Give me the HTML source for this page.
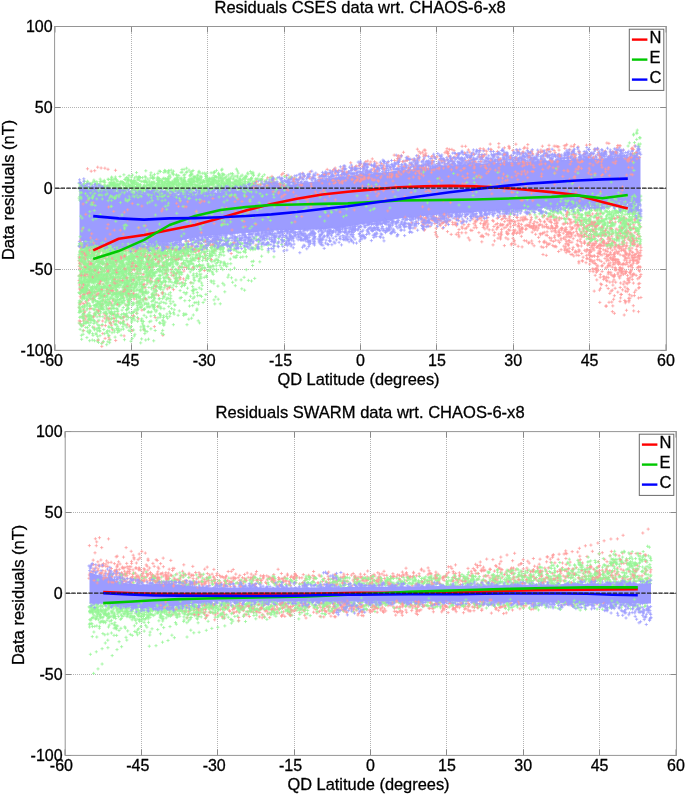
<!DOCTYPE html>
<html><head><meta charset="utf-8"><style>
html,body{margin:0;padding:0;background:#fff;width:685px;height:796px;overflow:hidden}
svg{display:block;will-change:transform}
text{font-family:"Liberation Sans", sans-serif;font-size:16px;fill:#000;stroke:#000;stroke-width:0.3px}
.tt{font-size:16.55px}
.g{stroke:#b4b4b4;stroke-width:1;stroke-dasharray:1 1;fill:none}
.t{stroke:#8a8a8a;stroke-width:1;fill:none}
.b{stroke:#959595;stroke-width:1;fill:none}
.lg{stroke:#6a6a6a;stroke-width:1;fill:#fff}
.z{stroke:#222;stroke-width:1.2;stroke-dasharray:4.3 1.4;fill:none}
</style></head><body>
<svg width="685" height="796" viewBox="0 0 685 796">
<rect width="685" height="796" fill="#fff"/>
<path d="M131.5 27V350.3" class="g"/>
<path d="M207.5 27V350.3" class="g"/>
<path d="M284.5 27V350.3" class="g"/>
<path d="M360.5 27V350.3" class="g"/>
<path d="M436.5 27V350.3" class="g"/>
<path d="M513.5 27V350.3" class="g"/>
<path d="M589.5 27V350.3" class="g"/>
<path d="M56 107.5H666.3" class="g"/>
<path d="M56 188.5H666.3" class="g"/>
<path d="M56 269.5H666.3" class="g"/>
<path d="M55.0 350.3v-6M55.0 26.5v6M131.5 350.3v-6M131.5 26.5v6M207.5 350.3v-6M207.5 26.5v6M284.5 350.3v-6M284.5 26.5v6M360.5 350.3v-6M360.5 26.5v6M436.5 350.3v-6M436.5 26.5v6M513.5 350.3v-6M513.5 26.5v6M589.5 350.3v-6M589.5 26.5v6M666.0 350.3v-6M666.0 26.5v6M54.6 350.5h6M666.3 350.5h-6M54.6 269.5h6M666.3 269.5h-6M54.6 188.5h6M666.3 188.5h-6M54.6 107.5h6M666.3 107.5h-6M54.6 26.5h6M666.3 26.5h-6" class="t"/>
<defs><marker id="mr" markerUnits="userSpaceOnUse" markerWidth="4" markerHeight="4" refX="2" refY="2" overflow="visible"><path d="M0.4 2h3.2M2 0.4v3.2" stroke="#ff9a9a" stroke-width="0.75" fill="none"/></marker><marker id="mg" markerUnits="userSpaceOnUse" markerWidth="4" markerHeight="4" refX="2" refY="2" overflow="visible"><path d="M0.4 2h3.2M2 0.4v3.2" stroke="#96f596" stroke-width="0.75" fill="none"/></marker><marker id="mb" markerUnits="userSpaceOnUse" markerWidth="4" markerHeight="4" refX="2" refY="2" overflow="visible"><path d="M0.4 2h3.2M2 0.4v3.2" stroke="#9c9cff" stroke-width="0.75" fill="none"/></marker></defs><clipPath id="ct"><rect x="54.6" y="26.5" width="611.6999999999999" height="323.8"/></clipPath>
<g clip-path="url(#ct)">
<polyline points="90.5,263.7 206.2,244.6 124.9,275.0 107.1,282.8 104.9,296.3 93.9,255.7 116.4,248.3 97.9,321.2 120.7,255.8 122.8,244.8 112.5,291.7 105.1,338.4 179.9,266.2 147.9,276.9 80.8,264.5 129.8,272.2 91.8,270.7 172.5,259.7 164.3,248.4 142.5,293.2 127.8,280.9 116.0,264.3 114.5,256.5 90.8,279.4 120.2,247.2 98.4,243.5 103.7,271.0 116.9,244.9 115.4,243.5 121.0,294.6 94.8,249.9 155.2,252.9 139.2,268.8 98.0,303.5 157.7,250.1 87.6,248.7 126.5,284.7 130.6,295.7 124.7,249.1 182.7,250.4 175.4,260.5 129.1,242.4 152.7,294.4 83.5,313.5 156.3,290.4 119.1,254.6 209.3,243.3 83.4,309.2 125.8,270.7 107.6,290.2 88.5,268.7 166.5,260.8 80.9,298.0 126.5,247.1 166.9,264.0 115.3,244.6 129.4,269.7 143.9,279.4 119.9,267.4 114.7,293.0 119.7,258.1 95.5,275.7 147.7,255.1 101.8,346.4 128.2,283.1 151.7,270.7 83.6,252.4 101.6,243.7 164.3,262.2 114.5,255.2 256.0,245.0 195.4,252.2 199.1,249.5 152.3,263.0 152.7,259.7 128.3,301.5 83.6,330.5 105.7,247.2 193.2,259.1 158.4,263.3 106.9,288.3 140.6,289.9 165.6,249.1 167.3,288.9 122.3,261.8 110.3,313.4 123.1,322.2 84.2,252.3 152.3,264.2 113.6,321.8 79.3,266.3 192.5,245.4 118.0,266.9 149.2,275.1 105.8,238.7 104.6,251.4 93.9,296.0 96.3,273.1 110.2,275.3 91.1,308.5 183.5,278.9 157.3,253.6 80.1,252.7 91.4,279.3 87.6,285.1 93.9,254.4 116.2,259.9 83.7,263.9 81.1,272.9 92.7,286.8 106.3,280.6 154.4,250.7 163.1,267.3 113.6,314.8 118.9,251.0 101.2,280.7 84.7,266.1 153.9,246.9 94.8,291.6 89.9,268.7 153.8,288.6 95.1,269.5 82.4,296.0 145.1,287.6 156.2,244.7 107.1,247.9 88.3,281.6 111.3,303.3 158.8,248.0 122.7,263.2 83.6,257.4 85.2,273.7 85.8,288.8 130.5,285.5 117.1,291.1 151.7,250.3 100.1,267.9 96.3,289.1 167.7,253.5 162.9,335.2 144.2,253.7 138.3,318.8 110.4,323.6 106.5,278.5 132.3,258.6 163.8,245.7 117.7,280.1 103.9,264.1 91.5,273.6 193.4,249.9 132.5,244.2 134.0,296.8 129.7,263.9 165.6,247.8 98.0,261.7 177.1,255.2 117.2,253.4 96.2,267.0 127.8,281.8 147.4,251.4 80.6,289.9 151.1,264.4 101.4,271.8 198.4,242.8 114.2,281.8 123.6,320.9 205.2,240.3 95.2,250.8 93.4,281.4 136.7,267.1 157.3,263.6 105.9,315.5 140.7,252.9 138.9,258.0 126.8,258.6 103.5,300.0 81.0,248.7 110.8,287.8 112.4,329.7 153.7,267.0 188.6,241.4 84.1,288.3 102.4,263.1 204.5,253.9 87.7,321.2 129.4,295.9 149.9,248.9 183.4,253.6 161.1,256.0 122.7,294.5 163.6,254.4 178.7,268.0 110.4,277.2 89.3,246.7 102.8,333.6 164.9,285.3 102.2,303.4 128.6,300.1 101.4,239.2 105.4,325.6 92.5,250.0 166.5,273.2 116.6,262.1 92.0,295.1 94.6,275.0 142.7,254.5 168.6,277.6 125.9,305.0 100.0,262.5 95.1,242.2 98.2,275.2 124.1,335.9 137.1,302.0 163.1,254.0 81.2,260.6 90.0,281.1 101.5,248.8 105.8,245.2 83.2,325.4 111.8,290.4 88.3,300.2 80.7,242.4 107.0,272.4 183.7,252.2 173.5,289.6 199.7,266.3 163.3,264.2 158.4,281.8 155.2,317.4 168.6,259.5 134.5,287.0 150.3,255.9 80.7,293.7 92.9,245.7 131.6,253.1 127.1,316.2 185.6,247.6 101.7,259.9 157.8,247.6 111.3,305.0 81.1,291.0 106.4,253.3 99.4,315.0 179.4,277.3 125.5,243.2 182.8,282.7 82.9,254.1 93.1,299.0 85.3,266.2 80.3,296.3 133.2,316.7 131.1,251.7 92.7,253.7 100.5,249.1 119.5,280.8 142.9,299.8 120.6,262.8 92.1,264.4 117.4,285.2 169.9,279.4 132.0,295.0 141.9,257.3 86.9,303.1 109.4,301.8 111.7,240.9 115.1,270.4 82.5,283.5 85.5,269.3 89.0,271.6 90.2,273.8 98.5,311.1 139.5,243.2 103.0,257.3 82.3,257.4 97.6,250.6 107.3,239.7 128.8,295.1 138.5,266.0 98.4,240.3 117.2,257.8 120.0,247.4 133.5,315.4 158.5,295.4 91.0,247.5 177.8,283.1 109.1,255.9 121.2,291.9 118.4,285.4 107.8,267.1 110.8,240.7 225.7,241.4 180.2,277.6 128.1,286.2 90.4,262.0 193.0,251.2 99.6,284.5 113.4,262.3 127.1,268.2 85.9,248.7 92.1,252.9 136.6,313.2 107.6,317.6 82.2,244.2 113.0,282.6 86.6,250.1 101.5,278.9 136.2,294.6 88.5,276.9 116.7,274.5 186.5,267.6 79.1,280.5 112.8,301.0 135.4,249.0 81.0,244.5 94.4,292.6 127.4,324.3 81.0,302.2 215.0,242.5 196.3,250.0 155.7,253.2 183.9,271.0 97.3,277.3 133.6,295.4 85.4,291.7 80.4,321.4 168.5,257.0 133.3,263.5 131.9,273.8 88.8,261.6 127.3,295.0 169.7,248.9 130.2,273.8 157.8,251.6 111.3,287.9 149.5,249.9 139.9,279.6 93.2,265.2 186.6,246.7 101.7,242.0 141.3,255.3 88.1,290.4 205.3,258.3 163.3,258.0 180.0,279.2 113.9,244.9 212.8,240.2 116.5,255.5 90.4,267.8 106.8,263.6 141.6,260.7 158.5,243.9 188.7,247.3 99.3,255.8 204.3,248.9 149.1,270.9 181.1,250.4 86.3,316.8 191.7,246.4 96.6,275.5 145.4,247.8 159.5,260.1 108.2,257.0 79.9,268.7 117.7,281.7 175.3,278.5 132.4,269.8 148.3,250.1 127.8,264.5 108.9,258.5 112.5,314.0 85.5,259.0 164.6,266.2 157.4,306.6 141.6,263.4 167.6,251.5 106.7,292.1 143.1,249.4 102.7,295.5 140.2,273.1 140.5,262.9 139.5,260.8 110.7,255.2 125.0,277.1 97.3,261.1 97.8,284.7 119.2,253.7 181.3,256.4 91.6,276.9 152.0,266.4 167.1,248.0 79.2,275.8 88.5,263.1 104.6,279.9 94.0,327.3 101.8,255.4 158.9,270.6 182.0,263.6 138.5,277.1 102.2,304.5 148.7,275.7 200.9,246.0 149.6,242.0 120.7,293.3 134.2,260.8 129.3,326.1 106.7,252.3 111.6,325.2 179.4,244.6 214.6,250.4 203.9,246.9 84.7,260.1 133.4,250.2 109.5,266.4 128.7,257.1 118.6,321.9 130.1,291.0 149.4,273.9 154.0,295.7 146.9,277.9 113.8,277.3 134.1,299.0 128.1,250.7 152.3,258.1 171.2,272.8 112.7,254.0 131.4,290.4 81.3,277.0 104.2,313.8 169.6,265.1 85.7,301.8 97.6,260.2 113.9,287.9 154.4,326.6 101.8,305.4 140.4,253.1 82.6,262.2 84.8,315.8 108.8,337.2 96.5,242.9 82.6,316.7 92.9,248.7 83.2,258.8 102.1,279.5 125.0,269.0 140.5,269.1 101.2,306.1 115.4,285.2 149.4,257.0 200.8,243.8 153.3,249.3 121.2,250.0 201.1,268.8 80.7,269.1 178.0,256.4 162.4,293.8 85.7,276.6 80.6,301.7 117.8,244.7 122.0,266.0 114.0,253.7 103.7,276.8 136.3,277.1 102.0,262.5 155.2,281.1 151.5,260.6 106.3,242.7 101.3,308.2 117.8,260.1 81.7,261.6 124.5,286.9 123.7,297.1 127.1,247.0 85.2,262.6 131.5,279.6 80.8,274.2 171.1,269.6 96.8,309.9 86.6,251.2 108.4,293.0 159.4,261.2 96.5,259.2 144.6,284.2 157.2,257.3 129.5,261.5 116.8,290.2 113.2,299.5 201.2,246.2 109.5,239.2 145.3,291.6 84.3,312.6 85.6,272.7 134.6,245.6 123.3,250.1 84.6,257.7 111.1,263.3 119.2,248.6 112.9,280.9 155.1,246.7 132.8,265.5 163.2,265.4 132.6,254.2 144.1,287.4 145.1,253.5 165.0,273.7 159.1,252.3 123.8,287.7 105.4,258.4 90.0,275.7 119.3,259.3 102.8,342.3 89.1,290.6 79.3,307.5 186.3,249.2 109.3,339.5 104.7,257.9 126.5,245.6 106.9,290.5 143.8,329.6 92.7,259.7 102.0,325.6 96.3,251.0 249.3,241.5 171.3,249.0 114.5,258.4 97.7,312.0 81.1,257.6 139.3,241.2 79.6,246.7 94.3,313.8 132.7,283.3 183.3,247.7 171.5,256.7 167.0,268.9 91.1,292.2 109.8,268.3 91.5,275.6 147.8,282.9 132.4,330.5 217.4,248.3 117.9,314.0 191.3,247.2 115.7,340.5 80.0,323.6 107.2,266.0 132.9,257.9 79.3,320.9 122.5,249.1 136.9,253.2 191.7,248.6 137.6,274.0 190.9,282.7 96.8,255.5 100.8,262.9 142.0,277.0 88.1,294.0 89.7,308.8 165.7,270.6 199.5,250.1 119.8,278.0 134.9,248.8 83.5,320.9 136.6,282.7 103.2,252.1 113.0,243.7 103.2,284.1 117.5,283.3 110.0,261.6 179.0,253.1 106.4,276.6 109.1,248.2 144.3,268.3 79.1,260.6 88.3,267.2 210.9,241.5 156.2,294.0 85.0,311.1 125.5,287.8 102.0,269.0 107.0,246.2 120.8,293.0 120.7,281.3 166.1,270.4 120.8,318.1 162.2,266.4 87.3,258.3 89.3,253.2 568.0,157.9 350.7,162.8 424.2,150.1 595.6,156.2 631.8,148.4 591.6,154.0 289.8,178.5 572.1,151.3 490.2,144.1 403.3,166.6 367.8,161.0 279.5,187.0 379.1,165.4 620.6,157.6 559.0,150.1 302.4,173.3 565.9,145.7 442.6,167.2 272.0,176.4 347.9,172.4 343.1,173.8 605.5,151.3 324.4,184.5 419.0,160.1 554.1,150.5 610.3,152.1 358.9,165.8 401.4,155.4 414.7,159.8 522.3,158.5 615.8,154.2 298.0,180.5 265.1,186.2 383.3,165.2 360.7,164.1 447.9,151.6 636.0,162.6 516.0,157.6 578.2,146.9 632.9,160.7 337.4,171.4 449.6,149.4 556.9,159.7 523.9,148.4 466.5,162.2 428.4,165.8 482.9,155.1 557.1,155.4 546.3,152.8 291.3,176.9 548.6,162.4 583.6,154.7 555.2,152.7 299.7,177.7 470.4,157.2 573.4,146.6 265.3,181.4 317.8,174.6 418.1,155.4 304.7,183.1 480.1,148.6 447.7,153.2 434.7,157.7 421.4,165.5 634.3,155.9 312.7,183.7 484.7,150.3 352.5,167.1 604.5,153.4 518.2,158.4 498.8,143.6 509.4,147.1 295.8,183.9 532.7,154.4 543.1,160.6 454.9,156.9 400.9,156.9 306.5,186.0 365.8,161.6 387.8,162.4 341.0,178.9 381.4,163.7 432.9,155.9 512.8,150.4 592.2,160.8 634.7,145.9 556.1,146.2 425.2,150.2 462.1,146.3 365.5,164.4 568.7,156.7 590.4,155.4 598.3,152.6 375.5,175.3 385.7,168.3 352.4,169.5 515.7,163.4 510.3,163.3 523.9,159.5 399.6,161.2 524.7,147.3 365.6,175.8 431.6,163.9 421.8,169.8 505.1,154.3 476.4,163.1 335.8,177.4 464.6,152.9 510.9,155.8 276.4,185.2 516.4,159.8 315.1,182.3 339.2,181.7 465.6,146.3 532.5,153.4 586.6,164.1 614.1,153.1 505.3,162.8 372.3,177.0 468.4,160.5 509.3,148.4 443.7,160.2 445.0,152.7 267.0,187.4 446.3,151.1 398.6,174.5 504.4,147.8 581.1,159.4 574.1,158.9 319.1,177.7 497.1,154.7 568.7,153.0 332.7,171.0 394.5,160.5 569.8,149.4 452.2,158.3 423.7,156.2 604.4,151.6 470.2,158.6 363.7,174.4 339.8,180.4 486.2,154.1 398.1,169.2 540.9,150.0 363.9,166.4 437.2,156.8 517.1,165.4 623.0,219.6 597.3,247.2 577.0,244.3 519.4,229.0 606.9,228.1 628.9,278.9 592.4,268.9 609.8,282.1 603.6,279.3 527.0,219.5 535.6,234.3 612.8,233.6 603.3,276.8 427.7,225.1 565.8,246.8 629.2,247.9 542.2,225.2 603.0,245.9 629.7,254.5 603.5,240.5 422.1,219.4 605.6,250.1 514.3,231.2 548.0,244.4 628.1,280.3 632.1,258.0 546.3,255.4 622.9,245.0 504.3,215.2 599.2,253.5 608.0,265.7 526.8,225.1 558.3,231.8 591.3,251.4 566.6,241.4 495.9,224.5 596.6,241.3 601.8,218.3 612.7,218.6 593.7,248.0 608.0,248.7 630.0,277.7 456.3,234.3 620.9,247.1 594.0,250.1 561.2,228.5 570.1,226.9 607.1,246.4 543.2,247.4 543.7,241.9 508.0,239.1 590.7,234.6 601.6,284.6 521.4,224.4 553.5,215.2 586.4,255.6 640.9,255.7 475.8,222.0 616.9,259.6 608.8,260.3 640.2,252.9 556.3,225.5 576.4,228.9 497.8,227.0 638.4,283.9 588.5,237.9 488.0,224.1 578.9,263.0 599.0,250.9 629.9,221.0 488.3,234.8 482.1,235.3 610.8,220.6 553.4,241.5 629.4,262.3 459.0,236.8 611.8,223.2 587.3,258.3 583.1,257.2 623.3,284.2 476.9,216.3 617.8,274.2 472.9,219.1 544.7,226.8 603.9,243.1 577.5,233.7 633.7,310.9 640.9,247.4 597.3,259.6 612.9,285.1 462.3,228.2 601.5,238.6 426.3,220.8 563.8,246.1 632.1,276.2 613.6,299.3 590.1,224.3 546.5,226.7 532.2,232.2 584.0,231.2 507.7,234.3 626.6,260.8 525.5,229.3 456.6,225.7 612.1,245.2 576.3,231.4 612.1,275.4 525.2,217.0 625.4,273.5 570.4,222.0 525.2,225.9 590.2,255.9 551.8,226.8 630.6,234.0 568.4,244.7 624.9,226.5 589.0,238.3 416.8,222.2 610.1,238.5 518.3,225.3 581.7,235.6 566.6,234.8 589.2,250.4 578.0,224.6 502.9,218.5 559.3,234.5 526.5,241.0 616.4,251.2 554.7,220.4 622.7,268.2 600.1,240.0 588.6,220.7 578.8,225.7 546.6,242.9 556.2,217.1 619.7,278.0 455.1,222.8 554.9,223.6 624.9,251.1 629.9,251.0 620.6,283.0 517.9,220.7 607.9,243.5 522.3,232.1 592.1,245.5 633.4,283.1 595.8,224.5 457.3,219.9 604.2,242.9 423.9,217.9 424.9,221.2 512.3,221.0 580.8,221.6 534.7,221.7 627.2,291.7 418.3,217.9 538.4,228.1 440.8,220.4 629.9,298.3 608.2,274.0 593.4,243.8 528.3,212.9 476.6,227.7 621.3,248.9 586.4,228.4 638.5,298.0 607.3,244.6 546.0,235.0 614.0,279.9 632.0,265.1 446.8,222.9 595.2,222.2 550.9,221.9 559.7,232.5 613.4,254.4 522.6,219.6 639.0,255.7 483.5,224.1 451.2,234.4 627.4,234.0 569.5,219.6 578.3,210.2 568.1,234.7 595.7,269.2 588.2,215.7 632.5,274.9 637.3,256.9 515.2,230.1 596.8,279.9 559.3,217.6 551.8,231.2 409.5,225.0 604.3,231.6 612.8,305.9 449.8,220.6 594.1,238.1 594.8,209.9 452.9,224.5 594.5,244.1 529.3,224.8 588.8,243.4 592.1,261.1 435.4,232.3 412.5,216.6 619.1,217.4 468.0,226.3 549.2,217.1 627.0,223.2 633.8,212.4 628.7,298.3 584.5,243.4 569.0,236.4 423.4,225.2 613.4,276.7 626.5,310.3 570.8,219.8 568.4,245.2 542.4,233.7 579.1,236.2 534.1,245.8 610.9,274.2 562.3,228.6 600.4,274.4 493.0,244.9 607.5,267.0 601.3,245.6 623.3,249.3 571.0,254.5 428.8,220.7 588.2,244.3 602.3,230.2 631.2,270.9 631.3,234.3 598.1,256.7 617.4,233.9 621.0,270.0 481.6,216.5 463.9,224.7 458.1,218.9 633.7,273.9 630.1,232.9 640.6,227.1 617.7,235.7 615.4,260.6 616.7,236.9 584.3,227.8 573.2,247.4 591.1,238.8 626.8,245.5 618.1,272.8 531.7,241.0 411.6,222.8 636.3,249.4 575.4,251.1 541.3,246.8 547.7,219.2 600.7,228.3 622.6,289.8 500.5,239.0 492.7,220.4 639.6,271.2 609.4,233.8 621.6,250.6 628.6,266.7 584.6,219.7 628.9,301.9 513.0,234.1 592.3,226.0 577.6,240.7 609.1,265.4 544.3,242.6 616.6,269.7 509.3,222.9 634.2,244.7 597.0,268.0 558.6,251.5 629.2,258.1 578.9,249.8 623.7,263.4 522.1,246.9 626.9,253.6 544.7,241.2 632.9,260.3 510.4,220.3 631.7,256.0 461.9,226.9 590.5,231.1 498.0,238.2 423.9,223.7 547.3,235.5 565.4,223.1 605.7,268.0 522.2,228.2 612.8,281.9 612.2,250.2 612.3,267.1 555.4,246.2 610.8,272.3 509.2,218.1 596.1,235.6 530.2,227.2 557.3,226.9 544.3,232.3 618.0,247.7 610.2,262.9 637.1,259.9 431.7,218.5 513.0,233.6 627.9,238.9 638.8,258.0 621.7,220.2 632.4,267.7 590.6,215.7 610.1,245.5 505.9,237.9 458.1,216.8 639.4,277.7 581.7,253.5 532.6,228.1 608.8,231.9 612.8,242.2 452.6,222.3 592.8,262.1 638.9,252.9 615.7,244.3 622.9,246.5 626.8,262.6 555.6,240.1 568.7,251.5 520.1,230.4 582.6,261.2 625.1,231.6 604.8,233.1 606.4,285.7 600.8,222.1 620.6,297.9 531.5,226.4 505.8,218.6 561.0,240.0 630.7,229.5 540.5,234.8 625.7,272.7 611.1,254.8 571.0,233.6 601.9,235.6 625.8,301.5 614.9,253.2 580.2,239.2 576.8,255.1 622.7,235.9 592.7,249.1 631.8,295.9 601.3,261.4 509.8,230.3 626.3,218.8 592.5,230.9 481.0,236.4 550.6,216.6 613.6,259.5 589.4,242.6 595.4,263.5 500.5,237.8 584.4,236.5 533.6,225.6 539.4,219.5 600.2,277.2 565.7,243.9 617.8,292.1 632.4,240.0 594.2,291.1 566.9,232.3 565.0,229.0 484.1,223.5 624.2,315.0 618.3,246.0 481.8,241.8 618.0,259.6 559.5,242.6 577.3,222.3 509.5,221.0 622.1,273.1 478.9,232.6 597.7,246.8 563.5,238.2 554.4,219.6 611.1,291.1 573.3,232.6 445.7,225.3 509.7,216.3 621.8,271.7 608.6,263.9 581.8,233.1 504.4,245.6 536.2,226.2 623.5,274.3 599.7,244.1 557.1,222.7 594.1,255.7 630.4,274.0 624.2,256.4 590.9,259.7 502.9,224.6 569.2,248.3 555.6,228.0 625.3,302.8 602.1,232.8 599.5,290.1 521.0,217.9 631.6,237.2 637.1,261.0 619.7,231.1 603.6,233.7 501.5,234.8 416.7,213.3 583.6,227.8 501.6,229.4 577.9,215.0 617.5,253.2 622.2,243.2 552.3,227.2 609.3,254.4 581.7,236.9 615.2,267.5 539.1,225.6 618.1,230.0 496.7,229.1 567.4,211.6 597.8,253.2 565.4,231.3 561.0,238.3 525.5,218.7 586.0,262.7 607.3,259.0 607.7,239.1 566.2,250.0 570.3,232.6 612.3,290.2 527.6,225.4 582.0,223.8 423.1,220.1 534.3,230.1 501.7,225.0 624.9,287.0 589.4,259.2 558.6,236.1 620.8,236.2 620.0,301.4 480.6,223.3 602.7,225.9 635.8,260.5 616.2,229.0 632.6,235.6 569.1,231.9 570.0,224.0 613.8,241.9 455.1,224.5 612.9,257.1 583.5,224.5 607.7,251.6 611.0,245.3 487.2,227.9 536.8,216.9 615.1,268.9 625.8,258.3 483.6,225.8 518.2,246.3 586.9,249.5 571.1,229.8 635.6,229.1 604.3,235.7 565.2,239.6 576.3,251.9 628.5,237.1 510.4,226.9 614.9,260.1 580.9,231.8 450.3,216.1 608.8,272.5 625.9,223.3 517.2,217.5 596.1,268.5 593.3,234.9 493.9,226.5 555.6,228.2 442.7,228.3 415.0,228.0 626.2,246.6 528.5,243.1 483.5,217.1 599.0,253.5 592.0,246.0 591.1,256.2 630.8,270.0 537.1,222.6 573.8,256.0 574.9,225.9 606.7,260.9 578.3,246.0 628.3,289.7 620.9,275.6 612.5,260.2 600.6,244.6 625.6,252.1 421.8,222.0 507.2,225.4 630.3,250.2 639.0,224.4 590.1,252.6 617.8,261.8 632.0,252.0 637.8,278.8 572.3,254.4 436.0,234.8 529.9,214.7 635.9,290.2 612.3,240.9 437.3,236.8 600.3,251.5 558.2,240.8 596.5,213.7 598.2,221.5 571.7,234.3 596.1,231.7 637.4,251.2 477.6,219.9 596.6,270.0 610.6,258.3 621.0,230.0 569.9,242.4 615.3,222.1 630.5,272.2 621.2,272.9 594.9,223.0 597.9,266.1 566.2,252.6 614.7,242.5 592.3,256.4 639.3,287.5 606.6,280.6 602.6,241.8 514.6,215.1 523.1,217.2 594.1,236.7 468.3,237.9 574.0,214.4 578.2,251.8 595.6,225.3 482.2,236.4 575.3,216.9 554.2,230.9 489.2,229.8 593.9,269.2 515.0,244.3 580.2,234.8 623.0,271.3 551.1,240.4 636.8,253.4 518.0,226.7 500.5,224.1 638.4,255.6 551.5,216.5 576.1,224.7 602.5,265.8 639.7,283.4 524.3,240.6 513.6,232.9 594.2,260.8 620.0,267.4 621.4,294.5 417.9,217.4 577.1,217.9 466.5,228.0 590.7,241.9 600.7,283.9 506.0,227.2 533.5,226.9 511.1,212.9 633.4,239.0 584.7,250.3 540.2,224.4 629.1,280.9 506.6,233.1 426.6,217.8 638.6,262.0 593.1,271.6 432.2,220.0 534.1,225.2 437.5,222.1 636.9,246.6 614.4,256.6 530.0,222.7 640.8,250.4 582.6,236.1 543.0,217.1 615.8,246.4 592.7,229.3 598.4,245.5 430.0,226.5 633.3,305.7 533.1,228.5 497.7,227.5 544.4,222.1 608.2,288.5 615.0,249.1 581.3,225.6 465.4,216.8 558.1,234.9 636.5,238.1 603.8,231.9 561.6,230.1 508.6,229.7 581.3,246.0 516.6,233.4 587.3,228.4 475.1,217.2 504.0,216.4 515.3,224.7 622.9,264.7 493.4,221.2 514.8,221.4 591.1,247.3 623.3,241.9 619.7,248.7 623.9,250.5 587.9,230.0 542.8,227.0 618.9,251.5 599.9,245.9 529.5,226.3 518.8,223.4 624.1,218.0 634.4,257.6 497.4,223.5 547.1,231.8 619.9,268.1 626.1,283.0 599.8,302.4 591.1,237.9 629.4,272.4 636.8,240.3 481.8,220.3 618.3,261.3 567.5,223.4 580.2,241.5 556.0,232.7 589.9,271.1 484.9,228.9 577.6,225.1 608.8,241.5 568.3,218.9 485.3,222.9 410.0,225.6 507.8,224.7 592.3,243.9 614.7,252.7 556.6,218.7 627.7,278.8 565.0,237.0 629.4,253.3 498.5,234.2 578.0,234.9 606.5,256.3 638.7,216.7 539.1,224.9 494.5,240.9 447.9,221.6 623.0,255.5 614.4,275.4 613.4,262.8 554.1,228.5 520.3,231.8 556.8,226.1 424.9,222.7 588.7,236.2 440.0,216.3 566.2,229.5 618.2,253.0 492.8,230.0 500.2,225.4 588.7,254.3 436.6,217.7 596.4,272.3 624.0,220.3 474.0,223.7 634.5,292.3 511.6,220.8 624.2,281.8 448.4,217.4 616.0,245.2 594.2,263.4 546.5,246.7 626.7,232.9 634.0,274.4 620.7,268.3 611.8,243.2 624.5,238.0 573.2,238.7 624.6,240.2 590.0,255.6 433.9,220.7 582.2,260.6 468.8,224.5 583.0,229.1 470.7,230.2 638.5,311.7 520.1,220.3 554.2,246.6 559.2,230.1 608.5,255.6 579.5,220.0 594.3,245.5 500.1,216.2 640.3,245.0 514.8,222.2 434.9,223.6 621.0,264.4 413.7,213.2 501.7,219.6 637.3,267.8 598.1,270.3 504.7,221.6 561.1,249.7 608.4,272.0 460.9,221.7 630.7,266.1 637.9,246.0 567.4,249.8 475.2,221.6 632.8,252.6 630.3,260.6 622.7,241.9 424.6,229.6 435.2,219.2 625.2,254.8 494.1,235.2 571.8,222.8 532.2,243.7 618.6,264.4 536.6,227.2 494.7,232.5 569.5,251.8 578.8,255.5 575.0,252.4 539.4,241.7 475.9,220.3 610.2,227.1 606.4,306.1 429.4,222.3 565.0,248.2 623.8,217.0 487.1,220.7 614.2,247.1 640.9,297.5 535.2,227.4 605.8,306.1 591.3,224.1 533.3,223.5 637.5,234.4 511.3,244.8 564.4,230.7 612.4,311.6 595.2,275.3 555.5,230.8 586.7,236.2 626.8,243.0 639.5,259.0 567.3,243.8 519.4,226.6 115.5,170.3 101.1,168.0 108.0,169.3 97.7,167.2" fill="none" stroke="none" marker-start="url(#mr)" marker-mid="url(#mr)" marker-end="url(#mr)"/>
<polyline points="154.4,186.9 207.9,190.8 151.7,186.1 161.6,188.7 195.6,200.4 80.0,187.2 83.2,201.4 131.9,193.6 131.2,181.9 154.0,188.8 134.0,197.8 198.5,192.0 245.2,186.0 242.5,179.9 205.0,199.6 204.0,185.8 152.8,178.4 220.3,177.6 114.6,194.5 243.7,178.3 247.6,173.1 95.6,195.6 177.2,181.4 184.8,174.6 123.0,193.6 92.7,187.4 110.9,193.5 135.6,194.4 197.2,177.1 188.4,188.1 181.0,190.4 136.5,186.6 115.3,178.6 183.6,192.1 226.7,200.5 263.5,191.8 148.0,191.9 221.3,183.7 122.7,196.7 193.7,192.8 140.5,177.6 97.0,197.5 225.1,185.8 211.2,193.5 85.7,187.0 142.9,197.8 224.5,183.4 240.7,181.9 190.8,179.2 111.9,199.2 184.8,184.7 168.9,189.6 192.9,182.6 230.5,178.8 216.1,180.8 243.2,186.7 156.1,194.8 276.1,179.0 251.3,173.4 123.5,195.6 169.8,186.6 212.4,189.2 245.1,183.5 112.5,184.8 131.5,203.8 146.9,187.7 188.9,192.8 143.7,186.6 203.4,180.7 117.6,188.7 228.0,193.9 215.8,195.9 180.0,195.8 225.2,195.4 159.2,182.7 178.5,180.2 86.5,198.5 140.1,185.1 79.1,198.1 197.9,180.2 239.4,192.9 111.1,179.4 219.4,174.7 198.6,190.4 195.8,186.8 161.6,187.3 84.0,198.8 176.7,175.2 254.1,184.7 226.7,180.5 92.9,193.7 226.7,176.2 216.6,176.8 207.0,193.3 128.4,185.3 241.2,189.0 206.9,190.9 173.6,191.3 164.0,178.3 211.1,189.3 174.3,183.9 149.7,185.2 127.6,189.6 166.8,189.2 270.0,177.5 266.3,187.2 197.4,181.2 114.2,190.8 233.4,178.1 182.1,191.1 216.1,196.2 173.5,184.6 218.4,183.9 175.7,200.9 96.8,192.6 104.3,180.4 80.9,195.4 115.3,189.4 90.8,195.0 80.1,186.8 176.6,185.7 170.3,191.1 123.1,183.0 175.1,178.9 266.6,179.8 145.1,181.1 119.1,189.9 145.5,194.0 219.8,175.6 145.4,201.5 194.7,181.2 171.9,197.8 122.3,197.4 251.4,186.2 250.6,178.6 166.1,181.5 85.7,189.0 187.9,186.1 189.0,190.2 183.0,184.1 159.2,189.7 194.5,197.8 92.9,191.0 193.8,181.1 218.5,174.2 253.8,189.2 199.2,194.9 114.5,188.5 157.0,179.1 214.0,175.7 165.2,195.0 228.7,174.8 237.3,193.6 164.7,186.1 138.6,183.9 196.1,181.7 180.8,179.1 149.2,199.0 153.4,191.1 258.5,189.0 242.4,195.3 209.6,178.4 214.5,180.2 160.3,186.2 157.6,194.8 80.7,196.5 188.5,184.8 208.7,195.0 147.3,188.6 131.7,202.0 139.9,197.5 191.5,174.1 255.5,193.0 208.9,190.8 108.7,188.3 149.0,198.9 270.8,182.1 201.3,181.8 93.9,199.5 187.7,195.7 263.5,194.6 151.3,183.9 198.9,179.8 215.5,176.6 87.9,182.1 106.9,186.4 142.0,181.7 136.5,193.7 118.0,198.9 230.9,173.6 184.7,190.9 202.4,193.5 117.2,191.2 255.8,178.8 92.7,182.4 238.2,180.9 257.7,178.8 289.2,188.0 218.6,181.2 234.5,194.7 134.2,182.8 131.3,177.1 117.5,184.6 248.0,174.0 168.8,171.0 93.9,180.1 227.8,191.6 206.4,180.4 151.0,172.8 85.0,200.3 237.2,175.8 185.3,186.6 93.4,188.2 154.7,183.4 145.1,176.4 129.9,192.7 156.2,195.3 155.6,201.5 84.3,186.3 266.7,183.1 129.7,185.7 172.6,192.1 139.7,188.7 212.6,183.4 124.2,183.7 93.6,189.2 123.7,182.9 232.3,188.5 189.8,181.9 168.4,181.2 113.8,182.7 145.8,170.8 197.4,190.0 163.4,201.3 238.8,189.7 265.1,188.1 109.3,201.9 179.3,185.8 162.5,181.5 92.9,189.4 165.8,188.1 207.7,180.4 115.8,193.8 183.1,183.4 100.5,186.8 251.8,183.5 181.8,178.1 130.7,180.9 181.8,200.5 148.9,194.2 122.8,192.5 227.6,180.1 139.2,184.9 132.1,192.8 184.4,179.0 107.4,188.7 144.4,197.9 97.8,189.6 203.3,191.7 190.9,175.7 179.2,183.7 164.6,170.4 167.1,191.1 190.5,182.6 233.1,179.3 185.3,190.0 160.7,191.6 249.1,188.2 100.3,181.4 204.3,192.1 150.3,184.5 154.0,188.0 104.4,191.0 211.3,182.9 204.3,186.8 219.1,189.3 159.1,198.7 260.5,183.8 113.1,198.9 108.6,187.9 103.7,187.3 189.9,190.0 230.4,191.0 80.2,191.3 158.1,178.0 125.4,194.2 126.3,189.9 242.1,185.9 142.6,190.2 132.3,187.5 196.0,197.8 210.9,183.4 94.7,181.6 163.5,196.1 178.9,187.7 145.4,186.8 235.6,181.1 156.8,188.8 107.8,197.2 115.7,186.9 219.3,185.5 213.2,178.8 90.1,183.5 206.7,182.2 230.3,183.0 186.3,188.6 177.1,188.0 198.1,184.4 123.9,174.8 143.2,190.3 174.7,188.4 271.4,178.9 239.5,193.6 278.4,188.9 208.0,184.4 162.0,195.2 187.6,184.7 254.9,192.3 200.0,173.1 115.2,184.7 178.8,191.1 223.2,180.0 89.0,187.8 140.3,198.2 112.5,183.2 177.8,190.2 158.6,181.7 194.3,177.5 88.5,191.0 205.9,176.6 105.0,192.4 255.3,183.4 221.5,186.0 164.1,201.6 156.3,196.4 132.5,186.0 257.4,188.6 220.9,185.4 208.2,182.0 237.5,171.0 193.0,170.5 95.5,193.2 167.6,179.0 219.2,181.7 292.8,182.5 167.9,181.1 208.9,189.7 110.4,182.8 167.7,201.6 132.5,175.1 116.3,197.6 179.9,190.7 84.8,195.9 130.1,201.3 183.4,179.9 96.4,186.0 131.2,180.3 101.1,181.4 127.0,198.6 162.3,188.0 188.9,189.7 143.8,186.0 134.5,178.0 128.3,183.1 223.1,181.4 196.8,179.2 206.1,196.1 113.5,189.1 141.8,197.5 252.9,181.2 275.1,186.6 191.9,171.6 124.8,189.0 203.5,192.4 202.5,186.2 231.6,197.8 186.8,183.4 203.1,195.8 189.3,197.6 184.4,186.9 259.8,191.6 88.5,199.5 202.7,173.2 241.6,197.1 248.5,182.6 264.3,174.8 160.5,171.5 111.9,183.0 240.0,185.6 146.8,181.8 93.6,190.9 201.9,189.9 94.1,192.9 84.8,194.3 143.5,189.5 160.1,194.5 245.9,177.0 231.3,176.8 241.6,186.1 218.9,192.3 236.3,187.1 223.0,178.1 85.3,188.2 191.4,178.8 192.2,189.2 242.2,175.1 203.4,189.3 226.0,190.1 79.2,183.5 154.1,191.7 107.8,200.3 222.9,191.5 113.8,179.7 149.9,199.7 276.9,190.7 180.9,183.4 86.8,197.6 242.7,184.5 140.4,192.6 223.6,187.5 251.8,185.2 115.7,187.8 190.2,195.8 220.4,186.9 185.9,185.9 197.2,185.5 84.2,189.2 249.9,181.1 148.4,185.3 168.7,179.0 124.2,191.8 191.4,195.5 190.3,172.2 155.7,190.3 243.7,184.8 136.8,184.5 118.2,184.9 161.4,182.2 84.4,197.6 107.9,192.4 223.4,183.3 205.7,187.1 213.2,181.8 164.3,185.1 164.8,192.8 132.5,198.8 103.2,190.2 266.0,186.2 152.1,187.4 154.2,194.3 251.6,177.8 197.6,194.8 274.7,183.3 105.0,185.1 263.0,189.4 182.2,193.9 163.5,195.0 237.7,184.0 152.7,195.1 177.4,179.6 242.1,189.7 189.4,180.7 226.9,179.5 239.3,178.4 193.6,188.2 161.4,198.0 144.2,184.9 186.6,168.2 130.8,184.8 111.8,191.3 150.0,197.5 138.8,191.2 250.8,186.9 125.7,192.5 179.4,191.9 156.8,192.3 236.4,169.1 199.2,179.6 134.0,187.1 225.0,189.2 252.9,190.3 184.4,181.6 114.6,192.7 90.1,186.7 245.2,198.2 167.2,189.5 88.0,188.0 159.7,199.9 110.2,196.9 234.8,184.4 130.6,199.9 245.5,181.7 162.7,183.6 135.4,192.4 194.7,176.9 83.0,189.9 198.8,191.3 272.9,177.9 196.0,198.7 157.3,180.5 171.8,183.9 99.7,183.8 273.1,184.2 104.5,189.9 219.5,184.5 221.1,191.0 191.9,180.0 243.7,185.8 119.1,187.8 168.2,173.0 173.0,173.7 182.9,197.8 126.0,193.9 115.3,194.0 212.2,180.6 174.2,181.4 200.5,195.2 136.2,176.8 171.8,191.1 141.2,191.3 172.0,194.7 119.3,199.5 203.6,181.1 194.7,193.3 175.4,179.6 101.1,185.3 250.5,188.4 147.6,184.2 201.7,186.7 274.2,185.6 183.5,190.5 240.8,176.3 89.7,194.7 91.1,188.9 168.8,184.1 102.3,193.3 125.7,185.5 175.8,196.7 236.5,185.9 214.0,183.6 202.7,182.6 129.1,184.9 281.9,182.6 84.7,201.6 255.9,181.2 107.9,185.4 143.6,181.2 234.9,199.3 175.1,182.5 138.2,201.2 252.0,196.8 143.0,198.9 92.7,192.6 188.5,187.1 184.1,169.3 168.8,170.5 104.4,190.3 147.9,192.4 123.1,194.0 227.1,196.6 197.9,187.3 108.7,179.5 100.7,192.9 197.0,187.3 149.4,201.0 133.9,184.2 216.6,188.9 162.0,192.6 159.2,171.1 214.4,177.5 198.4,178.9 167.6,183.4 152.3,177.3 177.8,185.8 200.3,192.9 217.2,182.8 146.7,182.4 251.6,178.5 232.9,182.9 225.1,183.5 234.5,181.3 126.8,202.8 98.2,194.9 148.9,197.0 260.4,180.2 105.4,188.4 182.5,186.8 183.1,196.6 126.3,183.2 190.3,199.0 180.7,192.3 134.6,201.0 81.0,190.9 174.0,201.0 166.2,184.0 120.0,193.3 169.8,175.1 101.6,197.7 199.3,191.7 128.3,180.2 218.5,173.2 189.7,175.9 97.3,193.0 176.3,174.9 132.6,189.1 95.5,184.2 152.0,182.0 167.6,196.3 253.6,195.1 250.7,194.6 202.3,185.1 236.8,182.2 89.1,191.3 229.8,186.0 239.7,179.7 133.4,186.5 234.4,187.0 152.6,192.6 113.6,194.1 127.9,177.8 113.9,183.3 101.9,187.9 160.2,193.5 218.5,190.5 136.8,197.2 193.3,186.5 180.3,200.4 240.5,185.0 232.5,186.8 240.7,180.6 107.8,202.4 150.3,178.0 171.0,198.2 119.1,194.2 243.2,184.0 231.7,195.0 228.1,182.9 197.7,178.3 109.3,185.8 188.4,179.9 106.7,201.9 146.3,190.2 106.8,187.1 174.0,189.1 140.4,203.5 114.4,197.2 218.6,178.8 171.2,170.1 229.6,187.4 240.7,179.2 84.1,183.5 185.1,191.5 208.2,180.5 145.1,182.1 154.2,177.8 86.1,189.5 245.5,190.9 134.6,188.9 223.5,193.9 235.4,184.8 175.6,190.5 89.4,190.5 175.6,189.1 146.5,189.1 184.9,199.4 158.0,178.7 118.8,190.4 207.9,187.7 196.7,195.4 94.4,201.3 201.4,187.6 224.4,184.1 186.6,192.2 157.5,198.3 173.4,174.7 176.6,184.0 229.0,196.2 174.5,180.3 144.6,182.0 145.2,199.3 118.7,201.9 159.0,184.5 226.1,185.5 250.6,184.2 149.9,188.0 171.2,190.3 288.3,191.5 137.7,186.4 250.1,187.3 243.1,190.5 95.6,202.5 99.2,193.9 207.8,194.6 190.5,174.7 172.6,183.7 127.0,181.8 158.1,183.0 99.3,197.3 158.1,186.7 134.5,186.6 214.0,180.1 176.5,199.8 254.0,191.5 141.1,181.3 242.1,182.8 150.2,192.9 201.3,179.3 96.8,199.6 182.7,182.4 189.1,189.5 184.8,194.3 92.3,195.8 224.2,174.8 94.4,188.8 159.4,178.6 258.2,191.6 146.8,196.5 121.4,190.0 216.3,183.1 158.0,183.0 248.9,190.5 140.6,190.4 140.5,184.7 247.7,181.9 239.4,184.5 110.4,184.7 170.4,182.7 149.3,184.2 164.4,182.0 165.1,191.6 232.1,185.2 120.3,183.4 278.1,185.2 202.5,183.0 79.5,200.1 82.4,188.1 86.1,192.9 250.9,179.3 134.4,181.1 133.6,180.7 155.5,187.0 145.8,189.4 120.7,181.6 207.4,185.9 106.0,196.8 252.9,172.3 220.7,178.4 157.9,184.9 262.1,179.0 121.9,181.6 174.2,187.4 226.2,188.0 111.8,178.0 169.7,195.0 282.9,182.7 122.2,189.8 199.4,198.0 197.7,174.9 131.3,185.5 204.3,189.3 152.6,183.1 124.8,179.4 101.6,188.6 235.0,176.3 142.3,192.8 215.2,198.9 105.3,187.3 204.0,194.8 79.0,188.6 226.0,191.9 150.0,186.1 189.8,188.1 181.4,199.4 173.9,183.9 99.1,189.9 151.4,189.8 196.6,178.9 109.2,192.7 118.5,193.6 121.0,198.8 192.1,174.1 205.1,184.8 144.1,199.7 171.7,185.3 181.1,188.4 153.2,178.4 176.6,195.0 186.6,194.2 273.2,182.4 217.2,194.1 162.1,180.0 183.9,181.7 189.0,170.1 115.2,186.0 113.0,190.6 176.7,181.6 110.0,187.2 189.5,182.1 138.2,177.9 271.4,182.7 254.7,181.4 244.4,197.3 163.0,185.0 221.8,176.8 165.3,170.8 208.9,186.7 262.7,194.4 116.1,184.9 236.5,189.9 116.3,187.4 153.4,188.4 91.1,190.3 117.8,189.4 206.0,185.2 248.3,179.5 207.0,173.1 190.5,185.5 95.4,199.9 176.8,178.0 111.5,184.1 181.3,181.3 194.0,178.9 172.2,181.2 89.5,195.2 138.1,193.1 145.1,188.4 247.9,192.1 178.5,184.7 157.9,173.4 79.8,196.4 194.0,196.3 233.6,183.5 80.4,194.2 193.2,195.5 152.8,193.7 133.2,196.7 128.7,179.7 132.1,188.6 137.1,195.5 185.9,183.4 213.3,173.0 223.9,198.3 82.6,195.5 198.5,194.0 216.5,170.4 215.9,182.4 88.2,193.3 116.3,179.7 248.3,188.6 211.7,183.1 223.4,174.3 180.8,188.6 258.4,175.8 154.5,195.2 186.7,200.7 178.6,188.4 111.8,180.3 219.5,198.3 132.0,181.3 165.8,183.0 228.4,179.4 165.9,187.9 221.6,170.1 201.6,192.8 214.6,172.4 163.2,178.4 186.2,172.4 167.0,195.4 170.3,186.2 140.5,186.2 172.6,182.1 129.0,175.6 219.0,184.6 90.6,184.1 123.3,187.7 210.5,184.1 173.6,187.2 103.3,196.8 236.0,198.4 210.1,179.0 157.3,185.1 121.0,192.9 80.6,189.8 166.7,185.4 119.1,184.1 108.0,198.0 113.5,188.4 151.1,192.2 283.9,192.3 221.7,197.8 222.2,173.7 181.0,172.4 246.3,194.0 228.8,184.0 123.3,190.5 132.5,183.3 213.6,184.5 221.9,180.5 130.8,191.5 248.6,183.2 117.7,199.4 199.3,187.1 195.0,188.9 155.1,188.6 193.9,180.7 150.6,194.4 256.1,182.7 230.0,184.2 146.7,185.2 189.7,179.0 195.3,176.8 232.5,190.2 161.7,183.2 245.2,199.3 253.5,174.9 98.1,196.7 116.1,183.2 101.1,193.7 113.4,202.0 181.8,187.9 138.9,176.8 208.4,195.6 240.8,188.6 162.9,189.0 220.3,199.8 125.4,191.5 145.3,180.3 250.4,171.5 124.5,200.0 103.0,181.4 172.0,172.7 162.0,197.1 80.7,201.0 99.0,187.2 223.8,191.8 144.4,185.9 157.1,188.0 187.0,171.8 127.9,180.5 255.3,190.1 112.6,198.1 188.0,181.5 173.3,188.2 156.7,183.8 250.7,180.1 207.8,183.8 137.5,197.8 213.1,182.1 145.8,177.8 235.4,188.1 183.6,194.5 129.6,193.6 230.6,194.3 148.4,193.9 104.2,181.9 268.0,185.1 224.5,185.0 111.6,177.1 104.6,188.1 232.5,173.6 201.1,176.3 246.3,176.4 187.9,194.0 154.6,193.7 86.4,188.3 268.5,187.2 130.0,186.8 191.7,181.4 128.4,187.9 140.0,187.3 95.4,188.5 214.3,171.7 91.9,192.2 221.4,181.1 260.4,192.8 214.3,186.6 104.9,199.1 183.4,184.6 120.6,197.1 214.2,179.0 225.3,177.7 234.2,190.6 199.8,185.4 256.2,179.2 142.7,193.8 244.7,187.7 167.6,188.9 100.6,191.7 138.1,179.8 174.9,182.3 108.2,193.8 248.4,184.3 175.8,194.4 217.8,198.9 206.1,176.0 245.8,178.3 94.8,190.7 143.8,191.1 192.3,184.5 145.9,190.6 162.3,194.3 165.7,171.7 230.1,186.6 167.9,187.5 288.8,178.9 227.6,181.5 190.8,183.3 167.0,197.4 180.7,193.0 149.2,182.1 192.3,179.1 154.4,189.4 138.1,190.5 128.3,189.9 232.7,191.5 256.9,185.6 222.1,169.2 162.4,185.8 133.2,198.9 158.9,192.3 92.2,186.8 194.7,198.3 164.4,182.5 244.9,194.4 261.4,183.5 179.2,188.2 236.6,198.7 285.0,187.5 145.6,193.5 142.0,198.7 153.2,187.9 127.0,199.8 97.2,193.6 180.1,184.7 113.7,195.4 136.8,189.9 104.0,194.4 185.1,181.8 133.5,182.2 183.9,188.4 107.5,190.1 210.2,181.5 202.2,189.0 268.2,183.3 138.1,188.7 88.3,195.6 113.3,185.0 166.8,180.2 212.5,194.3 205.2,186.5 186.0,185.4 131.0,181.7 175.2,188.6 229.4,180.8 272.3,181.0 104.8,193.1 171.9,182.9 117.9,185.4 111.5,185.8 102.6,187.3 120.7,188.4 167.2,178.5 119.4,331.0 132.0,280.2 87.8,246.7 123.8,272.7 132.7,245.8 106.7,308.9 154.5,309.7 188.0,244.1 131.6,313.6 122.5,282.7 108.8,255.7 115.7,301.5 81.1,324.9 190.3,255.0 210.7,256.7 151.6,289.0 165.3,282.1 181.2,251.7 96.7,322.8 137.4,248.1 150.7,283.9 119.4,299.6 129.2,284.6 219.6,240.7 82.1,245.5 147.5,258.3 113.5,259.3 153.7,306.5 166.1,257.1 213.9,249.0 125.2,250.8 132.8,277.7 82.2,291.3 113.0,285.2 159.6,298.4 114.0,248.5 133.5,256.1 113.0,264.1 188.8,319.2 108.7,247.7 106.6,301.9 143.7,309.5 148.6,260.8 111.4,264.1 203.6,241.4 80.1,257.9 181.4,282.7 97.6,247.3 103.4,263.6 115.4,275.0 106.1,261.5 139.5,290.4 150.2,245.3 189.1,261.0 208.0,263.8 146.9,268.7 87.2,315.1 139.7,263.1 150.2,256.1 241.8,288.8 136.9,289.0 97.7,268.6 87.5,299.2 101.8,295.7 137.0,313.4 115.7,261.7 102.8,301.1 155.0,242.0 138.9,279.6 177.1,262.4 166.7,264.3 131.8,257.2 167.0,314.0 121.7,244.1 155.4,289.7 204.6,239.9 88.2,272.1 150.0,306.7 154.0,276.0 232.2,244.6 125.5,242.3 89.7,306.1 130.2,297.3 150.2,282.3 129.9,266.9 156.1,257.3 129.6,259.1 162.1,258.3 248.1,243.8 95.1,239.0 125.4,292.5 115.1,257.8 166.8,277.9 111.1,252.0 102.9,250.1 133.0,312.3 97.3,291.5 188.3,245.1 102.7,309.1 178.4,249.8 157.6,257.0 90.8,322.7 132.1,287.1 114.8,314.5 197.2,276.2 136.9,263.0 124.2,248.3 156.0,245.0 110.5,286.0 112.4,288.6 103.9,309.6 161.1,253.7 181.0,267.5 134.4,279.0 220.5,240.3 159.3,255.0 98.5,313.5 166.9,267.4 96.6,267.4 92.6,333.7 171.4,275.3 154.5,315.5 117.4,271.5 117.3,314.5 174.9,304.9 120.6,251.2 133.7,261.3 222.9,251.8 115.2,256.3 109.0,335.4 166.6,272.1 153.2,273.9 143.4,257.0 239.7,242.7 124.3,276.5 236.0,244.8 94.5,340.7 122.7,273.6 128.9,330.4 113.5,276.7 228.7,275.0 171.6,308.6 131.1,247.8 153.9,255.1 80.1,281.0 162.3,249.0 108.6,293.0 110.1,265.8 98.6,266.9 99.7,266.2 85.9,322.9 235.1,257.2 219.1,243.1 125.2,249.8 167.3,263.3 160.4,287.8 197.6,295.7 142.5,323.8 198.5,302.1 160.6,281.7 171.0,260.1 109.8,260.1 168.2,269.7 120.0,268.7 164.9,322.1 79.6,304.0 116.6,304.7 156.2,294.7 167.1,286.6 109.4,316.3 115.7,269.9 213.1,251.7 111.3,294.7 185.9,266.0 107.1,278.6 144.5,304.1 157.0,271.9 134.2,316.7 95.0,281.4 174.0,276.8 99.6,263.9 209.7,251.1 104.1,263.1 201.4,247.2 92.9,320.5 200.0,295.5 106.1,258.7 238.2,241.1 188.8,254.4 100.3,261.4 140.1,264.3 157.8,252.4 107.7,273.6 93.9,323.5 176.1,252.1 94.5,264.0 87.8,250.8 148.6,276.6 131.3,287.1 85.6,247.4 138.1,245.4 144.1,326.1 121.1,335.3 143.5,321.4 111.1,286.2 101.9,304.2 251.9,261.6 167.1,298.0 103.0,250.6 94.5,286.3 90.4,275.0 82.5,289.7 88.8,245.1 130.6,317.7 80.4,258.0 130.3,267.7 130.6,275.0 96.5,295.5 89.5,280.9 171.6,254.9 150.8,316.1 130.1,268.1 214.8,253.3 119.5,304.5 188.5,278.1 135.1,256.3 87.3,248.7 92.3,265.0 96.9,257.1 129.2,289.5 188.2,266.8 214.2,261.1 104.7,274.2 103.1,288.0 142.1,247.4 100.6,283.0 85.8,327.4 99.0,261.6 159.8,265.4 95.1,312.9 143.7,251.0 165.5,281.5 165.0,280.8 214.8,303.9 203.0,265.1 104.9,278.8 177.0,249.6 116.2,289.5 119.1,244.4 127.9,281.5 155.2,330.5 148.4,252.5 174.5,257.2 100.0,304.6 142.8,285.0 215.0,260.4 152.0,245.1 130.7,254.1 86.2,264.9 95.1,313.7 193.3,315.0 112.9,283.5 100.6,266.6 109.7,261.3 107.7,293.1 79.2,307.7 129.0,270.3 154.6,256.1 136.5,299.1 154.9,275.7 138.7,259.1 124.6,268.2 119.9,262.3 141.2,307.6 106.2,247.6 129.6,256.5 190.9,282.8 191.1,261.1 123.1,281.6 93.8,305.4 111.1,319.3 127.2,283.3 210.8,247.5 82.0,252.7 79.2,302.8 170.4,292.7 127.8,264.1 179.3,310.9 99.5,241.9 87.0,256.9 152.7,251.2 92.7,274.5 209.3,242.7 128.9,303.7 152.7,270.4 88.1,240.2 159.1,280.8 106.1,274.1 91.4,252.3 232.4,243.2 281.9,240.3 204.3,252.8 99.3,280.3 139.7,276.8 84.7,247.4 112.9,276.7 141.0,273.5 131.3,270.2 123.6,269.1 154.6,250.0 154.9,264.8 176.3,244.9 91.8,274.4 235.7,245.1 141.5,257.7 96.7,285.1 94.7,321.8 109.0,244.1 144.3,268.9 82.4,272.3 120.6,271.0 109.6,245.6 187.2,246.7 99.7,302.1 88.2,252.1 137.9,290.0 85.9,263.7 124.2,256.1 222.9,240.2 111.0,250.5 173.9,272.3 122.3,248.3 99.7,328.2 191.6,318.2 157.2,278.5 144.1,315.3 122.8,270.7 157.8,263.3 141.3,304.0 103.1,284.2 123.6,275.0 142.5,294.7 125.2,256.1 88.0,276.6 141.9,246.8 87.1,322.3 114.5,284.0 168.8,250.3 198.0,249.0 118.6,255.5 200.1,248.2 85.8,261.3 107.7,296.0 211.9,271.7 127.6,260.1 153.9,285.0 93.2,272.9 116.2,244.7 87.8,239.4 88.8,293.4 96.4,305.6 91.5,320.0 117.4,315.7 121.7,250.9 89.4,319.4 161.2,256.8 92.4,292.2 86.4,255.0 118.6,260.3 131.7,261.6 180.2,257.7 85.5,285.6 99.8,305.3 146.0,272.7 135.5,242.6 118.3,330.5 179.7,269.8 115.0,242.6 177.9,280.8 87.4,285.2 198.5,265.5 94.9,278.7 240.2,239.0 122.2,253.7 111.1,257.1 87.3,267.5 107.5,292.3 90.2,305.7 85.2,243.5 112.1,284.9 201.6,244.5 117.2,256.9 100.0,335.7 114.3,332.0 173.9,273.1 81.1,282.1 82.8,288.0 164.1,244.3 185.1,254.8 101.7,274.0 153.1,251.9 212.9,253.1 147.2,256.1 137.2,251.1 145.2,303.0 201.6,283.0 89.0,286.1 116.0,286.6 136.7,295.5 100.2,245.6 125.4,257.3 253.6,238.2 194.3,297.0 112.0,247.2 168.4,263.9 105.9,311.5 174.3,255.5 99.7,249.0 108.3,251.9 169.2,264.1 122.9,298.4 103.4,341.4 93.5,271.4 176.2,256.2 82.0,287.2 158.9,288.1 179.1,257.2 113.6,294.3 121.3,261.1 122.9,317.1 136.0,284.5 118.8,274.5 157.0,259.0 100.6,251.3 106.5,263.2 114.8,308.3 121.1,254.2 81.7,260.9 161.9,248.5 154.2,305.5 105.7,302.2 128.0,285.0 106.4,255.1 166.1,253.5 203.6,258.1 99.0,253.3 166.8,246.4 88.4,318.9 121.3,295.2 91.2,287.7 91.5,292.7 85.6,255.2 195.5,248.0 120.8,266.0 139.8,268.9 122.6,254.0 82.2,282.1 86.9,337.6 196.6,265.6 154.1,253.6 157.3,279.1 93.7,277.6 151.6,264.9 99.9,243.5 174.9,305.3 101.9,248.3 169.8,248.0 119.0,271.7 100.4,311.4 192.2,257.0 193.3,293.2 152.3,293.3 85.7,286.9 211.5,248.8 92.2,237.1 97.5,255.2 204.2,277.4 124.2,292.0 156.3,256.4 114.8,248.9 112.8,295.1 198.8,261.4 111.4,268.5 92.3,340.0 124.2,255.7 152.4,258.8 112.1,274.1 80.5,274.1 115.6,286.3 200.6,256.4 251.5,240.1 145.3,250.8 83.2,267.3 104.5,250.2 141.9,263.9 198.2,241.4 85.0,295.0 122.4,256.9 114.9,324.0 119.3,302.6 90.5,331.1 164.1,324.0 122.9,261.7 98.6,283.2 138.1,309.6 278.5,238.5 160.8,308.6 112.8,273.1 110.0,251.8 90.3,277.4 152.4,278.1 156.2,291.1 90.0,320.0 117.8,254.3 100.7,291.5 142.1,291.0 137.3,246.9 111.2,327.4 156.9,280.6 153.6,272.9 123.2,250.4 136.8,294.5 88.8,255.1 147.8,261.8 117.3,260.7 145.9,241.7 218.5,260.5 179.8,283.6 88.8,285.4 234.5,268.1 113.2,263.5 177.8,263.2 163.5,292.9 211.3,254.9 106.2,307.0 139.2,297.7 228.9,240.2 109.6,251.9 259.2,248.3 202.2,285.4 135.8,261.7 210.2,291.4 91.7,276.1 170.6,252.6 118.7,328.6 80.0,243.8 188.7,265.9 129.4,302.3 109.9,243.0 163.7,253.7 161.8,258.1 128.3,247.3 130.8,255.7 222.1,249.8 104.6,271.4 104.9,294.1 100.0,303.8 131.6,266.6 92.2,281.1 83.1,268.1 106.0,275.2 84.6,263.6 175.4,279.0 200.2,269.7 101.7,271.3 105.9,270.4 185.5,280.6 154.4,307.7 216.0,251.1 203.1,302.5 161.2,270.6 110.2,243.1 98.3,286.2 213.9,269.1 117.9,286.4 141.6,247.7 132.9,283.9 109.0,266.5 84.9,293.2 146.8,299.8 102.6,269.8 123.7,279.0 187.6,249.2 240.8,244.1 143.2,257.6 82.6,274.3 149.5,266.6 153.5,265.1 174.6,252.9 107.8,266.2 212.2,255.6 120.1,299.6 83.4,263.0 117.9,250.0 82.0,258.3 133.6,330.0 224.1,262.1 127.1,241.1 106.5,254.9 152.1,304.8 194.3,266.7 199.7,274.7 88.1,253.7 193.8,279.1 125.8,271.2 140.1,290.1 164.0,308.7 150.8,275.6 85.0,289.6 79.1,312.5 113.2,253.9 256.3,239.7 209.7,267.0 111.7,273.1 83.8,313.6 88.2,258.1 103.3,258.2 115.5,316.3 133.5,246.5 137.9,301.7 86.7,256.4 134.0,248.9 92.3,244.4 143.7,261.3 170.9,259.6 196.8,310.3 112.0,256.5 93.6,250.2 193.2,240.0 133.8,294.5 131.5,267.4 163.4,268.0 95.3,315.0 188.6,251.4 110.7,254.7 83.0,239.2 162.8,267.5 131.8,256.2 136.8,310.8 92.9,263.4 101.7,261.4 153.9,263.8 153.8,299.9 137.1,245.1 116.8,282.0 86.1,288.8 199.7,281.0 205.3,252.1 208.6,266.7 156.3,285.2 128.1,264.6 126.9,327.2 136.8,248.3 86.0,274.0 110.7,275.7 81.4,279.2 138.8,252.3 114.8,272.8 170.8,262.7 139.1,253.0 125.5,314.8 226.6,241.4 103.6,286.9 209.8,253.6 176.7,255.4 147.8,280.3 112.9,266.1 113.3,239.1 126.9,279.9 84.3,288.5 79.7,265.9 141.0,262.6 101.7,343.6 186.8,253.5 193.1,291.1 97.8,324.8 227.7,239.4 146.9,248.0 261.6,256.2 94.2,297.7 90.6,266.4 85.8,240.6 79.4,260.9 174.7,282.6 146.5,304.0 116.6,250.2 130.8,295.1 104.3,290.9 161.4,255.0 126.1,241.3 98.8,284.6 97.3,250.4 186.8,258.6 90.6,292.7 122.4,293.4 121.4,249.4 176.9,257.4 173.5,247.2 87.4,316.3 126.6,270.9 216.5,269.4 164.3,249.9 85.1,278.9 163.1,321.0 101.2,296.6 101.9,280.0 99.8,258.4 142.8,281.9 98.6,307.2 194.7,280.6 191.7,250.3 163.9,250.3 89.0,283.1 176.8,258.4 160.8,251.9 118.7,273.3 189.3,255.3 133.7,302.9 120.6,256.4 163.6,277.7 149.4,321.8 114.0,243.0 129.3,248.6 113.3,258.6 80.1,250.8 149.9,261.2 104.0,271.0 162.2,251.9 79.0,276.1 171.1,255.7 84.1,278.2 155.5,254.3 100.6,301.8 101.2,286.8 136.4,296.6 93.1,278.6 95.5,300.5 111.2,266.5 98.2,264.7 134.7,280.1 84.5,306.4 94.4,320.8 152.0,263.8 235.3,285.7 128.7,294.0 130.8,289.6 83.1,334.3 206.2,255.1 127.0,248.6 138.4,276.9 242.8,256.9 103.5,254.5 178.5,259.5 133.8,267.8 123.4,264.6 108.5,272.2 88.8,260.6 170.5,265.0 90.0,254.9 143.5,248.8 112.6,328.3 105.6,322.1 94.2,254.9 164.2,251.8 195.1,251.3 120.1,277.1 101.8,272.6 186.2,314.3 207.4,270.7 127.9,277.4 88.4,267.0 117.1,247.7 111.6,251.2 156.2,287.3 89.6,340.7 114.0,280.5 116.3,324.3 143.1,251.6 99.3,279.7 135.9,257.7 93.9,309.6 124.5,282.5 118.3,239.4 123.3,241.8 161.8,246.8 269.0,244.5 137.8,263.7 84.3,264.5 93.3,258.9 92.5,327.1 195.8,242.9 92.5,289.1 183.7,315.4 118.0,278.0 101.3,300.9 123.6,313.6 106.7,252.8 94.3,268.5 97.4,302.1 97.2,279.4 87.3,308.4 91.7,282.6 127.1,289.9 182.9,249.3 177.6,270.8 172.0,282.3 204.5,247.6 100.7,306.6 178.1,255.7 93.0,335.4 90.0,318.0 139.9,257.8 137.4,260.0 132.4,244.7 111.2,239.6 89.1,297.4 115.2,265.9 250.4,249.6 192.6,243.1 84.0,293.9 129.9,293.9 106.7,320.1 156.6,282.9 121.1,254.0 140.9,326.9 193.1,254.5 103.5,251.3 254.7,238.3 91.1,272.9 183.8,263.2 99.6,250.8 163.7,245.2 168.4,278.7 134.3,267.1 92.8,301.8 133.6,242.1 177.5,264.1 144.7,267.8 130.3,282.0 210.9,267.9 166.5,247.5 91.2,256.4 155.4,302.2 144.4,330.0 153.9,249.3 103.6,278.2 95.1,277.0 273.9,246.6 164.0,252.3 86.9,309.9 137.2,240.3 89.0,266.6 145.2,266.4 216.2,265.8 187.4,261.2 223.6,251.7 184.0,292.5 119.6,268.5 186.5,240.8 151.2,247.7 104.4,285.9 89.9,246.5 86.4,254.1 153.1,300.7 252.9,249.7 82.7,270.9 106.1,288.0 133.7,283.4 152.0,275.8 209.2,243.2 110.6,274.6 173.8,254.5 80.8,242.7 115.7,274.1 198.0,257.3 92.6,278.2 227.8,238.4 199.1,259.1 173.4,285.1 95.5,269.4 155.7,265.7 99.3,256.7 139.9,265.2 89.8,247.5 189.3,248.4 93.6,320.0 114.8,259.3 233.7,249.9 134.2,336.0 188.1,268.5 181.7,266.9 101.2,290.0 140.3,250.1 105.4,238.6 139.2,254.0 126.9,284.6 109.5,289.5 147.8,282.0 191.8,248.0 110.5,322.3 154.7,298.5 98.4,301.8 179.3,266.7 102.6,290.7 112.8,313.2 94.4,291.2 114.5,313.1 146.4,317.2 89.7,312.3 127.0,290.7 100.2,280.1 129.0,260.1 84.5,287.8 150.4,266.7 123.8,258.2 182.4,256.2 156.2,279.5 109.0,285.8 90.0,256.5 109.9,247.2 160.4,252.4 89.8,251.0 104.6,279.9 165.5,257.6 126.3,262.8 129.2,312.3 109.3,278.0 194.9,260.3 119.8,257.6 127.7,280.2 90.8,242.5 89.9,295.1 124.3,266.3 82.0,248.5 99.2,325.6 96.4,286.5 81.1,292.0 125.0,265.3 90.7,287.6 138.7,249.3 113.4,287.1 92.4,286.3 100.5,243.6 170.8,295.9 191.5,269.5 252.6,265.5 120.7,240.6 85.0,239.2 119.2,264.2 122.2,260.6 175.0,250.5 101.8,275.0 160.6,275.8 122.0,271.4 120.4,295.3 107.6,276.3 84.5,304.9 110.0,288.6 122.8,246.5 81.5,259.8 133.7,304.2 130.4,331.5 118.0,299.7 94.6,246.6 159.7,303.5 174.1,273.3 175.4,250.6 149.8,297.6 115.5,290.0 172.1,287.7 135.8,295.0 113.3,308.5 102.2,299.0 93.8,268.2 80.9,271.2 79.1,283.1 79.9,308.5 139.8,284.8 130.3,300.0 156.0,291.3 237.2,244.8 130.2,280.3 150.1,312.4 287.0,238.1 127.7,287.5 102.5,304.8 190.5,258.7 82.7,244.0 110.3,302.6 130.1,243.4 109.7,292.2 210.4,255.1 150.4,253.6 151.9,296.8 137.4,305.5 124.2,269.2 143.4,301.0 116.0,266.7 116.9,296.9 204.9,299.9 132.7,303.0 243.7,251.6 123.1,293.6 142.1,288.8 122.9,262.9 89.2,332.5 173.4,261.9 124.9,259.3 80.4,245.6 81.1,249.9 176.6,260.0 136.6,266.5 108.6,305.4 219.4,247.2 137.2,258.0 121.5,268.1 102.7,260.3 129.1,269.8 238.2,252.4 123.5,321.6 110.4,298.4 81.5,325.7 99.4,276.0 79.5,279.0 213.5,252.7 199.7,248.7 105.9,246.4 148.0,326.4 153.7,340.8 241.1,279.9 86.4,265.3 132.4,254.7 82.8,290.7 131.3,295.5 80.2,311.8 183.9,260.4 146.0,268.6 193.1,258.7 201.5,269.0 93.2,300.3 91.6,288.7 119.3,243.0 196.8,258.2 140.1,263.4 192.6,286.6 170.3,253.1 80.3,263.3 117.8,258.9 161.2,302.0 235.0,249.9 151.0,270.9 93.4,260.9 87.1,268.3 91.1,290.6 110.3,284.2 154.7,285.1 111.3,254.1 155.9,311.8 139.2,254.6 148.6,262.9 117.3,285.8 122.5,302.5 217.6,262.5 140.1,296.1 256.3,236.8 118.9,255.0 177.1,278.8 94.4,267.3 158.7,256.7 102.9,316.7 115.6,281.9 161.8,249.7 97.0,311.7 110.7,250.2 254.2,248.9 107.7,330.7 215.8,245.2 105.9,251.3 98.1,260.4 132.3,293.8 223.2,247.5 186.8,277.2 85.9,323.2 175.3,251.6 106.8,259.2 90.1,281.0 128.9,261.1 130.8,276.4 214.5,246.6 175.6,281.6 117.9,241.1 140.1,246.5 133.6,251.6 211.9,261.7 190.5,296.3 116.5,328.4 123.6,300.6 128.9,252.9 95.0,266.8 79.7,251.9 140.7,257.8 104.5,281.0 81.3,283.5 118.6,253.2 102.2,243.0 151.0,321.1 100.9,290.8 164.4,272.8 136.4,303.2 136.2,290.7 98.7,327.9 147.8,259.9 82.8,330.9 181.7,274.3 144.9,244.5 89.8,271.3 199.4,278.8 121.7,263.4 90.4,315.4 164.3,278.7 168.7,294.3 94.3,250.9 98.9,241.4 133.9,260.3 124.5,339.7 184.8,300.7 149.2,265.5 156.1,255.3 94.1,283.8 208.2,244.8 90.7,244.6 257.3,247.3 177.0,246.8 199.8,255.8 90.6,258.5 123.0,273.1 161.7,282.7 105.9,280.2 147.0,266.3 163.8,302.6 174.1,314.1 111.5,309.0 151.1,253.1 80.3,251.9 113.5,270.7 137.4,265.6 107.6,242.6 96.2,287.7 193.6,266.7 95.2,273.5 159.7,271.7 89.6,272.1 95.9,301.1 87.6,293.9 130.7,287.3 118.8,316.7 157.3,282.8 186.0,260.5 201.0,274.1 230.3,269.7 114.0,298.3 173.4,324.7 165.7,285.0 246.8,244.7 112.6,279.4 96.6,269.2 116.8,277.6 229.5,245.9 146.7,270.3 102.5,308.6 139.4,256.5 204.7,267.5 205.9,294.4 196.3,245.6 93.1,280.4 244.6,290.2 116.5,294.5 116.6,252.2 87.4,331.3 140.1,300.6 84.4,271.3 213.8,281.1 118.6,251.5 159.0,275.3 126.1,247.7 89.8,245.0 127.9,257.4 89.4,325.5 103.5,295.4 127.1,299.2 86.7,244.7 89.7,292.5 168.8,298.4 133.2,312.6 122.2,295.8 103.0,304.0 210.6,266.4 110.7,308.3 131.7,255.7 143.3,325.9 131.5,259.4 118.3,293.8 158.1,252.1 87.2,304.9 135.2,243.5 251.5,281.0 259.6,239.0 80.7,324.8 159.8,275.5 170.3,281.2 100.4,274.1 216.0,255.4 129.0,296.0 135.9,245.5 159.3,268.5 94.7,309.8 125.9,259.6 91.2,266.9 105.3,249.2 118.2,268.0 121.3,275.3 95.4,287.6 108.5,290.1 197.5,266.8 201.4,252.4 90.6,280.0 118.1,256.1 201.2,243.7 125.9,272.1 207.2,259.7 173.4,275.0 166.2,254.3 128.3,302.5 90.0,246.0 218.8,257.0 128.4,283.3 134.0,281.2 244.5,247.4 79.4,300.8 149.1,257.0 199.2,253.6 137.5,317.4 130.7,247.4 161.6,267.0 126.7,309.6 113.2,290.1 120.3,322.4 176.2,260.4 176.2,252.0 157.5,250.3 93.7,299.1 91.2,256.0 187.2,253.9 128.2,248.1 167.2,267.1 103.6,247.4 115.1,337.1 162.9,323.3 181.8,272.5 140.8,256.8 124.8,280.6 187.5,244.3 105.4,278.8 111.7,313.8 175.8,280.9 110.3,270.4 128.1,289.5 127.0,309.7 109.4,274.2 109.6,254.0 281.7,244.5 127.2,266.9 125.6,294.0 107.8,262.8 167.1,261.7 194.4,302.8 81.6,261.3 86.0,290.0 93.2,276.3 102.8,297.1 80.3,253.9 116.5,317.8 216.0,240.6 130.3,251.9 148.5,266.8 196.1,302.5 119.2,305.6 126.6,281.1 220.3,303.8 94.5,271.5 106.9,291.8 91.5,261.6 82.3,254.4 109.3,241.3 157.5,269.6 79.9,275.9 84.3,297.5 81.2,286.1 115.6,241.2 97.3,273.7 81.3,281.7 218.9,245.2 228.3,244.3 148.9,258.5 152.5,253.3 227.8,244.3 193.5,269.3 125.7,278.6 217.3,259.9 119.9,316.9 190.3,271.9 130.8,252.2 86.9,285.4 205.9,247.4 107.8,249.0 100.5,277.6 164.6,267.3 86.5,299.0 147.2,253.3 202.5,260.6 120.7,262.1 186.5,251.8 171.8,256.1 170.8,303.7 104.3,275.5 145.1,292.5 92.9,266.1 98.5,277.0 99.7,259.1 122.1,296.2 206.0,260.5 83.7,260.1 122.7,255.3 117.7,332.4 148.6,257.0 91.2,296.6 144.1,328.9 121.4,271.8 120.6,278.4 106.9,313.7 175.1,259.4 82.1,256.1 213.2,274.4 127.4,291.1 104.6,246.2 143.9,253.9 120.9,243.7 147.0,279.8 80.9,272.1 128.1,287.8 121.8,260.1 166.8,248.4 158.9,259.2 171.0,262.8 155.4,256.3 117.7,246.4 229.8,248.9 81.6,267.3 116.4,321.1 151.6,297.4 84.4,280.3 176.2,286.5 187.5,250.1 165.9,303.3 145.0,264.4 128.4,300.3 193.0,298.3 181.6,286.6 130.8,248.3 198.2,320.8 255.5,249.0 220.5,247.0 93.1,302.1 104.7,287.9 112.1,298.3 174.6,249.7 91.4,271.5 148.9,287.5 89.5,315.5 123.7,317.1 100.6,297.2 124.4,300.7 161.7,333.2 102.8,280.4 94.1,249.6 140.2,248.1 124.1,278.3 156.7,310.2 201.5,296.4 93.5,245.4 134.2,291.3 126.0,286.1 111.4,288.6 159.0,299.0 87.0,248.2 82.9,271.4 112.9,307.1 171.1,252.0 163.2,249.1 185.1,314.2 152.9,246.7 151.0,268.1 160.5,254.0 170.7,242.0 182.2,250.9 228.2,249.3 88.1,281.4 145.7,248.9 105.6,265.3 103.6,296.6 114.3,279.5 97.4,341.2 222.8,283.3 89.5,270.9 98.6,251.9 122.0,270.0 233.9,246.1 97.7,285.2 139.3,266.4 94.4,247.8 162.3,252.4 109.8,248.4 104.7,293.7 178.1,315.3 165.8,267.4 199.4,271.3 170.9,245.7 128.1,305.7 161.9,271.5 149.9,271.7 134.1,258.3 101.6,244.0 189.6,268.8 167.1,252.4 189.4,300.5 224.9,263.5 111.9,267.6 132.2,284.1 187.9,244.0 79.7,311.7 137.7,252.7 134.8,275.2 165.6,254.1 97.5,252.8 90.1,241.2 107.7,243.7 92.3,276.3 242.7,243.6 164.1,264.7 92.2,247.4 108.0,244.6 153.6,242.9 142.1,286.5 86.6,252.9 163.5,334.4 100.7,237.9 152.2,281.8 124.6,289.5 135.2,253.5 214.0,299.9 192.3,290.4 115.7,283.6 84.2,270.0 108.8,310.8 117.3,330.0 199.5,322.9 139.7,250.3 105.8,312.9 216.0,243.2 140.5,261.5 129.4,243.1 210.3,258.5 259.8,261.8 108.0,304.2 109.1,269.8 125.8,290.7 169.6,287.1 222.8,269.6 155.9,271.5 90.3,289.6 200.7,276.8 193.9,242.2 84.1,323.2 106.5,319.0 185.2,283.6 118.5,302.5 131.5,254.3 149.0,280.4 145.4,262.9 183.5,262.4 114.8,250.4 82.7,295.9 135.0,250.5 256.0,245.9 122.4,278.5 92.7,252.2 105.3,303.9 110.8,266.6 86.8,292.5 220.9,261.7 83.7,276.4 197.3,292.6 128.5,272.9 163.4,253.0 231.1,245.1 160.1,317.2 81.9,298.1 184.9,245.5 123.8,247.8 133.6,257.3 99.2,261.9 167.7,265.9 107.9,250.7 170.7,298.7 146.8,292.1 99.4,281.2 141.2,302.3 85.0,283.0 94.4,277.7 123.1,289.2 144.2,252.1 121.3,297.7 141.6,321.1 151.6,311.9 83.3,283.0 202.0,250.7 150.5,271.7 131.6,283.7 162.7,245.0 136.3,278.0 108.1,268.4 162.9,320.2 126.3,244.1 127.8,307.7 141.7,251.6 199.1,258.9 225.9,241.3 203.3,240.3 135.2,295.7 172.7,264.3 82.9,246.6 132.2,338.6 101.5,278.5 231.5,277.8 165.0,248.9 194.2,277.4 98.8,272.2 108.8,282.1 100.8,295.6 87.6,288.8 183.6,250.8 126.7,315.3 119.5,257.0 162.4,273.0 83.6,295.8 150.6,270.3 152.7,295.6 98.9,294.5 96.2,249.1 161.6,260.9 133.7,288.3 95.6,250.6 131.9,251.0 141.7,276.5 81.2,256.0 214.2,243.8 109.7,312.4 154.5,273.2 126.1,256.2 180.3,272.0 160.8,307.1 188.1,262.1 148.4,272.7 117.3,253.8 170.5,313.6 132.0,261.7 144.8,298.0 101.4,308.4 115.7,271.8 128.6,262.3 93.4,288.8 117.7,281.6 166.4,261.4 129.3,280.9 231.5,249.1 149.1,307.0 117.5,300.1 236.9,246.0 144.8,286.4 111.3,276.8 119.3,272.0 88.7,319.4 186.7,292.7 124.6,314.4 159.1,266.5 142.9,291.6 110.7,241.2 153.2,307.9 190.8,249.5 147.0,272.4 124.2,303.2 159.6,313.8 267.9,245.1 97.9,277.0 145.2,257.3 119.1,266.0 111.6,245.3 90.1,306.5 236.1,257.4 188.9,264.0 100.0,316.6 123.3,307.5 192.7,305.6 140.4,306.7 141.4,320.2 82.0,316.3 129.4,251.5 135.4,273.3 96.3,291.5 87.2,252.8 139.5,271.1 162.7,330.4 98.3,255.1 119.3,265.8 110.9,288.1 178.7,272.7 127.6,268.4 212.9,265.5 166.4,299.7 95.6,314.7 112.3,242.7 109.6,342.7 115.4,294.2 131.3,326.5 188.5,276.3 104.7,245.4 79.9,270.4 177.6,281.1 147.0,307.1 83.4,274.6 97.3,270.7 107.5,267.8 131.0,279.4 111.7,311.7 104.7,286.5 83.8,250.7 87.4,279.4 97.1,272.4 80.8,317.1 163.2,263.1 139.5,282.2 83.5,323.8 91.8,254.7 175.4,269.2 162.5,249.0 168.9,281.9 199.2,241.0 118.5,259.2 221.3,254.8 120.6,323.5 140.3,278.0 133.8,289.6 147.2,270.1 94.2,258.7 160.6,289.4 106.7,344.7 184.7,244.4 164.6,256.1 86.5,290.4 86.6,239.4 98.9,303.7 142.9,292.4 126.3,271.6 134.4,260.7 132.2,305.2 154.8,255.9 83.0,292.4 97.0,271.9 152.7,269.8 90.8,267.8 166.3,262.8 128.3,258.6 145.8,291.9 148.2,304.3 146.4,280.5 167.0,269.2 116.0,299.2 121.2,303.9 140.7,267.6 142.1,284.6 126.5,310.0 164.4,296.9 190.0,264.3 224.2,285.0 211.4,252.2 187.0,324.7 83.2,253.4 99.1,298.6 125.2,240.0 99.3,290.4 133.3,297.1 124.8,244.4 112.5,249.5 159.4,250.0 99.0,260.0 134.8,287.3 133.3,259.0 150.7,249.2 152.3,305.7 80.6,301.9 136.2,251.2 126.2,273.7 134.7,285.4 97.9,282.6 141.9,291.1 151.8,276.5 79.0,292.5 212.6,246.9 168.0,256.3 117.6,303.4 105.7,283.0 141.3,267.1 101.0,309.0 145.0,293.1 80.0,302.2 219.6,254.6 202.6,256.8 84.1,272.0 80.1,288.0 180.2,252.8 134.1,311.4 150.9,277.5 168.8,306.6 200.5,249.4 125.4,282.2 147.7,262.2 97.5,301.7 116.0,246.9 119.5,293.8 93.6,255.3 153.6,286.6 121.0,302.1 160.2,271.2 91.7,252.0 222.5,237.8 89.6,318.2 147.9,306.3 92.3,294.2 136.2,281.7 163.0,289.9 158.8,306.9 110.1,253.9 116.0,302.1 158.6,269.8 173.4,253.2 204.0,246.2 138.9,274.2 95.6,275.7 113.9,318.3 154.0,272.8 103.8,306.9 87.8,255.0 140.6,298.7 150.9,281.6 110.3,262.4 81.7,247.7 130.8,264.8 167.6,318.2 201.1,245.5 116.5,247.1 104.7,248.0 128.6,256.3 106.1,237.8 99.8,262.8 206.3,275.9 83.1,288.7 160.1,323.3 140.0,307.4 230.7,243.3 143.0,286.9 135.1,309.7 93.5,241.1 97.5,254.2 144.2,266.5 139.1,262.0 117.9,276.5 160.6,255.4 148.2,261.1 103.3,257.6 143.9,273.3 124.0,324.6 97.6,330.9 122.7,322.8 145.7,276.9 135.8,244.7 94.1,328.7 184.6,264.8 108.4,245.2 113.5,262.7 162.2,253.5 174.9,259.4 149.5,281.0 161.6,250.1 156.3,266.1 191.8,249.3 87.1,254.7 105.6,301.7 199.3,287.9 145.7,298.9 116.9,263.0 124.4,271.5 221.3,267.8 135.2,287.1 253.5,261.2 153.2,246.0 97.0,274.6 106.5,273.9 89.0,295.0 101.6,267.6 131.0,246.6 110.3,242.8 81.8,284.2 147.9,246.3 168.2,249.4 116.6,285.1 89.8,273.2 153.0,262.8 152.2,264.0 189.4,247.3 117.5,309.1 172.5,258.5 93.1,249.7 92.0,255.1 127.2,282.5 245.3,252.4 127.6,293.2 235.9,280.0 116.9,261.5 160.1,278.7 113.2,246.2 138.8,269.6 86.6,286.5 93.5,297.3 212.2,251.5 267.1,239.2 170.7,244.6 126.0,286.7 209.0,270.8 99.8,294.6 193.1,275.4 90.9,249.8 82.5,306.5 159.6,260.9 160.7,315.7 107.6,251.7 84.5,281.2 100.8,286.7 196.2,247.4 120.2,261.8 135.2,250.7 205.3,255.5 114.2,266.3 109.4,300.0 89.4,245.2 171.7,271.1 154.1,297.4 113.1,277.8 118.4,267.7 130.9,245.9 175.1,261.1 173.1,301.8 154.3,292.7 148.8,263.7 86.1,282.6 123.6,286.0 88.7,256.1 192.9,269.8 216.7,271.2 168.8,264.5 121.8,264.8 122.7,251.1 133.2,249.3 94.8,292.9 103.1,242.3 139.8,302.7 199.5,264.5 140.7,330.1 83.6,310.7 172.4,247.9 108.6,253.9 183.7,313.8 83.4,280.1 200.8,270.3 277.3,243.1 251.5,247.8 79.8,282.5 82.3,247.8 123.9,240.6 197.0,309.0 106.9,264.5 151.8,301.4 168.6,259.5 175.6,244.3 79.5,293.4 87.5,257.5 112.0,332.7 261.9,243.5 83.3,248.1 178.8,257.9 93.0,256.8 136.0,276.0 94.5,305.6 203.9,251.4 226.3,244.5 143.9,298.1 175.7,248.7 96.7,261.4 102.7,264.4 115.0,261.6 197.7,255.1 169.7,316.3 155.3,282.0 109.4,246.8 183.9,251.1 80.4,260.8 85.8,251.8 115.0,288.2 114.8,303.0 167.2,245.4 95.0,240.1 122.0,281.0 81.0,278.5 246.4,256.7 95.4,307.4 107.1,268.4 119.0,292.8 200.5,244.3 184.3,252.8 96.2,334.4 114.5,285.2 138.5,296.6 89.3,330.2 99.3,288.7 129.2,262.8 129.2,249.2 128.3,246.7 157.1,302.6 132.0,240.4 89.8,274.8 83.9,262.5 91.8,270.0 152.6,267.1 94.2,299.6 109.9,267.6 96.0,244.7 144.7,246.8 180.8,272.7 110.6,278.8 145.0,250.9 106.5,296.3 122.8,297.8 181.3,253.3 123.4,260.6 103.7,277.0 172.9,261.0 202.4,239.3 99.9,308.8 145.3,266.0 119.3,267.1 155.7,257.3 104.1,247.4 86.6,272.5 202.7,267.9 119.6,282.1 145.0,276.2 117.7,326.3 149.8,262.6 144.4,309.6 121.8,273.1 111.9,317.9 133.7,296.4 125.5,276.7 184.8,283.8 116.5,273.4 102.1,263.8 166.4,316.5 189.5,306.1 105.6,267.9 178.9,256.2 137.5,270.2 216.3,248.9 126.4,263.9 101.8,276.3 157.2,286.4 133.7,277.2 151.0,272.0 88.3,268.3 149.7,249.5 206.3,248.2 130.1,275.1 93.3,282.4 133.1,241.6 141.8,318.8 88.6,323.0 91.3,278.4 121.9,266.2 96.4,329.0 84.4,305.2 116.9,248.1 86.8,306.0 181.9,255.7 148.3,311.6 122.1,287.2 164.3,287.7 139.0,277.7 249.5,241.5 175.7,282.0 123.2,290.5 79.2,254.7 136.4,254.9 91.9,244.1 82.6,251.6 134.7,255.1 81.4,335.3 163.7,315.8 127.0,297.6 122.1,245.6 112.8,254.7 80.1,329.3 140.0,296.4 97.0,311.9 147.6,255.9 174.7,251.9 234.7,249.0 101.9,277.5 147.1,331.6 152.4,241.6 98.7,309.8 118.2,250.2 138.3,294.1 88.6,280.4 193.3,264.1 87.1,287.9 120.1,273.1 219.1,249.0 211.4,247.7 84.8,277.0 112.0,271.8 159.2,262.7 111.3,290.0 99.1,253.0 110.2,339.8 117.8,251.9 108.4,265.3 138.4,261.8 101.2,293.6 136.2,250.7 95.1,261.2 125.4,248.7 207.2,249.7 112.2,281.2 114.5,257.1 144.6,280.3 121.2,329.7 83.8,321.0 137.2,262.2 128.8,286.4 186.8,244.7 100.1,271.3 112.2,251.6 84.0,243.2 84.5,298.5 118.7,285.1 153.9,295.3 95.3,276.0 154.9,252.7 133.2,247.1 230.8,263.7 91.8,279.8 190.2,261.8 156.4,320.2 254.7,278.4 86.9,296.8 89.6,243.1 208.1,258.4 195.5,249.2 107.5,241.7 167.5,274.5 272.1,234.6 110.5,290.8 120.6,285.6 81.9,290.0 115.7,282.4 137.7,250.7 106.6,331.9 94.9,248.2 253.0,247.5 87.3,265.1 206.9,241.7 217.9,248.0 132.8,318.6 108.6,279.6 176.5,277.8 246.3,269.7 107.5,294.9 108.3,299.3 110.7,312.3 84.4,275.0 112.4,262.0 159.6,244.5 136.3,283.5 126.9,319.7 220.2,252.4 113.6,300.3 163.5,264.2 129.1,261.3 176.5,280.5 99.6,330.5 226.7,266.6 84.1,258.1 152.6,272.5 123.7,298.3 111.4,314.6 126.7,313.6 158.0,280.6 149.0,265.6 184.8,255.2 161.6,284.0 102.3,295.7 121.5,314.4 122.6,274.9 126.2,277.5 177.1,248.0 169.5,250.7 96.2,279.1 107.8,341.8 225.5,265.0 216.0,263.3 112.6,261.0 142.4,259.4 83.7,317.4 125.8,251.2 83.9,245.6 109.9,297.2 79.5,263.8 88.6,251.5 218.2,239.2 162.5,259.1 185.2,253.1 209.7,270.5 191.3,263.1 105.4,286.1 262.0,249.4 142.8,299.6 97.6,336.3 164.9,262.6 128.4,304.4 113.6,292.8 118.9,306.2 152.4,273.8 102.4,268.3 89.2,303.7 181.3,297.5 220.3,248.5 81.1,275.3 108.8,320.9 133.2,290.8 79.3,258.7 180.5,251.1 133.7,268.5 202.4,248.9 83.9,276.0 96.7,304.8 159.2,286.6 97.4,262.1 162.7,298.6 107.9,263.6 202.9,245.8 105.6,250.9 112.4,277.4 170.9,258.7 177.9,251.4 153.8,290.8 120.7,255.1 86.1,321.3 94.2,256.1 91.9,317.9 114.0,269.7 176.6,273.4 81.9,307.2 81.6,339.3 124.3,246.1 114.2,251.4 122.6,252.9 123.1,266.0 117.0,290.1 104.1,252.0 115.5,277.4 88.8,296.0 86.1,287.7 217.9,286.1 87.5,327.6 147.1,268.3 171.4,250.5 156.7,265.6 131.8,293.9 131.0,277.5 109.4,331.2 135.6,266.4 118.2,284.2 135.0,295.0 176.9,264.8 123.1,323.6 86.5,243.9 115.6,249.2 123.2,251.5 102.3,292.0 241.0,243.1 88.2,249.4 248.4,280.4 163.8,325.3 199.3,257.4 231.5,244.7 106.3,283.1 118.7,292.9 200.8,265.8 95.0,266.6 116.3,320.6 126.9,284.0 117.3,297.4 122.0,310.1 99.0,320.2 99.8,289.6 84.8,261.4 153.7,261.6 135.3,263.6 124.4,253.9 104.4,238.5 172.7,246.7 180.1,298.1 137.2,267.4 121.2,276.3 187.5,288.2 185.3,263.1 117.7,268.6 144.2,255.1 89.3,255.4 141.6,338.9 92.7,287.2 115.7,300.6 157.9,317.9 126.1,316.6 162.8,274.8 115.2,272.5 137.8,273.4 94.3,270.9 99.4,284.8 95.1,252.8 121.2,294.0 250.8,243.5 196.0,289.5 193.3,249.2 130.3,271.6 90.4,295.0 153.2,257.3 95.8,294.2 94.0,242.0 140.1,242.4 128.8,291.6 156.0,263.4 121.8,251.8 97.7,260.0 84.6,284.6 159.6,256.8 120.5,317.3 95.5,279.6 141.8,258.4 109.0,327.4 98.0,264.8 132.6,273.6 168.2,271.0 108.5,335.8 144.3,295.9 110.1,263.4 83.3,291.5 79.5,243.6 172.4,262.9 135.9,247.5 146.7,284.7 116.6,293.8 84.4,307.7 230.0,246.6 95.9,280.5 124.3,275.6 114.7,256.0 138.7,297.8 186.9,278.5 81.7,311.3 168.1,247.9 192.9,259.5 89.2,333.1 166.5,260.1 95.9,246.3 170.2,285.9 107.2,265.0 107.7,272.8 163.5,317.5 191.5,260.6 135.9,283.3 245.2,250.9 92.8,254.5 160.3,314.2 195.2,258.2 131.6,322.1 179.4,274.8 240.1,252.5 146.6,274.3 104.5,302.1 94.8,279.4 150.9,260.6 212.0,255.5 144.8,251.9 144.6,308.8 102.5,300.4 122.8,244.3 172.2,267.0 220.2,241.5 119.4,274.2 227.2,245.2 126.5,275.2 197.0,250.5 124.4,264.9 127.6,305.6 125.9,288.4 117.2,242.5 100.0,298.5 171.5,259.0 119.1,287.7 137.1,255.9 141.7,281.9 108.1,273.7 138.1,280.6 111.8,296.9 147.2,260.3 98.8,296.1 198.7,280.9 123.8,286.8 106.0,274.7 105.6,299.9 129.6,281.2 116.6,308.7 129.6,298.5 159.7,245.6 125.4,284.5 167.9,253.4 151.7,287.4 131.6,285.0 155.3,282.9 122.7,266.5 113.9,264.1 208.9,243.6 176.2,283.5 126.2,305.1 236.9,255.5 93.2,243.1 107.0,284.3 163.5,296.3 104.6,333.7 86.9,281.9 210.9,245.5 138.5,303.1 87.3,269.4 214.9,249.4 84.6,279.9 218.2,299.2 109.7,252.6 163.9,246.8 104.0,280.3 86.9,267.3 101.9,287.1 102.1,288.6 223.9,263.1 107.8,304.0 213.4,243.6 100.4,242.1 170.0,301.1 131.9,320.8 86.1,250.4 87.7,290.3 86.3,279.6 129.9,265.4 108.3,287.4 92.8,245.7 105.9,277.6 169.5,311.8 137.1,284.3 109.8,239.6 108.4,254.3 223.7,265.2 142.4,287.7 125.9,295.2 90.8,256.9 130.9,341.2 170.6,263.3 117.2,295.1 161.9,292.8 168.1,286.0 169.7,265.3 191.4,252.7 96.8,244.8 155.8,272.9 158.1,261.0 83.2,294.8 95.7,282.2 93.5,315.8 98.1,328.2 118.6,296.3 149.7,246.7 111.4,282.5 97.1,316.9 95.7,304.6 81.7,257.3 100.2,248.6 92.5,293.7 121.9,281.1 175.7,263.2 134.7,269.8 92.6,270.8 140.0,284.2 114.4,330.2 82.8,252.9 175.6,242.7 151.8,262.5 97.2,281.4 155.7,264.1 176.0,251.0 101.9,256.8 182.2,264.1 121.3,283.9 126.6,292.9 147.0,259.6 178.9,250.6 172.7,267.8 98.2,339.3 111.8,318.4 196.5,254.7 187.6,252.8 106.6,305.5 215.4,246.1 92.3,261.1 90.1,294.6 91.4,316.3 158.8,305.8 122.0,262.9 148.4,292.2 144.8,333.6 104.2,268.2 112.3,294.8 115.1,278.5 112.1,278.1 114.1,265.1 79.6,246.0 80.6,289.8 113.1,257.5 217.5,246.0 97.1,287.8 148.1,303.2 137.4,283.1 109.0,279.9 148.5,339.2 174.2,309.8 123.6,277.4 159.3,279.1 155.1,258.9 102.0,262.4 163.3,247.6 166.5,266.2 180.4,247.5 145.7,340.0 114.8,254.9 130.3,278.6 118.1,247.0 84.8,269.0 199.9,254.2 85.9,282.5 227.8,263.9 81.3,250.4 94.6,296.5 152.2,250.1 89.0,282.2 137.4,307.2 159.7,284.4 112.1,250.6 214.2,239.3 177.9,253.6 145.9,289.9 93.6,263.8 137.6,249.6 95.7,262.5 83.4,297.8 134.1,256.7 108.7,302.9 87.2,253.5 99.8,238.8 116.1,268.7 223.4,245.2 165.1,246.4 126.6,285.6 109.3,253.6 103.8,274.5 93.1,267.6 143.8,327.9 148.1,251.0 107.2,285.9 131.3,248.5 184.5,285.5 84.3,255.8 141.2,244.1 101.7,279.1 148.9,244.6 139.8,260.9 79.6,317.3 223.1,249.1 149.2,273.8 112.8,257.3 117.1,311.5 188.6,250.9 209.7,255.2 190.5,251.2 107.6,299.6 117.3,274.1 140.5,265.9 98.8,275.0 85.3,287.6 98.0,266.3 99.9,274.7 98.6,290.4 106.9,302.3 81.6,253.6 152.8,248.8 130.8,262.5 161.4,287.0 143.2,277.7 118.6,280.2 111.6,247.8 171.0,247.6 173.6,266.4 106.6,260.7 115.5,246.1 171.4,244.3 88.5,237.6 148.2,268.6 136.6,286.0 90.1,270.1 594.3,239.4 630.3,245.8 539.2,203.6 611.1,213.2 630.0,220.5 552.7,211.5 517.5,211.6 629.7,226.6 629.7,210.9 597.0,196.0 611.9,212.2 632.4,201.1 618.7,201.0 577.4,211.8 589.5,213.8 561.5,213.2 620.6,205.7 633.4,205.6 534.4,203.5 566.0,207.4 602.7,196.1 608.0,214.5 516.9,200.8 629.5,216.4 586.1,219.8 504.8,211.7 639.7,223.4 618.5,232.6 639.9,220.2 630.4,208.5 591.6,229.8 633.2,208.9 614.9,210.8 594.8,204.6 580.0,220.4 640.5,226.6 589.5,200.5 620.5,220.4 604.8,224.3 544.5,215.6 611.5,203.2 638.3,209.3 613.9,194.5 630.8,236.6 628.0,210.9 598.0,199.9 635.8,195.1 629.2,197.5 538.0,202.2 563.9,218.5 610.6,246.3 631.3,218.0 621.3,231.0 632.0,219.7 618.1,197.5 596.1,210.2 584.5,234.1 600.7,230.2 636.0,210.9 622.6,233.2 638.6,204.8 592.6,199.1 635.8,221.5 615.5,210.7 575.4,219.8 587.9,196.0 625.7,198.3 628.6,201.8 637.2,200.5 615.4,193.6 591.1,216.6 623.6,223.0 594.4,203.5 626.7,228.0 612.5,204.8 554.5,203.5 596.1,235.3 629.7,227.5 634.8,201.7 574.0,209.4 604.8,197.0 625.2,204.4 595.6,228.8 590.9,210.6 634.0,222.6 619.4,220.8 578.2,210.0 621.9,236.8 629.5,214.3 609.5,203.1 609.5,211.6 638.6,231.6 597.6,209.8 586.3,233.8 606.1,244.7 563.8,209.8 613.5,216.1 604.4,225.4 629.6,195.9 609.0,236.0 556.0,200.7 540.1,207.5 639.0,214.1 567.3,202.0 583.9,225.6 636.1,206.9 635.2,199.3 615.2,194.4 606.3,228.7 616.7,240.7 571.5,203.2 601.5,212.1 585.9,212.5 587.1,231.1 637.2,241.6 630.8,194.7 628.9,239.4 592.5,225.9 588.7,224.4 608.4,232.5 578.2,199.6 605.7,230.4 609.4,204.2 630.1,230.1 616.3,245.1 556.2,211.6 545.1,207.5 624.9,232.6 640.7,239.7 634.0,206.9 628.1,213.6 582.4,214.8 600.2,216.7 594.2,208.6 619.1,197.7 623.5,209.8 590.2,229.9 573.7,205.9 606.1,203.9 632.3,205.3 551.4,205.0 625.9,203.2 633.0,227.2 618.6,212.7 607.6,232.0 598.0,214.2 594.7,233.4 565.3,219.7 621.0,230.8 631.8,229.7 593.8,217.3 573.6,206.8 589.9,199.1 601.3,221.3 563.3,215.1 571.5,210.9 563.6,206.0 622.0,197.9 636.3,200.2 595.9,202.8 625.7,196.5 638.8,229.6 586.8,239.0 578.9,204.7 630.0,224.9 566.4,203.1 572.2,206.6 607.2,245.8 606.9,215.6 587.3,199.1 630.6,212.6 611.8,216.4 639.0,214.0 618.2,212.0 597.4,240.7 609.6,234.1 619.0,236.1 613.4,232.9 630.0,210.1 631.5,210.3 617.3,195.6 545.0,207.3 553.0,210.6 598.7,219.1 624.6,195.5 600.0,203.8 623.1,241.1 580.3,222.8 640.1,243.2 612.4,225.9 580.1,202.4 575.2,203.8 598.4,224.8 639.1,225.6 574.3,205.3 622.1,195.2 632.7,236.6 586.5,221.5 597.2,194.1 612.7,238.7 616.2,195.3 639.0,238.5 623.8,220.9 562.8,200.1 612.0,232.1 531.7,199.8 590.9,201.0 619.9,235.3 585.2,228.7 583.8,236.4 598.7,234.9 582.1,210.1 620.5,209.6 599.5,234.6 572.0,198.5 630.5,196.3 593.4,223.4 612.4,243.0 611.9,201.7 632.4,209.8 639.5,201.4 591.1,209.3 637.1,199.3 622.9,223.2 589.4,201.3 602.4,199.0 625.1,236.9 625.9,235.4 628.5,203.8 592.7,222.5 583.1,205.6 590.0,219.5 582.8,197.8 517.4,205.3 569.4,214.1 575.9,200.4 559.9,198.1 535.3,201.6 618.2,235.2 607.8,196.6 632.6,208.9 616.6,204.6 611.1,225.5 638.4,233.8 632.3,197.5 616.1,218.4 602.6,198.2 612.4,222.6 618.0,199.1 597.8,222.9 588.0,212.5 618.5,221.6 584.9,204.8 620.5,212.4 637.6,231.1 592.1,205.2 629.8,221.1 587.5,227.6 623.0,244.5 624.7,200.8 619.0,215.7 625.7,211.7 636.3,230.8 519.5,205.2 620.8,208.8 632.1,244.1 614.0,225.8 608.2,212.9 583.9,200.1 597.7,200.2 613.8,224.3 609.6,229.1 613.1,201.4 584.1,196.5 599.4,207.8 602.8,202.1 584.8,205.3 584.6,227.2 616.4,215.5 638.1,221.1 591.2,225.5 580.4,209.4 583.6,201.5 611.8,219.5 579.5,229.9 621.3,219.5 535.0,214.9 621.5,203.5 630.5,205.1 554.8,199.6 630.5,243.0 575.4,201.7 622.3,213.8 635.4,213.4 592.0,207.3 601.3,204.7 607.9,236.6 588.1,243.6 581.3,217.3 621.3,226.2 618.8,205.5 556.0,217.3 597.8,215.3 640.8,196.1 606.5,216.4 606.6,218.7 586.6,199.6 560.9,199.7 623.8,228.7 541.0,212.4 639.1,200.3 593.3,231.3 586.1,204.3 619.0,195.1 630.7,195.6 639.2,212.8 636.1,217.7 624.0,222.2 611.7,215.1 605.8,210.4 598.0,203.5 625.4,231.2 610.0,219.2 500.5,210.1 549.6,200.4 595.4,216.3 559.2,200.8 603.3,201.8 535.5,199.4 609.4,206.6 637.9,207.4 624.1,197.9 588.7,238.4 600.8,236.3 604.7,222.4 579.1,200.5 591.5,210.5 619.0,241.0 625.8,230.7 617.3,192.1 597.0,208.4 542.8,215.1 580.5,203.1 640.0,216.4 574.3,202.8 619.6,217.1 619.7,244.3 624.5,233.8 590.1,220.9 530.1,203.1 639.5,196.9 584.2,221.0 551.5,199.2 606.6,207.3 581.1,208.3 602.8,239.6 589.6,226.2 553.3,217.7 574.3,203.1 544.4,203.2 604.7,204.0 635.3,228.4 603.5,227.8 625.3,206.5 632.5,214.1 621.6,215.8 587.3,228.4 597.1,207.4 602.4,197.1 603.5,203.0 595.2,226.7 579.6,228.9 536.1,208.8 629.0,206.5 618.9,239.1 635.7,222.5 553.8,204.5 622.0,195.8 630.7,240.3 596.1,224.0 543.5,203.1 619.6,208.5 610.6,247.5 589.5,212.7 558.4,204.2 601.5,199.9 603.4,213.7 578.4,212.5 553.6,206.6 638.0,216.0 612.1,201.9 623.5,233.2 616.1,212.3 618.0,204.2 570.1,207.3 629.5,228.4 605.3,201.8 633.8,245.4 556.4,207.0 566.7,214.4 625.0,220.0 534.1,204.3 582.9,200.4 638.2,238.5 587.0,219.9 565.3,208.3 632.0,234.0 559.6,218.8 580.9,200.2 619.4,230.8 595.6,210.1 602.9,206.4 632.8,213.8 558.1,203.2 620.5,219.2 578.9,220.2 531.8,211.0 605.1,223.6 597.7,223.7 595.1,227.9 574.4,198.8 608.7,217.9 549.3,206.0 535.0,201.8 575.4,213.2 619.6,226.1 603.1,197.8 605.8,195.4 524.1,201.1 602.0,220.4 599.7,223.1 622.0,199.4 590.6,223.4 623.1,206.9 618.9,194.9 600.5,210.5 589.1,211.9 610.9,230.9 600.3,211.9 573.3,210.2 612.0,196.4 622.4,229.8 541.6,206.3 634.1,216.6 589.9,197.2 590.4,202.8 572.8,203.2 566.0,201.7 621.2,230.1 625.0,226.2 627.0,233.5 594.0,221.3 548.2,213.6 595.2,238.5 639.7,243.9 611.5,197.7 634.5,205.9 611.5,234.5 596.0,228.6 632.1,218.9 629.0,193.1 602.9,228.7 585.8,233.0 638.1,213.2 612.8,245.1 595.6,229.5 623.9,217.5 525.3,208.8 598.9,205.7 615.9,235.1 609.4,198.6 604.3,219.8 638.4,222.5 541.8,211.2 530.6,208.9 622.4,224.7 575.7,207.0 636.6,207.0 620.4,229.6 637.1,197.4 611.6,229.3 597.2,220.7 624.3,243.0 613.5,214.8 521.4,210.0 528.0,200.9 600.2,209.7 554.1,212.7 597.3,210.9 634.2,226.8 604.4,232.3 599.8,220.8 525.5,209.7 577.9,204.0 529.9,203.4 635.4,210.1 621.4,232.8 615.0,223.9 501.5,206.7 602.8,195.5 594.7,225.6 623.7,221.5 566.9,218.1 590.5,241.1 635.5,217.0 590.6,221.9 568.4,208.4 622.6,201.1 607.5,204.5 550.8,202.0 550.7,213.2 617.4,212.6 601.4,242.2 591.4,240.3 628.5,220.6 637.7,220.0 640.2,236.6 581.2,233.0 614.0,195.3 595.2,215.4 573.7,212.0 600.9,234.6 610.6,222.8 587.5,206.3 640.8,200.0 617.1,238.5 542.5,216.4 632.3,223.0 599.4,201.4 585.8,198.8 587.7,197.4 549.4,213.8 639.4,203.7 602.7,224.1 626.7,197.7 619.3,227.6 625.9,224.3 639.4,214.8 605.5,235.5 580.2,207.3 605.0,202.8 586.0,202.0 563.8,203.3 594.8,217.1 622.0,211.5 581.4,215.5 628.8,224.3 637.6,206.8 602.0,227.3 611.1,218.6 607.6,222.1 532.1,202.6 624.3,237.5 539.0,202.2 616.7,239.7 601.7,220.9 603.9,221.4 583.8,194.6 514.1,203.1 609.8,244.4 626.5,201.1 569.0,212.6 629.0,248.9 588.5,219.1 618.0,201.7 557.4,212.2 611.1,204.8 548.3,216.3 625.0,214.6 591.2,207.7 587.1,229.5 580.8,224.6 634.3,214.4 560.4,200.3 636.5,208.1 624.3,227.3 584.7,206.6 621.7,218.3 634.0,236.9 612.4,229.6 629.4,217.1 634.7,199.5 612.6,223.2 631.1,220.3 626.6,221.9 557.5,208.4 600.0,204.3 536.1,206.1 607.5,226.4 552.1,200.8 633.9,208.0 638.6,202.8 551.3,197.7 637.2,217.4 614.4,207.6 616.7,237.8 632.8,203.5 626.3,199.6 603.4,220.1 534.7,212.2 616.6,233.1 634.7,242.7 579.1,217.4 626.9,219.9 529.6,213.6 607.4,207.5 640.3,241.3 577.9,219.4 638.1,230.4 569.1,203.3 619.5,211.4 592.6,239.6 591.7,239.5 588.2,199.5 582.5,209.8 615.5,203.3 609.8,240.0 557.6,207.6 592.1,197.3 625.2,221.7 622.1,238.7 633.3,240.5 621.0,227.1 595.0,224.6 619.0,238.1 564.6,218.6 552.4,215.1 602.5,221.1 590.6,231.6 603.8,234.1 526.4,203.5 605.1,203.6 588.5,235.5 610.9,225.5 545.5,205.8 545.8,204.9 637.6,222.3 585.6,213.4 558.0,213.4 544.8,207.0 600.2,208.1 583.5,224.7 570.7,199.5 616.9,201.6 585.6,202.8 575.9,206.0 624.9,224.9 637.4,228.6 626.7,235.9 619.6,209.7 602.4,230.6 600.9,229.2 554.1,216.8 619.6,198.4 584.2,219.1 607.5,225.7 601.4,216.8 616.5,210.9 542.0,204.4 636.7,139.4 636.7,132.2 634.5,142.6 640.2,137.9 637.3,130.1 638.4,144.2 628.1,146.0 640.3,144.0" fill="none" stroke="none" marker-start="url(#mg)" marker-mid="url(#mg)" marker-end="url(#mg)"/>
<polygon points="79.5,190.0 92.0,190.0 106.0,190.5 132.0,193.5 170.0,195.5 200.0,194.5 239.0,190.5 274.0,186.5 315.0,181.5 335.0,177.5 361.0,174.5 400.0,170.5 430.0,167.5 450.0,165.5 500.0,162.5 550.0,160.5 600.0,158.5 620.0,157.5 640.5,156.5 640.5,203.5 620.0,200.5 600.0,202.5 550.0,207.5 500.0,210.5 450.0,213.5 430.0,215.5 400.0,218.5 361.0,224.5 335.0,228.5 315.0,229.5 274.0,230.5 239.0,233.5 200.0,236.5 170.0,242.5 132.0,243.5 106.0,242.5 92.0,241.5 79.5,240.5" fill="#9c9cff"/>
<polyline points="354.3,175.9 636.5,153.1 423.5,159.4 523.1,182.2 521.3,174.2 385.0,173.7 246.2,196.4 360.6,178.0 90.6,237.9 632.5,238.3 188.4,255.8 474.1,168.2 572.7,228.0 108.1,224.4 530.7,164.1 639.5,157.4 605.7,171.9 272.3,180.3 138.0,248.1 465.2,183.7 102.7,321.0 148.4,259.1 586.2,226.7 378.6,181.3 515.8,158.6 114.1,318.4 503.4,163.1 444.5,164.1 335.7,171.1 135.7,265.6 104.9,168.2 434.9,217.8 145.6,225.8 556.2,221.1 217.5,239.5 373.8,168.2 558.9,154.5 530.9,226.6 508.8,146.3 295.0,221.9 556.9,169.8 507.8,220.4 625.1,271.1 82.4,228.9 602.0,255.0 595.4,160.4 383.5,173.9 573.3,181.9 98.1,340.4 419.9,170.1 207.8,217.4 391.9,174.0 361.6,179.7 454.2,182.2 533.2,171.6 373.1,180.4 444.6,218.0 99.4,283.5 600.5,191.9 415.5,173.3 402.3,169.8 364.9,179.0 515.0,189.5 608.4,243.5 204.3,201.3 542.4,158.1 635.0,219.0 296.1,195.9 585.1,156.7 384.5,189.1 80.1,304.3 158.6,280.6 524.5,171.0 637.0,263.4 574.1,177.6 97.8,245.3 637.8,262.3 623.1,150.2 411.7,164.4 619.8,246.7 508.2,233.4 398.7,155.7 198.5,258.6 464.7,168.1 267.7,177.8 580.0,162.5 423.0,226.4 617.6,157.4 151.4,281.3 525.0,219.2 351.2,168.0 576.1,169.1 461.0,170.6 80.7,246.8 127.7,219.8 631.4,241.7 181.5,220.9 479.4,154.7 595.7,232.7 105.8,267.1 542.8,169.3 587.9,225.5 184.3,206.8 554.2,146.1 619.5,270.7 243.6,209.5 339.7,182.9 176.2,273.6 398.0,176.7 631.0,174.3 480.0,150.8" fill="none" stroke="none" marker-start="url(#mr)" marker-mid="url(#mr)" marker-end="url(#mr)"/>
<polyline points="245.0,214.3 156.9,185.4 217.0,180.8 141.1,283.2 256.9,234.7 143.0,255.1 133.9,278.8 90.5,319.8 288.4,183.1 83.1,289.6 142.5,177.7 202.0,265.6 98.6,279.7 109.4,293.5 108.0,283.2 199.7,178.4 103.1,275.4 82.9,318.4 89.0,278.4 138.1,197.5 85.3,292.0 109.1,318.7 191.9,183.9 198.4,304.1 225.7,238.6 107.3,275.3 237.5,177.1 111.6,200.6 147.2,185.2 234.2,187.7 110.9,323.4 99.9,331.3 87.4,181.3 114.1,304.9 116.1,189.6 160.2,180.3 628.4,219.5 133.1,189.8 172.5,225.2 622.2,210.4 207.3,195.5 207.1,188.0 639.6,137.7 210.7,260.4 142.0,257.5 612.9,211.0 242.3,220.7 193.7,176.7 108.0,179.2 82.8,314.3 129.3,268.9 368.5,184.6 204.6,182.2 209.3,181.2 88.8,316.5 115.4,177.0 126.2,294.9 159.8,196.1 587.9,213.6 601.5,203.9 480.3,177.3 128.2,200.2 567.4,182.1 189.4,183.4 615.3,218.8 281.6,186.2 106.1,253.7 93.0,282.6 584.0,196.8 603.7,224.8 227.1,189.6 115.0,303.8 212.7,245.8 92.5,204.5 623.3,195.6 621.0,228.8 626.5,196.1 125.9,254.5 120.0,176.5 183.0,206.4 172.6,190.5 138.3,227.7 99.2,293.8 180.8,259.3 262.7,219.6 151.5,193.7 186.9,249.8 127.0,296.1 182.0,169.5 547.9,208.9 597.4,203.8 204.9,195.5 178.5,191.0 108.4,189.9 226.1,192.0 206.3,215.8 147.8,278.2 129.6,258.7 306.2,208.0" fill="none" stroke="none" marker-start="url(#mg)" marker-mid="url(#mg)" marker-end="url(#mg)"/>
<polyline points="601.4,157.8 469.9,163.1 245.1,189.8 468.6,164.9 396.2,155.2 348.1,175.2 446.1,213.5 342.1,176.8 143.2,246.5 143.2,247.4 260.9,240.9 561.1,158.7 140.3,246.3 314.3,237.6 124.3,189.5 390.5,219.5 428.4,156.4 455.7,165.0 479.7,216.9 204.8,237.1 467.2,161.8 351.6,176.8 87.6,242.2 463.9,165.1 90.8,245.6 480.2,159.4 157.2,248.3 569.1,150.0 446.8,157.7 332.2,176.6 459.9,159.1 639.5,149.2 438.5,218.5 531.2,158.5 530.4,157.5 351.6,231.5 245.5,235.0 314.6,232.7 466.6,156.0 413.1,219.0 489.0,210.7 613.9,202.1 595.9,156.2 527.8,212.6 221.5,187.0 430.1,222.4 399.3,170.7 571.2,155.2 416.9,167.4 285.9,231.2 621.7,156.3 252.7,189.4 205.8,245.7 404.8,169.3 423.1,165.2 573.4,152.2 300.6,239.5 501.5,163.4 410.4,227.2 579.6,154.5 387.5,222.1 545.1,153.7 250.3,240.7 620.5,150.8 603.4,156.0 292.3,236.9 589.5,155.6 382.8,167.8 129.7,244.3 601.0,157.5 433.1,214.9 409.5,232.3 219.6,243.6 171.2,194.5 145.8,193.3 326.0,174.7 593.2,158.7 423.1,228.6 346.6,175.2 467.2,214.5 587.3,157.8 430.6,163.6 190.8,244.3 376.4,222.9 408.0,159.3 544.4,161.0 418.6,168.2 374.4,223.5 345.0,232.4 557.6,208.2 572.5,207.9 417.1,216.8 224.0,233.9 157.2,190.6 112.3,189.3 309.3,173.8 226.9,234.0 410.1,224.5 450.3,156.1 545.3,212.2 257.3,230.8 509.1,159.6 397.9,228.0 355.2,229.6 567.5,206.5 357.6,229.8 381.8,234.7 367.6,167.2 278.3,242.9 441.9,221.9 308.1,176.6 179.7,248.2 388.2,221.4 599.6,153.7 245.9,243.5 315.0,236.8 81.6,189.7 468.2,155.0 518.2,159.6 239.8,235.6 215.8,236.3 163.9,191.6 530.0,152.7 437.8,153.6 237.0,246.1 485.2,213.8 324.2,248.4 219.6,235.5 319.9,237.9 497.0,157.0 640.9,216.3 149.8,192.4 123.9,246.4 462.2,163.3 345.8,230.4 385.0,222.1 330.8,226.2 294.6,235.9 319.0,179.5 268.9,183.0 365.4,237.8 268.0,243.4 152.9,246.7 303.9,245.2 454.3,161.3 217.8,189.7 232.4,188.5 454.0,167.9 362.0,238.9 260.2,187.5 110.8,244.5 246.5,237.6 598.6,205.4 394.9,162.8 406.1,226.4 282.2,178.2 277.8,232.0 162.9,246.5 438.9,220.0 342.8,225.4 404.3,223.1 476.6,213.8 459.6,162.3 338.5,175.0 371.1,229.9 336.3,229.1 536.3,155.9 433.3,218.9 485.2,214.3 488.6,159.0 295.8,181.7 400.4,224.2 167.8,244.6 441.3,166.8 246.9,246.4 564.1,208.9 225.0,244.3 393.9,221.5 468.0,211.0 403.8,218.4 222.1,189.9 255.4,182.6 373.7,227.8 552.1,158.6 104.9,241.2 450.0,164.3 430.9,216.7 409.4,219.2 264.1,235.5 411.9,232.4 217.5,191.7 97.7,191.2 452.1,215.3 370.1,170.9 546.8,153.4 215.3,193.1 227.6,246.7 125.5,244.7 206.9,240.1 425.0,224.0 405.1,164.4 603.0,206.3 221.8,191.7 517.4,154.8 314.4,234.3 175.9,197.6 512.9,160.4 343.0,171.0 347.6,175.9 194.8,246.9 449.1,165.4 292.1,177.7 571.6,204.4 322.7,233.1 519.7,157.4 302.9,174.9 481.2,215.8 412.1,164.8 112.6,245.8 623.7,204.5 153.3,194.5 419.9,166.0 137.4,247.0 250.6,241.3 221.3,246.5 207.0,245.8 101.5,244.6 134.1,190.1 300.5,176.2 316.2,229.2 585.0,204.3 368.0,171.9 228.1,240.6 265.1,234.4 119.6,190.0 499.5,212.1 310.0,183.4 567.4,205.2 283.8,250.9 321.9,176.3 403.6,161.3 410.9,225.4 321.0,231.1 620.9,153.4 416.0,221.6 210.1,236.7 371.5,224.4 250.3,244.2 441.8,215.5 345.0,169.2 320.2,179.7 226.0,190.4 280.8,235.2 214.5,241.1 543.2,151.2 237.3,187.2 89.1,183.8 360.1,236.4 594.4,151.2 427.4,215.1 382.8,168.7 355.6,176.7 375.9,227.8" fill="none" stroke="none" marker-start="url(#mb)" marker-mid="url(#mb)" marker-end="url(#mb)"/>
<polyline points="589.8,252.1 360.4,180.8 116.4,270.3 587.3,249.9 630.7,155.9 626.6,254.6 250.1,185.1 409.5,170.5 603.2,235.0 149.7,255.6 364.6,177.8 92.7,298.7 462.7,183.9 510.4,223.8 360.0,202.5 542.9,233.0 176.6,203.3 581.5,161.2 344.5,174.4 554.7,235.8 590.4,249.9 465.1,160.3 183.8,229.1 387.6,177.0 144.3,248.7 578.9,261.4 615.1,288.3 506.3,186.0 524.4,218.9 137.2,272.0 567.4,212.6 640.9,274.5 327.9,174.1 615.2,163.4 517.5,160.4 398.7,171.3 532.1,171.5 589.8,224.6 408.0,156.8 521.8,228.9 379.0,168.9 549.8,243.9 377.0,175.4 465.9,232.8 569.6,179.4 342.7,205.2 394.2,155.1 615.9,161.2 547.7,156.5 456.4,223.8 214.1,223.6 592.7,158.3 520.9,188.4 290.3,178.0 500.8,233.7 518.0,173.4 575.2,235.8 268.2,229.3 610.1,265.8 629.5,240.2 542.7,151.4 595.1,173.5 399.0,172.9 511.9,177.2 159.2,256.0 271.8,183.6 609.6,222.4 612.7,151.7 633.0,259.3 201.8,201.0 512.9,238.3 634.9,244.0 397.2,160.9 570.2,164.1 437.0,192.3 528.2,191.1 448.4,176.6 544.2,215.7 383.9,166.1 625.2,264.5 601.8,227.0 629.3,160.1 575.3,179.6 551.5,225.8 586.2,251.7 82.0,287.4 497.4,151.5 230.1,196.7 451.7,159.6 569.9,233.3 540.6,221.2" fill="none" stroke="none" marker-start="url(#mr)" marker-mid="url(#mr)" marker-end="url(#mr)"/>
<polyline points="233.8,256.9 211.6,179.3 107.7,189.7 194.5,184.6 203.2,191.5 250.0,186.6 133.0,195.9 554.6,173.3 612.0,217.3 199.0,186.6 459.0,205.0 140.9,270.8 130.0,196.9 169.0,187.3 141.7,265.6 190.1,188.0 227.1,200.3 139.7,304.4 581.6,214.7 166.7,209.3 85.5,244.6 609.7,217.7 252.7,216.9 598.8,206.1 178.5,182.1 99.9,257.5 94.5,245.2 636.3,227.9 84.3,188.3 608.7,202.3 579.3,210.2 110.1,184.0 129.3,195.9 158.1,193.7 105.7,194.8 205.4,174.6 92.3,197.6 170.0,251.3 288.3,186.9 112.4,265.6 211.9,214.5 576.1,221.2 623.2,203.1 252.9,173.4 123.3,185.2 84.7,250.2 114.9,197.0 212.6,181.4 134.9,334.3 166.1,190.1 150.4,273.9 88.9,284.2 611.4,243.4 230.9,195.5 139.1,301.1 212.1,191.2 580.9,205.8 125.6,199.1 570.0,190.9 219.3,180.4 109.5,197.9 610.2,226.6 119.1,185.8 122.1,214.9 224.8,291.8 567.3,201.4 275.0,182.6 80.1,188.4 200.8,229.6 602.4,213.7 145.0,271.6 201.0,191.0 227.7,224.4 490.6,185.1 96.8,181.7 100.3,246.4 128.5,268.0 80.6,197.3 240.7,246.5 233.1,186.4 152.3,189.5 128.2,186.1 163.4,269.9 260.5,205.0 174.6,189.4 151.4,281.9 113.7,186.8 193.7,251.6 578.4,206.5 113.3,273.5 146.5,249.1 275.8,189.2 591.4,236.9 126.7,225.4 556.2,191.2 132.9,275.6 124.7,190.5 211.1,280.8 100.2,179.1 82.1,218.1 133.8,265.4 630.3,206.5 163.5,281.0 131.2,297.4 466.9,182.4 629.0,205.2" fill="none" stroke="none" marker-start="url(#mg)" marker-mid="url(#mg)" marker-end="url(#mg)"/>
<polyline points="336.2,230.7 450.7,157.9 636.9,153.3 102.9,187.5 439.2,220.9 172.3,195.7 126.4,192.7 627.9,202.1 411.2,163.8 402.2,224.3 156.6,243.0 380.4,165.6 122.1,191.6 474.1,162.1 136.3,246.2 278.5,246.7 217.6,186.1 282.6,240.5 525.1,212.2 233.0,189.9 392.3,166.0 270.5,233.4 217.9,194.8 135.3,243.3 480.7,211.7 415.6,218.8 235.2,248.0 416.9,164.4 202.2,236.7 353.8,173.1 205.2,236.9 199.8,190.3 518.6,209.3 300.2,235.8 457.9,155.6 411.7,166.3 368.1,173.5 268.5,248.6 373.9,172.8 271.9,237.4 480.0,157.5 506.0,212.8 553.2,207.0 326.0,228.4 439.3,215.4 349.1,232.4 620.9,157.7 430.2,166.4 397.2,221.4 112.4,248.3 464.1,162.0 286.6,243.9 421.0,166.4 83.8,178.8 202.3,240.0 425.4,164.5 233.4,243.6 328.3,244.6 269.5,185.3 320.2,239.5 274.2,188.8 222.7,192.3 258.3,234.7 600.1,156.1 102.2,190.8 90.6,247.2 326.0,180.7 476.2,158.9 574.5,157.6 530.3,208.1 265.7,183.2 262.0,232.8 638.3,209.7 353.4,237.1 531.0,159.8 435.5,158.4 494.4,160.1 551.1,154.7 287.3,245.7 289.7,235.1 453.7,157.5 574.2,153.5 456.4,215.9 207.5,239.1 114.6,249.3 564.8,157.8 351.8,172.9 208.4,237.2 166.6,195.3 138.3,244.4 504.0,153.7 386.5,173.0 538.0,156.1 604.5,156.7 221.3,235.5 281.6,186.5 620.9,155.9 441.3,162.9 492.0,212.7 305.7,238.8 529.0,160.9 81.3,188.7 537.8,160.1 224.2,190.7 217.3,236.5 371.0,228.1 397.9,222.5 155.0,192.6 242.5,187.1 634.0,202.4 84.1,242.7 383.5,222.2 306.4,237.0 282.6,185.0 613.4,152.7 266.4,231.2 215.7,240.0 223.2,188.7 116.7,243.9 370.4,171.6 517.3,215.0 471.1,217.0 396.4,226.6 500.2,159.8 274.8,239.4 244.2,186.7 438.6,163.7 579.3,206.9 491.4,163.0 587.7,206.2 199.4,191.4 404.6,224.6 313.9,241.7 228.3,245.5 434.6,221.0 217.5,237.3 236.4,238.4 323.0,174.5 214.5,237.0 410.8,220.2 199.4,193.0 629.2,208.9 500.8,154.0 604.2,152.9 348.5,171.6 281.2,183.1 190.5,238.7 318.1,239.0 398.9,160.9 486.3,215.6 198.2,242.5 362.9,175.7 505.2,210.8 452.7,164.0 345.2,229.2 345.7,174.0 533.9,206.8 401.5,222.8 474.4,161.5 282.8,231.5 382.0,223.2 203.2,193.0 239.6,238.2 511.6,213.1 530.8,160.0 593.8,204.2 338.8,230.7 560.6,160.1 293.5,182.0 451.3,216.5 282.5,234.6 287.2,238.5 522.3,153.2 230.5,250.4 328.3,176.3 601.9,152.7 187.9,247.3 382.6,171.5 423.5,227.1 205.9,192.6 291.8,178.3 624.8,201.9 549.9,162.0 241.0,238.3 256.4,187.8 179.6,240.5 120.8,245.0 118.4,243.0 277.1,230.0 258.2,186.1 208.1,245.3 218.6,239.0 580.4,205.6 608.3,158.0 248.3,237.9 370.8,227.1 477.4,163.9 286.7,237.8 327.4,244.1 144.5,246.1 458.2,215.5 529.2,208.6 262.7,239.1 536.9,159.6 593.0,154.1 376.1,236.5 158.0,193.1 534.7,157.4 480.7,213.4 413.6,166.7 155.9,194.2 398.0,162.6 197.7,237.9 351.8,228.7 580.2,157.6 283.4,235.7 404.3,167.5 593.2,207.3 152.5,192.1 181.3,246.2 381.8,167.4 472.5,214.1 387.3,229.7 232.0,234.3 278.8,241.7 225.4,186.5 534.0,158.2 205.2,235.5 344.1,239.7 280.8,231.7 305.3,239.4 135.3,190.9 394.1,165.6 446.5,218.3 288.2,238.4 379.5,222.1 432.3,165.3 411.4,218.0 354.6,225.2 369.3,223.5 467.5,165.6 256.9,233.7 331.9,244.7 331.9,174.0 419.0,165.3 331.5,235.7 318.6,231.8 405.7,168.2 100.8,246.2 138.9,191.3 440.8,217.0 288.4,241.1 128.2,189.6 473.0,216.1 612.1,157.2 472.9,152.7 266.5,244.3 409.6,216.2 610.2,149.9 176.1,242.7 380.4,223.3 126.1,247.5 396.7,169.2 471.9,162.8 277.5,183.8 179.0,249.4 361.2,173.2 262.0,182.1 82.1,239.1 485.7,160.4 274.6,185.5 309.9,176.8 213.3,240.8 225.8,237.4 637.6,153.1 546.8,208.2" fill="none" stroke="none" marker-start="url(#mb)" marker-mid="url(#mb)" marker-end="url(#mb)"/>
<polyline points="508.7,188.8 594.4,149.4 308.1,198.8 437.1,168.2 431.9,219.6 559.8,235.5 486.5,168.3 91.7,233.8 287.0,189.2 608.9,157.3 352.4,191.0 342.9,181.1 96.9,294.9 457.8,174.8 620.2,233.5 606.6,277.1 364.1,176.9 423.5,175.7 473.9,164.1 520.9,153.9 390.6,167.6 591.9,221.9 502.2,182.0 126.7,244.4 521.2,200.4 638.9,266.6 525.8,186.5 619.0,145.7 223.0,223.5 544.6,221.3 609.8,293.4 522.3,166.2 374.3,166.8 604.2,276.8 465.2,153.8 486.7,222.1 302.2,184.9 391.8,170.0 273.9,179.8 579.7,201.0 486.0,161.7 627.2,258.1 634.2,153.7 637.8,245.0 439.6,219.1 364.7,163.6 493.9,163.3 341.8,181.9 611.8,236.2 502.7,225.0 561.7,218.3 587.0,215.4 79.5,285.0 202.5,217.0 443.6,215.1 439.9,224.1 617.7,145.5 264.0,184.6 614.6,254.8 115.9,260.6 107.1,289.7 627.4,160.2 93.2,202.6 572.5,249.4 604.1,263.3 564.3,145.7 597.2,219.0 111.6,258.6 532.8,200.7 408.8,172.5 450.6,202.6 534.2,191.7 363.2,178.8 404.1,170.7 600.3,254.6 201.3,232.7 600.2,245.6 298.9,197.5 415.5,163.1 610.0,239.8 430.7,184.9 423.8,221.9 412.1,159.5 360.0,181.4 110.6,290.9 486.7,151.2 451.9,149.4 516.3,175.8 463.5,221.1 364.3,164.4 597.9,148.9 211.5,259.5 283.2,195.8 628.5,231.9 600.8,156.4 551.3,222.6 197.4,222.3 204.4,270.5 105.1,255.7 571.6,236.0 485.0,165.3 454.9,218.3 113.7,211.4 541.4,176.5 601.6,161.8 465.0,178.5 278.5,193.2" fill="none" stroke="none" marker-start="url(#mr)" marker-mid="url(#mr)" marker-end="url(#mr)"/>
<polyline points="207.7,186.6 110.6,260.1 134.7,246.7 148.1,312.4 142.4,254.1 176.0,249.9 221.9,188.2 226.6,183.1 188.6,191.2 186.1,184.2 132.4,265.2 268.4,182.8 199.9,199.6 229.6,195.7 122.0,318.6 239.8,183.4 183.5,180.5 561.7,198.4 89.1,230.1 179.5,198.5 258.9,185.4 99.6,245.9 182.2,229.0 151.4,197.8 588.4,204.5 107.3,287.4 136.1,184.0 165.0,270.4 631.7,228.5 190.6,223.8 249.3,185.1 140.7,342.9 89.3,198.0 195.1,195.5 111.2,182.6 126.8,295.2 165.3,206.3 129.2,257.6 82.9,297.5 601.2,232.8 249.6,239.6 91.9,184.6 166.9,255.3 88.1,265.0 622.9,228.2 80.2,185.2 632.0,198.9 205.3,256.9 593.8,204.4 320.0,197.0 196.8,273.6 136.8,182.5 179.2,277.4 199.0,183.0 91.9,202.8 630.1,238.3 627.5,232.6 119.7,248.1 142.4,305.8 196.3,199.7 192.2,263.7 197.8,175.5 275.0,191.8 213.8,187.7 214.4,179.6 200.0,180.6 592.9,204.8 118.4,276.7 624.0,196.4 164.9,183.7 636.1,231.3 259.3,174.1 224.1,202.0 143.8,245.2 197.4,214.8 557.5,204.3 587.9,230.1 139.4,180.3 99.1,278.6 582.3,217.7 633.1,213.7 118.1,311.1 123.7,257.8 536.0,207.8 567.8,215.2 87.1,281.0 213.1,266.4 154.2,304.4 161.0,191.7 583.4,230.9 117.3,259.3 89.5,188.4 113.9,191.3 203.9,186.9 240.5,186.8 176.8,213.3 106.6,316.9 154.1,247.4 589.4,222.0 630.4,229.0 93.1,195.3 84.2,290.9 182.1,187.8 195.6,257.3 87.7,271.4" fill="none" stroke="none" marker-start="url(#mg)" marker-mid="url(#mg)" marker-end="url(#mg)"/>
<polyline points="322.5,232.5 573.2,206.2 379.5,230.2 460.3,215.7 279.2,232.8 286.3,236.2 270.9,244.6 268.1,242.6 584.8,156.8 590.7,157.0 392.6,221.1 95.2,188.3 272.0,231.4 234.7,239.6 95.6,184.3 293.4,179.8 575.6,158.7 154.3,243.5 423.4,222.4 497.6,159.4 587.9,159.8 293.4,180.6 416.1,226.0 459.2,163.2 202.1,237.2 286.0,181.9 471.1,214.9 244.0,234.9 263.7,235.7 522.2,160.7 592.4,160.6 248.6,240.3 609.6,158.1 611.4,203.7 295.6,184.3 435.9,222.1 237.7,233.0 435.4,219.0 287.4,233.0 377.2,166.7 585.5,153.5 315.6,182.7 313.3,234.9 372.3,223.8 394.4,166.4 180.4,240.2 341.5,175.1 363.5,174.1 603.0,154.7 324.3,175.5 543.2,211.7 524.4,160.0 480.8,212.1 181.4,239.4 640.3,205.9 591.0,158.1 468.2,213.8 593.9,159.3 601.7,204.9 594.2,205.8 335.7,170.9 636.5,209.1 96.8,244.2 408.7,224.1 253.4,190.0 314.1,178.4 349.1,241.8 354.4,226.6 393.3,167.1 282.2,232.3 261.6,244.8 148.4,190.4 369.1,224.5 591.9,205.0 268.1,186.7 271.6,186.4 343.8,176.0 109.8,244.2 85.5,186.3 615.4,204.0 384.6,223.3 352.4,236.4 527.7,155.5 504.7,216.7 92.6,187.4 320.8,180.1 323.9,176.7 431.9,158.3 430.4,167.0 440.8,156.3 353.1,232.5 470.0,160.3 79.4,241.6 215.0,189.5 183.4,244.4 333.5,230.7 253.9,231.8 115.4,249.0 337.6,230.0 329.6,233.0 207.1,194.2 250.1,184.1 427.1,216.9 581.6,158.1 421.3,217.8 630.9,205.3 291.4,229.3 566.1,155.1 473.7,214.0 358.1,171.2 329.2,230.9 200.3,236.0 391.8,222.9 184.8,193.2 164.6,247.4 509.7,161.9 207.4,188.6 254.2,238.0 478.6,164.1 433.1,215.4 381.0,233.8 374.5,227.7 206.4,193.6 636.9,157.0 528.5,208.8 251.4,185.2 447.5,163.5 392.2,231.2 500.0,213.9 336.1,228.7 432.8,166.5 607.5,148.2 597.5,154.3 313.8,175.8 570.6,204.9 320.9,243.9 543.9,158.9 574.5,149.2 248.1,189.2 489.4,161.5 143.2,245.9 252.1,234.2 408.9,226.9 169.9,245.7 409.7,163.0 449.5,156.5 434.9,167.3 360.9,174.8 274.1,251.2 288.0,175.1 457.5,157.6 308.1,241.5 275.3,236.3 292.1,232.4 493.9,162.4 566.9,157.8 276.1,182.8 438.8,161.1 485.4,211.5 136.8,245.8 433.7,154.2 333.4,176.3 484.9,213.8 456.5,219.8 601.7,149.6 147.1,244.3 147.9,192.3 572.2,156.7 368.8,164.5 389.0,227.6 401.9,168.3 325.8,176.2 85.9,240.3 499.1,160.8 531.0,151.7 434.1,161.3 312.1,180.8 99.0,244.3 365.5,171.9 537.0,153.8 137.7,192.7 617.6,205.0 377.3,169.5 389.7,229.3 135.8,249.2 95.9,243.5 426.1,226.8 107.8,241.1 457.9,153.6 281.2,185.3 84.6,186.0 228.0,190.6 272.4,241.0 494.1,161.4 601.7,153.7 112.1,247.0 383.7,161.0 360.1,226.5 594.5,207.7 398.2,158.4 343.0,226.9 424.3,158.0 191.5,192.5 214.0,193.3 432.1,162.2 636.9,151.3 382.5,226.5 269.4,239.0 487.7,158.2 170.7,194.6 154.6,194.1 421.0,219.7 492.9,163.1 426.7,164.5 339.1,242.3 186.9,193.1 516.1,210.6 575.0,205.5 519.7,154.2 470.4,216.4 235.7,244.1 564.6,153.2 266.9,236.2 155.2,244.3 613.1,152.0 103.0,243.4 554.9,209.7 330.0,170.6 130.7,251.2 635.6,146.1 326.9,172.7 628.4,212.2 362.3,173.0 210.0,236.1 352.1,173.4 555.6,210.0 309.6,174.3 428.2,221.9 385.2,223.1 313.7,233.3 628.5,206.1 573.4,159.4 383.6,161.7 300.3,173.9 187.2,192.8 195.8,189.3 364.2,165.1 150.8,195.1 441.0,160.7 196.4,192.3 328.1,235.7 148.1,244.1 366.6,167.1 139.4,245.2 501.8,150.5 188.1,191.6 143.4,192.4 300.0,233.4 232.0,240.4 312.1,235.7 287.2,184.4" fill="none" stroke="none" marker-start="url(#mb)" marker-mid="url(#mb)" marker-end="url(#mb)"/>
<polyline points="634.0,240.3 471.5,154.9 280.4,187.3 109.7,285.6 448.4,156.0 416.8,170.5 634.9,232.7 333.7,180.3 626.0,232.8 625.2,236.8 619.5,178.3 397.7,156.1 472.5,191.0 483.3,227.5 474.1,227.8 127.3,286.4 348.9,175.5 261.6,179.9 447.1,148.6 632.3,149.7 340.1,212.0 594.4,222.6 114.3,230.2 602.1,167.3 312.7,202.9 589.9,144.7 595.1,226.7 291.4,199.2 145.4,248.1 372.2,170.1 530.0,155.7 543.8,190.6 285.0,194.5 98.8,251.3 325.1,199.7 85.8,255.3 389.7,173.9 87.4,293.4 94.7,170.7 397.5,158.7 421.4,174.1 85.2,319.1 503.5,155.2 614.3,276.6 312.4,177.3 447.4,153.0 633.5,149.6 237.9,199.2 448.3,166.7 625.4,257.9 608.1,169.2 283.7,185.0 567.8,233.0 597.5,256.4 629.4,294.7 609.0,302.3 620.2,287.5 281.7,174.8 431.8,170.0 512.1,165.4 240.9,206.6 404.6,196.9 242.0,201.4 599.6,158.1 515.0,160.3 155.8,286.3 592.8,231.2 411.1,192.4 630.0,227.7 375.6,191.7 542.4,146.2 589.7,264.1 249.4,200.9 507.6,180.0 610.5,252.7 334.0,183.5 436.1,228.2 91.2,171.2 521.9,227.8 283.0,173.3 633.2,263.3 306.2,199.5 487.8,217.5 601.6,265.9 89.8,269.1 633.4,228.5 186.0,241.4" fill="none" stroke="none" marker-start="url(#mr)" marker-mid="url(#mr)" marker-end="url(#mr)"/>
<polyline points="111.7,248.7 623.7,227.8 230.1,189.5 294.7,177.9 222.5,175.1 209.2,179.3 224.8,178.2 102.7,254.2 608.2,208.6 120.1,194.1 131.0,259.4 140.8,292.0 608.3,244.7 600.8,200.0 564.8,208.5 185.4,247.4 129.6,287.8 222.1,179.2 245.7,185.8 97.0,265.4 615.4,201.7 206.9,251.3 83.8,314.9 168.3,172.1 142.7,250.0 112.5,280.5 629.4,142.9 162.3,186.5 240.2,190.2 161.3,180.5 111.5,206.3 507.6,176.1 620.5,195.8 105.9,313.6 183.4,185.2 614.2,201.4 87.6,274.1 143.1,294.0 139.3,259.4 244.7,189.2 109.7,189.7 243.6,191.5 230.3,259.0 591.6,178.3 453.6,173.5 154.3,193.6 196.6,211.9 244.1,277.3 604.9,235.5 166.2,276.1 163.2,262.6 187.6,275.2 181.9,189.9 165.2,200.1 125.9,325.2 373.2,209.3 103.6,262.0 134.3,263.5 126.5,257.8 100.3,289.6 173.7,186.2 207.7,189.8 215.6,218.3 114.2,182.2 233.4,187.4 139.0,287.1 155.9,253.6 85.5,193.6 177.9,182.9 126.4,177.6 284.2,240.2 123.5,329.1 135.8,249.7 137.6,268.5 151.5,182.7 87.8,282.4 114.7,198.4 262.1,196.4 619.3,207.7 205.7,189.9 346.2,215.4 189.7,191.7 177.7,257.6 473.9,178.4 545.7,212.2 106.9,191.5 599.3,227.9 104.4,187.5 142.9,268.3 577.5,210.0 202.9,192.4 160.5,267.7 195.0,249.8 241.8,184.9 238.2,181.8 88.6,314.2 107.0,290.3 112.5,270.0 240.3,213.9 632.4,216.3 474.3,182.4 215.2,249.7 586.8,223.5 232.8,175.1 126.5,188.0 151.4,185.9 141.5,189.4 157.2,195.7 589.0,203.8 159.1,194.9 115.0,320.8 140.1,195.7 123.6,267.2 325.3,192.5 195.8,250.3 90.4,192.8 616.5,199.9 158.7,187.1 99.7,246.2 630.2,219.1 205.7,178.7 276.6,189.4 124.6,283.5 136.5,172.6 87.4,303.1 611.2,182.1 252.6,183.0 177.1,191.8 370.8,187.3 137.6,271.7" fill="none" stroke="none" marker-start="url(#mg)" marker-mid="url(#mg)" marker-end="url(#mg)"/>
<polyline points="574.2,154.8 490.2,158.4 93.3,244.8 526.9,213.2 119.3,246.3 129.0,247.8 461.1,158.5 359.7,241.1 422.7,222.6 538.6,152.3 111.0,190.2 206.3,194.6 558.8,159.7 227.1,193.6 315.6,179.1 366.2,172.9 194.1,239.1 404.9,163.7 95.9,241.7 375.5,165.9 339.4,230.6 410.3,231.5 640.8,213.9 523.6,208.4 368.9,228.7 272.7,180.1 393.2,229.2 212.5,242.3 303.6,235.6 146.1,242.0 497.0,211.0 286.3,230.3 605.0,204.6 457.1,214.1 603.3,203.3 354.0,228.2 232.0,237.1 173.1,194.4 413.0,228.0 552.6,206.5 380.9,224.7 579.4,207.6 421.5,161.9 259.2,235.2 470.4,212.2 384.5,161.5 230.8,189.1 317.6,180.8 259.8,187.5 343.2,237.4 306.7,182.2 621.7,204.2 138.0,244.3 368.1,223.7 253.1,243.0 455.4,153.5 314.7,243.1 400.2,170.8 223.2,243.8 367.2,174.5 305.8,236.4 586.3,151.2 538.5,210.2 595.5,208.0 244.9,237.3 468.6,163.5 606.1,154.3 309.4,244.7 499.0,153.2 540.5,152.3 454.6,153.0 464.5,212.5 425.0,219.7 87.5,189.5 568.4,154.4 394.2,171.9 414.3,225.7 428.2,163.2 427.5,163.4 389.1,230.3 462.5,214.2 435.9,166.1 286.2,235.8 286.4,242.6 237.7,236.9 157.0,193.3 425.5,155.6 415.5,217.3 454.0,165.3 207.9,192.5 396.5,223.1 384.2,163.2 413.2,162.0 340.3,177.9 194.0,193.0 258.5,239.4 106.7,191.7 335.6,232.1 262.3,231.4 211.1,241.6 311.8,233.2 546.4,213.0 432.0,223.2 364.4,238.0 167.1,243.3 276.7,184.6 401.9,221.6 390.6,225.8 388.8,165.0 251.3,187.1 386.4,163.2 167.8,194.6 343.4,168.2 226.0,234.8 352.2,174.6 540.5,159.2 477.1,158.9 153.2,195.7 488.5,149.0 314.6,236.6 567.5,153.3 593.0,203.8 568.9,205.4 298.1,182.7 577.9,204.1 423.1,166.4 575.4,206.4 385.3,171.4 139.3,192.5 80.6,182.5 350.4,173.8 583.8,159.6 342.9,231.4 194.1,192.7 394.6,163.8 594.6,204.9 386.8,165.0 87.3,187.1 312.8,239.8 614.4,148.9 226.0,235.5 287.2,233.1 232.9,190.7 389.1,222.1 359.1,174.4 457.6,161.9 480.8,215.4 312.9,231.5 347.1,228.1 478.0,216.7 502.4,150.6 258.1,246.7 270.6,183.0 443.1,159.1 475.1,159.1 552.5,154.2 569.6,205.2 290.4,238.0 463.0,161.8 98.7,243.7 465.1,216.6 521.6,158.6 229.3,238.5 189.3,193.5 280.6,179.1 120.8,246.8 506.9,212.8 122.2,246.8 283.2,184.4 505.3,162.9 586.4,157.3 503.2,159.5 632.0,151.4 516.9,209.3 601.1,202.3 371.2,164.7 320.9,234.5 294.4,232.6 409.4,227.2 321.5,234.2 303.0,231.9 444.5,217.9 523.3,159.8 185.3,239.3 506.4,161.7 305.1,181.5 344.7,228.2 172.3,192.7 198.1,240.0 339.4,238.4 543.5,155.0 410.1,159.1 406.3,160.4 335.0,228.3 240.9,238.8 330.3,229.9 461.8,223.2 95.0,188.6 215.7,241.9 322.5,172.4 494.2,156.8 346.3,232.1 608.4,157.2 363.1,168.3 444.1,216.8 151.8,191.3 152.5,194.0 452.8,213.3 347.8,225.6 569.1,153.9 417.6,161.2 383.4,174.3 432.5,216.6 118.7,248.8 593.1,157.2 107.3,247.6 140.3,193.6 133.2,242.6 588.5,149.6 464.7,158.0 345.0,236.2 421.5,166.3 242.1,235.8 493.3,157.9 331.8,175.2 186.4,241.0 208.1,239.4 291.0,246.1 412.5,217.6 244.9,239.7 554.2,207.6 323.7,229.0 131.3,245.6 301.5,233.5 481.6,156.2 264.3,232.2 273.1,178.4 163.8,244.0 588.1,202.1 373.7,224.3 439.4,164.7 314.3,182.9 232.5,244.9 430.9,161.4 141.5,192.0 635.0,153.6 310.5,243.1 492.3,160.8 568.1,152.7 350.4,227.0 273.8,182.2 630.9,154.4 175.9,242.2 487.0,214.2 563.8,158.2 269.3,230.9" fill="none" stroke="none" marker-start="url(#mb)" marker-mid="url(#mb)" marker-end="url(#mb)"/>
<polyline points="592.6,213.9 476.4,184.9 178.8,258.9 424.3,230.1 304.6,176.1 481.7,177.0 92.6,277.2 108.6,271.1 486.8,173.3 88.1,200.3 467.5,173.7 112.6,258.6 635.3,254.5 98.7,272.6 633.6,241.6 539.8,164.4 89.6,250.2 619.0,276.3 625.1,158.4 140.9,248.9 537.4,154.6 593.2,224.7 514.0,241.8 633.8,224.8 377.9,180.4 274.1,182.7 564.5,250.1 605.8,251.1 517.8,179.7 510.5,158.6 607.1,281.0 169.4,287.6 571.1,146.2 277.6,203.1 572.9,160.0 294.7,183.4 309.8,178.4 564.8,148.4 122.6,280.4 347.9,177.9 431.4,172.6 368.2,177.6 527.6,172.1 513.3,230.2 621.6,269.1 504.1,191.1 447.3,159.7 563.3,233.2 82.3,251.6 581.8,220.6 505.6,180.7 355.6,170.5 141.9,310.1 272.2,184.2 426.0,191.5 452.7,161.6 444.8,221.7 475.5,225.3 456.3,168.0 479.1,156.8 516.8,217.4 531.9,151.1 87.0,274.7 392.2,175.1 596.7,247.3 380.7,177.8 504.4,216.1 399.3,158.0 570.3,158.1 127.7,209.8 584.4,153.2 572.0,154.5 625.5,291.1 488.8,185.7 596.0,243.6 610.3,257.6 575.2,171.8 439.7,159.3 550.3,151.7 511.8,243.5 548.1,227.1 514.3,240.4 138.8,227.7 418.3,171.7 371.9,178.9 232.0,230.0 601.4,165.0 498.8,177.9 192.6,224.3 519.6,162.9 528.7,225.8 494.1,163.0 527.3,162.3 384.4,170.0" fill="none" stroke="none" marker-start="url(#mr)" marker-mid="url(#mr)" marker-end="url(#mr)"/>
<polyline points="104.9,182.3 222.1,208.0 533.7,208.9 169.8,279.3 99.2,287.9 111.2,261.8 101.5,190.8 113.3,245.1 151.7,188.5 127.5,201.0 146.2,256.9 629.9,234.9 107.4,187.8 110.6,259.1 107.2,217.7 232.0,182.8 614.5,239.6 122.6,191.2 80.7,216.2 178.9,192.3 114.9,311.5 181.7,186.9 120.5,202.6 147.2,191.6 219.1,197.0 538.9,205.5 114.2,185.6 328.4,205.7 280.3,182.9 124.2,189.8 201.6,289.1 329.0,205.2 605.8,234.8 257.3,210.0 147.0,293.6 107.4,333.3 109.6,303.2 622.1,218.7 173.7,271.3 132.6,256.1 127.2,288.1 228.2,250.9 113.5,250.6 565.4,200.8 167.4,185.8 203.4,193.8 243.2,227.2 133.1,318.6 516.4,196.6 165.4,294.2 150.0,259.9 207.0,177.1 116.0,292.3 191.3,184.3 153.7,184.6 170.5,254.3 93.0,317.0 102.0,273.2 91.4,299.2 151.4,194.5 325.4,212.4 118.8,194.9 94.8,252.8 139.0,280.0 252.9,196.9 605.5,218.9 115.2,198.3 147.6,203.0 184.0,233.8 583.1,222.2 126.8,278.6 146.3,262.2 193.0,260.0 191.7,182.3 598.6,223.8 94.5,329.8 91.1,241.5 110.9,206.5 179.9,178.1 158.1,278.3 560.4,212.6 84.0,285.4 208.6,181.6 175.9,275.7 438.5,184.2 227.9,277.2 636.9,133.5" fill="none" stroke="none" marker-start="url(#mg)" marker-mid="url(#mg)" marker-end="url(#mg)"/>
<polyline points="390.9,233.0 608.1,203.8 115.2,244.4 501.5,160.7 301.0,237.5 385.5,232.6 467.4,164.2 498.4,157.3 237.5,240.7 319.3,242.8 348.9,228.1 616.5,206.2 270.3,188.6 558.1,210.9 315.8,173.1 84.2,245.2 344.5,174.2 240.1,239.4 196.0,246.9 458.6,157.0 336.4,239.9 273.3,183.9 484.6,154.7 181.2,192.9 608.1,206.6 196.4,237.6 478.8,161.5 139.7,243.6 299.8,252.7 503.0,157.3 470.5,157.3 220.4,239.5 86.8,244.2 420.5,217.0 162.6,243.2 133.3,193.7 265.7,235.7 83.4,190.8 534.6,158.7 374.8,173.8 293.6,241.0 226.2,238.7 373.8,165.5 300.4,232.1 258.9,188.9 602.0,207.5 351.6,240.4 274.3,235.4 417.6,230.2 502.9,213.8 573.8,211.8 479.7,150.5 289.4,239.6 506.9,154.9 308.4,242.7 187.1,191.1 549.3,155.6 258.2,232.4 384.0,240.9 208.8,193.9 351.9,241.2 342.9,235.5 218.4,246.9 298.5,236.4 427.2,222.1 288.9,184.8 589.3,208.5 265.6,185.8 285.8,230.4 401.4,229.9 415.7,223.8 611.5,154.0 533.4,160.1 540.8,156.4 550.2,158.8 103.6,241.1 503.0,210.2 245.2,237.2 136.5,244.8 527.4,207.4 95.9,247.8 616.0,152.2 356.0,169.4 271.1,230.4 573.4,150.1 398.4,162.6 619.3,147.9 507.3,211.0 392.4,225.2 267.1,234.2 353.5,242.8 621.2,151.1 123.2,191.1 590.7,204.2 387.1,231.1 360.4,161.2 439.4,155.3 542.4,160.8 99.8,245.1 548.9,208.1 192.1,193.8 249.2,244.1 391.6,220.1 456.7,213.4 356.5,243.1 110.6,250.5 117.6,243.9 564.9,154.9 448.0,219.3 250.8,188.5 441.8,217.9 366.5,234.5 376.7,223.7 433.1,161.9 266.3,238.3 433.3,167.5 365.1,164.6 120.2,243.9 315.6,180.5 554.8,155.1 353.8,228.9 380.6,221.7 367.1,164.5 279.4,177.2 422.6,165.7 632.5,155.2 552.1,149.2 511.8,158.3 405.7,166.1 337.8,172.8 402.3,169.8 274.3,242.2 441.8,155.0 593.6,153.5 419.8,167.7 508.1,214.0 211.4,236.3 304.3,182.8 518.5,152.2 119.7,192.0 537.7,150.1 525.5,160.4 227.9,241.6 80.6,190.0 323.0,239.1 97.0,190.4 162.5,244.1 256.9,230.2 290.0,243.1 597.3,149.1 418.6,168.0 193.5,239.2 566.9,150.2 441.3,218.9 355.4,169.1 235.4,237.7 365.9,225.5 253.1,233.2 235.9,186.1 273.0,183.5 622.9,155.1 250.3,239.8 259.7,240.6 84.7,246.6 409.6,159.5 352.3,168.3 462.7,222.3 395.3,164.3 98.0,244.6 627.9,201.3 461.5,216.1 258.8,233.5 477.7,150.7 402.9,219.5 132.7,246.7 475.3,163.6 583.9,156.5 499.0,159.4 586.2,158.4 460.2,162.7 396.8,168.9 125.2,190.7 119.4,247.4 131.6,190.8 612.8,156.2 377.3,224.4 307.8,177.5 260.5,237.3 249.2,190.2 620.4,151.1 358.2,229.9 579.7,156.3 355.5,226.5 89.4,190.6 238.3,244.4 297.7,234.5 571.5,207.3 634.4,204.3 392.9,223.8 180.3,242.1 428.2,164.9 581.3,204.7 626.6,155.4 418.4,220.0 465.1,164.1 248.8,234.5 332.8,231.6 588.9,157.7 456.1,158.2 296.0,179.4 615.4,151.9 586.8,159.3 632.4,150.8 417.5,158.9 244.5,233.1 393.1,231.6 584.2,151.5 238.5,248.0 303.3,179.3 128.9,191.4 589.3,149.5 410.5,167.8 173.7,193.4 196.2,240.6 635.8,157.6 342.4,171.9 301.8,234.1 83.0,185.0 439.8,224.2 618.3,149.8 527.2,160.8 360.3,176.2 85.2,244.5 226.9,242.0 627.0,202.2 527.6,209.2 632.1,157.8 252.2,248.2 287.5,230.7 350.5,170.5 439.1,213.2 377.6,221.0 618.5,205.1 560.0,156.8 506.0,209.9 244.1,245.7 335.0,172.5 340.8,232.0 214.0,244.0 588.1,159.1 451.2,164.6 375.9,223.0 449.1,216.2 300.4,229.9 433.3,219.2 409.5,228.7 600.7,203.1 541.2,158.0 221.4,190.4 416.7,169.3 291.7,182.0 532.3,149.7 128.1,192.9 216.6,237.8 193.1,194.0 557.3,159.9 319.7,175.9 221.4,245.7 308.0,229.6 265.5,231.9 141.4,244.2 120.4,242.2 100.3,190.7 377.7,222.7 505.2,161.2 573.7,204.9 555.0,206.0 361.8,236.8 576.9,205.4 135.0,247.8 244.1,188.6 470.1,163.8 528.9,152.7 507.2,155.2 413.3,165.9 556.7,160.8 506.5,213.4 177.9,244.4 248.9,248.1 422.0,168.0 234.7,233.7 303.2,173.5" fill="none" stroke="none" marker-start="url(#mb)" marker-mid="url(#mb)" marker-end="url(#mb)"/>
<polyline points="604.3,253.8 614.9,158.6 577.1,159.4 263.1,187.8 479.0,175.4 374.6,171.3 605.4,169.1 180.4,201.0 451.4,169.8 496.1,187.7 287.7,181.2 110.1,234.2 530.6,162.4 568.2,232.3 447.6,215.1 253.8,183.8 556.9,223.7 481.9,156.3 622.1,228.0 484.8,221.2 169.6,194.9 490.2,189.2 566.9,237.0 627.5,275.6 549.2,149.0 323.0,191.1 616.7,152.7 448.0,166.7 264.6,186.6 548.3,244.3 445.9,221.2 558.9,220.1 463.7,168.6 494.0,155.1 556.2,246.8 409.1,178.4 234.7,196.5 311.6,186.4 438.6,163.6 599.9,252.5 590.1,163.7 137.0,256.5 377.1,195.9 640.2,276.4 115.0,283.2 638.7,267.2 596.2,226.9 428.8,209.2 465.1,228.7 501.4,232.0 104.4,295.7 371.7,186.2 391.5,177.2 525.7,174.1 638.6,288.0 185.1,248.8 132.7,263.0 488.9,164.8 617.7,217.1 634.7,220.0 627.4,159.2 301.5,185.0 600.4,248.5 374.8,179.9 531.2,219.3 627.3,283.8 358.1,177.7 564.0,170.6 490.1,169.1 327.5,179.3 422.6,152.2 161.8,211.0 329.4,183.9 574.0,221.7 594.5,256.2 562.8,176.4 374.5,169.9 162.5,292.7 497.2,184.8 176.0,250.0 226.4,208.0" fill="none" stroke="none" marker-start="url(#mr)" marker-mid="url(#mr)" marker-end="url(#mr)"/>
<polyline points="122.2,291.9 621.5,208.2 476.3,192.0 86.8,266.8 83.9,318.7 120.2,291.5 79.3,306.1 90.5,257.8 213.3,194.6 182.0,258.2 103.8,329.5 226.3,194.3 631.2,241.0 212.2,177.7 121.5,191.4 639.2,146.7 103.1,249.9 96.8,270.0 298.0,202.0 624.8,223.5 225.4,186.8 95.3,270.5 427.5,202.8 554.2,210.0 120.9,282.7 190.6,194.5 556.1,168.4 96.0,218.6 158.3,229.9 291.8,222.7 210.4,189.7 633.7,235.7 589.9,218.7 104.3,255.0 125.9,200.7 129.3,199.5 82.9,281.4 626.1,224.7 92.8,190.6 186.7,243.1 244.4,195.1 112.9,305.7 357.1,195.8 235.2,183.2 589.5,205.0 114.3,258.5 136.0,252.2 566.1,204.2 184.7,177.5 192.6,186.7 553.0,211.5 115.4,324.6 262.4,176.6 251.5,191.9 214.9,181.2 284.4,190.3 223.9,255.3 129.0,304.2 622.2,211.8 594.3,234.2 160.6,286.5 304.3,209.5 627.9,225.8 119.6,251.7 173.8,249.0 200.0,227.1 114.7,294.1 572.0,201.5 596.0,233.7 209.6,184.6 159.8,251.4 168.7,176.6 98.6,256.7 79.1,323.0 116.7,315.9 249.8,191.5 223.8,184.7 142.0,191.4 129.9,277.7 240.6,257.3 591.5,208.0 124.8,184.8 100.4,214.6 153.0,192.8 114.2,264.5 165.1,277.3 218.1,187.0 89.6,277.6 220.6,262.8 88.8,267.5 579.9,214.3 597.3,235.6 116.5,195.7 607.3,211.8 166.4,192.8 223.5,186.1 125.1,270.0 165.2,193.6 250.1,185.6 126.4,186.5 182.0,184.5 546.3,207.9 162.1,200.8 98.5,342.4 512.3,210.7 122.3,184.8 614.5,199.8 174.0,244.0 175.9,274.0 614.3,206.3 585.8,214.8" fill="none" stroke="none" marker-start="url(#mg)" marker-mid="url(#mg)" marker-end="url(#mg)"/>
<polyline points="494.3,154.9 179.2,239.5 506.3,155.6 148.7,243.7 606.0,152.8 602.3,158.3 610.9,154.2 345.1,231.9 527.0,156.3 218.6,245.9 95.7,190.1 515.8,156.7 495.6,159.7 465.8,214.5 426.5,161.3 455.2,216.6 100.0,185.3 601.5,208.7 423.8,167.9 291.3,235.9 250.0,245.8 217.6,244.6 437.7,166.2 391.7,164.4 466.9,214.6 539.8,210.2 497.4,210.3 374.6,234.0 210.7,193.5 215.2,235.0 123.8,244.1 598.8,201.8 547.7,157.1 340.6,238.9 81.1,187.5 166.6,244.8 551.7,158.4 220.8,189.1 252.3,241.9 191.6,243.7 106.9,190.8 400.8,230.2 542.1,155.6 355.4,168.9 88.2,187.1 233.0,238.4 622.3,202.6 404.3,227.1 241.7,192.4 547.2,208.0 527.1,213.9 156.6,192.7 617.5,153.0 517.9,161.9 185.7,194.8 514.1,162.0 170.9,191.5 380.5,237.2 549.8,157.6 581.9,155.5 319.6,235.0 272.2,179.7 161.7,245.6 282.4,237.5 570.5,157.2 271.4,187.9 297.1,232.6 315.0,175.6 216.2,241.8 340.1,231.3 624.8,207.5 360.2,171.8 221.1,239.9 636.7,218.2 264.4,186.9 179.7,190.4 325.4,175.0 248.4,238.4 216.1,235.9 349.0,231.3 617.8,202.2 203.5,190.3 289.2,243.7 231.4,190.8 151.5,243.7 217.2,235.8 96.8,247.7 552.8,207.3 455.6,214.1 93.5,243.8 403.2,169.2 521.3,159.2 385.0,230.5 376.1,224.1 400.0,166.5 327.2,232.0 80.0,188.6 295.7,235.7 358.7,228.1 167.1,245.5 228.6,187.1 616.0,156.9 389.4,226.5 630.3,156.3 314.9,233.5 455.3,212.3 552.9,208.9 382.1,165.7 277.0,233.8 386.5,221.0 560.9,158.5 589.6,207.7 617.2,155.6 473.5,215.9 458.3,154.5 208.0,241.7 240.4,244.1 208.9,236.0 202.1,249.6 428.4,220.5 268.2,250.2 166.1,248.1 515.6,209.5 125.6,242.9 445.3,165.4 420.8,169.4 469.8,161.6 343.4,173.3 340.2,229.3 547.5,149.6 639.3,213.3 326.0,179.7 486.2,158.7 261.1,180.2 325.5,230.1 105.0,189.7 378.7,223.0 306.8,248.8 188.4,244.6 313.1,230.3 526.6,211.9 629.9,210.7 323.0,237.2 249.0,234.5 365.2,173.3 509.3,211.8 550.7,208.0 255.8,235.2 264.0,238.4 541.3,159.5 587.2,202.1 304.6,229.7 289.0,240.2 307.4,239.3 420.9,218.4 471.5,156.0 264.5,184.3 314.5,245.0 524.4,161.9 249.4,187.7 391.0,233.6 407.8,158.4 248.0,189.0 444.8,163.4 523.8,153.2 267.2,187.9 267.4,242.6 343.8,172.7 381.8,168.6 252.4,184.9 396.7,221.8 558.4,156.6 493.9,213.5 312.2,232.1 450.5,160.6 309.0,240.5 375.6,229.8 379.4,170.7 335.7,228.0 574.9,204.1 471.2,212.7 481.4,158.5 311.6,179.1 493.1,155.9 513.6,152.1 425.5,167.4 584.3,157.2 175.8,195.5 447.1,160.2 286.9,250.1 177.2,193.4 456.4,214.3 320.7,240.8 337.2,234.2 410.6,228.3 398.4,164.4 435.9,220.7 135.9,193.9 295.5,232.8 165.6,192.7 142.0,243.2 355.6,166.7 420.9,167.8 330.1,240.4 311.2,232.1 640.7,154.3 595.8,204.7 164.8,193.3 632.1,206.3 364.2,163.2 397.8,168.6 476.5,150.1 391.5,160.5 559.0,154.4 315.0,239.0 225.7,187.3 294.8,175.9 552.0,159.9 404.6,235.6 158.7,244.5 84.9,186.7 282.3,181.5 336.7,175.6 137.3,243.8 269.6,233.7 544.8,159.1 133.1,243.6 319.1,241.2 294.1,244.1 540.7,211.6 226.1,240.8 392.8,219.9 324.1,178.2 352.5,226.4 386.3,230.9 462.5,158.6 90.8,189.6 585.2,154.1 536.6,157.2 403.3,224.9 475.6,215.9 497.7,161.7 454.3,163.3 474.5,154.5 263.1,184.2 525.6,153.2 265.3,232.8 134.4,242.1 475.9,213.5 412.3,224.0 602.0,203.7 374.4,164.9 364.6,226.2 481.4,213.1 269.1,186.4 339.6,231.5 626.8,157.8 402.0,169.7 562.3,157.9 301.0,238.5 502.6,154.9 450.8,165.3 240.8,190.6 169.1,248.1 623.9,156.2 297.8,184.6 270.1,232.6 377.0,233.8 347.1,236.1 408.0,165.8 632.3,211.0 252.7,236.3 614.4,201.6 322.9,245.2 416.0,163.6 590.5,153.4 441.2,156.7 640.1,204.3 395.4,169.4 245.0,246.2 84.8,189.1" fill="none" stroke="none" marker-start="url(#mb)" marker-mid="url(#mb)" marker-end="url(#mb)"/>
<polyline points="120.7,258.5 79.5,289.0 574.8,176.5 530.6,220.9 550.3,228.6 522.6,161.4 123.9,317.0 504.5,164.2 598.6,161.7 509.7,157.0 366.7,170.7 278.4,184.5 329.6,196.2 473.4,154.1 625.6,253.2 540.7,160.9 442.7,217.0 362.4,186.1 430.2,191.5 83.1,204.0 626.7,175.1 633.0,243.1 362.6,166.7 401.1,174.2 422.6,167.8 630.8,265.1 133.3,280.0 570.1,237.2 291.0,213.4 603.8,241.5 571.9,242.2 178.5,206.4 269.2,184.6 269.6,182.5 108.9,319.1 485.1,224.8 448.5,162.9 618.0,263.3 636.8,155.5 213.0,244.7 467.7,177.5 635.8,257.1 107.3,264.2 167.9,247.2 118.3,250.9 121.5,258.0 294.1,178.4 84.5,253.7 604.1,245.3 101.8,289.5 529.1,242.4 615.4,259.0 629.1,300.5 589.7,156.2 354.3,209.9 469.8,152.2 167.3,246.5 600.5,288.3 385.6,198.9 419.3,178.7 356.7,176.4 123.4,249.5 126.9,277.9 311.2,204.7 567.8,170.2 632.6,161.7 332.6,180.3 636.0,152.5 482.2,157.7 598.4,236.1 620.9,294.4 552.8,245.5 608.6,237.4 531.4,217.4 387.8,210.9 610.1,155.5 511.5,192.1 632.0,248.1 128.9,293.6 614.5,218.4 393.0,181.1 480.8,218.2 420.1,200.2 613.2,258.7 428.3,168.8 422.5,225.3 532.3,158.2 602.3,159.4 610.5,248.1 553.1,167.7 409.9,169.7 196.3,211.3 605.6,230.2 379.5,186.5 571.9,227.9 541.3,164.0 247.9,212.5 547.0,218.9 636.2,275.4 627.3,288.4 545.3,163.8 593.1,165.1 425.5,170.1 276.7,186.1 184.0,267.5 340.9,175.7 606.6,243.4 335.2,168.1" fill="none" stroke="none" marker-start="url(#mr)" marker-mid="url(#mr)" marker-end="url(#mr)"/>
<polyline points="597.7,234.1 82.3,299.9 205.4,188.7 497.9,172.4 154.6,251.9 539.3,213.8 94.5,280.9 592.9,231.4 154.5,190.4 199.1,171.3 398.1,190.0 591.6,234.7 103.4,294.4 243.6,187.3 204.7,173.1 137.8,179.1 194.6,268.2 573.7,203.3 296.6,216.6 147.0,229.9 153.8,182.3 623.7,219.1 527.3,199.7 367.3,195.8 152.1,254.9 212.2,185.4 115.8,296.4 631.7,201.0 162.7,282.7 245.6,249.6 227.5,183.6 140.7,251.3 181.3,249.7 619.8,196.0 142.6,188.2 255.2,223.5 104.2,185.2 428.9,194.4 107.8,309.1 125.5,179.4 158.0,199.0 91.1,204.8 156.4,242.0 152.9,259.9 134.9,184.0 131.9,265.6 185.8,294.0 615.8,196.2 148.5,195.2 86.4,300.6 206.6,277.0 273.9,256.9 142.2,289.4 134.9,248.7 111.5,305.0 524.5,205.4 193.7,273.9 125.7,187.4 124.3,192.9 255.2,188.8 137.1,190.9 130.3,273.9 157.3,195.2 528.7,189.3 124.2,285.3 185.0,180.6 626.7,236.5 114.4,267.0 128.4,317.5 162.8,188.4 137.4,254.6 109.2,257.1 104.5,267.6 549.9,214.8 118.9,196.8 96.3,266.7 170.7,249.1 84.6,187.6 208.1,185.3 576.5,203.2 634.1,153.9 91.9,240.5 624.1,225.6 613.4,196.4 153.6,274.4 223.4,248.3 171.2,189.2 129.4,291.9 160.7,192.8 573.0,202.0 243.5,209.1 638.3,146.0 216.6,242.1 181.1,228.8 180.2,200.7 192.4,194.5 122.7,182.0 161.9,196.6 235.0,195.5 111.5,312.4 107.7,186.2 240.2,182.8 117.9,181.3 320.0,216.7 509.2,204.3 109.9,271.6 148.7,297.1 130.3,258.1 106.7,314.1 633.7,134.2 296.1,212.7 193.2,190.2 476.6,176.3 162.8,196.7 633.9,170.4 112.5,197.0" fill="none" stroke="none" marker-start="url(#mg)" marker-mid="url(#mg)" marker-end="url(#mg)"/>
<polyline points="293.7,183.7 345.2,227.1 503.6,151.0 616.2,149.1 225.8,243.7 190.6,239.6 610.0,206.2 394.1,169.2 340.1,236.3 588.3,205.6 557.4,160.6 632.8,203.1 79.6,179.8 395.9,224.1 223.9,235.8 338.3,229.3 471.7,155.5 575.1,159.7 148.9,192.2 638.0,150.6 462.4,152.7 115.5,192.4 378.0,227.7 93.2,243.0 361.6,175.7 330.9,234.1 450.0,219.9 563.6,206.8 354.5,168.0 88.7,247.4 398.0,168.7 470.0,162.7 434.8,219.0 142.5,244.7 91.2,241.0 462.1,151.2 417.2,166.4 162.7,191.8 196.0,241.2 210.5,241.5 83.1,247.4 177.2,242.6 493.8,154.6 382.9,160.1 527.4,150.4 524.4,157.3 461.8,157.4 175.8,243.2 372.6,230.3 458.2,161.8 226.1,244.7 334.4,169.2 618.8,201.3 304.0,176.7 354.4,177.7 290.6,232.0 339.4,227.2 555.2,156.0 514.6,152.8 363.0,230.1 581.7,202.3 378.0,167.9 503.7,162.0 443.1,158.6 462.3,219.0 458.8,158.1 268.0,183.4 451.3,161.2 591.8,152.7 301.3,239.7 90.4,190.7 577.7,147.5 379.9,236.6 504.6,157.1 622.2,201.8 279.2,237.0 293.3,247.8 413.0,217.7 518.6,160.2 423.2,160.8 417.9,162.4 489.9,162.6 434.1,164.2 568.0,159.0 477.0,217.5 554.4,154.4 116.1,188.6 149.0,249.6 305.6,234.0 507.4,154.1 499.1,154.6 325.0,175.8 325.5,243.0 234.3,188.2 103.1,244.0 165.7,244.6 469.2,212.3 566.6,207.2 384.9,221.3 383.7,169.2 164.7,192.2 552.4,161.4 127.0,242.5 269.4,183.6 630.0,157.9 531.1,157.6 474.0,160.2 540.9,210.9 480.8,214.3 564.6,158.5 159.9,243.7 209.0,191.7 530.4,209.0 273.8,241.6 406.2,219.2 158.6,195.6 442.6,216.3 221.6,240.5 365.5,165.2 254.9,187.3 429.0,165.5 137.7,248.1 580.7,210.5 619.2,202.0 375.6,234.3 487.3,163.8 148.2,191.3 523.0,155.3 118.3,192.8 365.8,169.2 614.7,158.7 157.3,193.8 99.6,191.8 282.8,246.3 192.3,192.0 225.3,189.7 561.8,208.9 360.1,163.5 359.0,227.8 361.8,174.9 440.7,166.7 354.4,231.1 84.3,190.5 424.4,220.1 608.3,156.8 85.5,189.4 144.1,193.5 576.0,154.1 396.0,163.5 332.1,233.1 123.2,190.8 255.2,231.6 327.8,227.2 304.0,234.1 344.6,172.0 476.3,151.5 415.6,162.0 164.4,245.2 637.5,207.6 223.7,190.7 558.4,207.3 113.0,191.1 258.4,181.1 567.6,155.7 245.6,236.0 461.6,162.9 463.2,154.4 399.0,225.3 507.9,157.8 179.1,242.3 621.3,157.7 403.9,225.8 341.5,244.9 529.8,159.4 84.4,244.6 525.3,156.8 480.9,161.9 262.7,243.1 390.2,169.2 155.0,245.8 346.0,240.1 234.8,241.6 213.2,238.6 388.4,224.9 595.3,149.8 194.2,237.3 423.4,215.4 79.7,245.8 227.2,185.9 436.1,214.0 392.2,164.4 442.1,214.7 434.1,166.7 635.6,207.9 106.1,243.2 488.9,211.2 499.4,211.5 234.3,236.8 169.0,192.3 279.0,233.5 244.7,236.0 166.6,242.0 156.8,245.3 364.0,170.7 257.7,188.6 286.5,177.8 241.2,240.5 203.6,247.0 161.3,190.1 375.3,172.1 482.8,159.6 550.3,160.7 302.5,247.2 213.7,190.7 288.9,180.1 602.4,150.3 313.8,174.2 177.9,241.3 203.4,194.8 549.6,208.9 274.8,241.9 596.4,157.8 248.3,239.8 241.7,190.5 364.4,168.0 270.0,184.5 376.9,170.9 174.3,243.4 345.7,168.8 616.1,155.0 638.6,205.1 297.7,182.3 560.4,207.8 514.1,214.5 119.9,189.3 618.2,206.2 387.9,168.2 346.4,174.0 503.2,158.3 249.2,184.3 192.8,249.6 241.9,237.9 257.3,234.0 388.3,228.6 573.8,151.3 244.5,242.8 106.6,244.7 634.7,156.1 450.6,158.6" fill="none" stroke="none" marker-start="url(#mb)" marker-mid="url(#mb)" marker-end="url(#mb)"/>
<polyline points="474.2,172.6 567.1,250.8 322.1,183.2 588.4,173.0 574.5,144.7 293.7,181.5 109.9,322.8 355.9,180.9 310.9,206.6 369.2,164.1 433.6,216.8 499.0,168.0 614.4,295.7 432.0,162.9 145.1,256.3 409.9,164.9 407.4,160.4 372.3,158.9 439.5,167.1 472.0,159.5 362.4,188.2 615.2,270.2 624.4,260.1 527.8,177.7 620.9,270.7 477.1,177.2 158.2,261.8 524.1,163.1 614.9,264.0 561.8,227.8 506.6,176.5 423.9,154.7 628.1,161.7 504.4,162.8 108.7,293.4 578.1,161.8 578.7,167.4 591.9,223.0 605.2,278.7 523.2,220.8 145.7,298.8 84.0,294.5 500.4,164.4 402.5,161.7 517.9,151.2 589.6,243.9 459.5,185.5 597.4,225.5 393.0,191.8 408.8,169.1 578.7,166.6 491.2,149.9 527.8,144.6 481.0,161.3 614.4,313.3 437.9,219.7 321.9,178.4 557.9,166.9 469.7,240.0 575.9,192.2 256.0,187.0 244.1,221.4 343.8,166.6 617.8,237.9 434.1,169.8 486.2,233.8 552.5,228.2 133.6,293.3 500.2,236.2 234.0,242.6 135.3,251.5 302.2,177.9 98.1,293.3 566.7,214.1 100.5,281.4 425.8,153.2 452.3,164.3 506.8,231.7 124.3,212.2 524.1,165.4 301.8,216.5 90.2,298.8 514.0,232.6 500.5,158.8 488.4,171.5 512.9,192.4 112.5,290.5 639.1,270.5 602.6,174.5 479.2,218.6 572.6,228.2 487.4,226.2 586.7,258.8 194.6,249.4 606.9,143.0 281.4,197.0 324.7,193.4 554.7,184.3 597.1,149.3 386.0,183.1 566.7,144.4 333.7,169.7" fill="none" stroke="none" marker-start="url(#mr)" marker-mid="url(#mr)" marker-end="url(#mr)"/>
<polyline points="580.9,217.1 260.9,208.4 219.3,187.6 200.3,183.2 154.0,181.9 95.1,288.8 138.2,254.8 614.8,202.2 113.8,272.5 142.4,261.5 282.2,183.1 116.7,186.1 208.9,202.2 190.9,184.7 96.7,278.5 576.9,204.1 196.0,185.3 118.4,191.5 421.1,199.5 85.7,249.4 81.6,277.4 228.2,188.6 137.5,184.7 95.1,205.5 272.6,188.1 128.6,273.5 615.9,205.6 186.7,265.3 594.9,175.1 217.7,184.1 128.6,308.6 136.5,273.6 212.6,250.7 79.0,245.8 80.1,236.7 128.3,184.8 110.4,246.4 88.7,263.4 290.0,177.1 221.4,182.5 248.1,211.8 139.9,192.8 147.0,275.5 148.3,189.4 159.8,278.2 214.5,188.8 160.1,184.9 147.3,241.5 376.1,184.4 151.2,267.5 193.7,182.1 311.7,195.6 92.3,290.3 421.6,196.0 201.3,177.3 615.5,231.0 121.6,301.1 623.0,237.6 605.4,224.2 111.3,191.0 159.5,224.1 102.9,287.4 192.9,178.9 211.1,172.8 238.2,173.1 150.5,175.1 124.7,227.8 244.3,177.4 185.8,256.0 138.2,265.1 93.0,196.5 100.8,247.0 274.4,207.0 102.0,195.2 260.1,193.7 221.8,224.6 244.8,179.7 229.1,181.8 267.2,187.4 208.3,179.8 101.5,268.2 125.7,283.9 81.1,197.1 156.4,189.4 575.7,222.7 90.9,278.9 102.2,307.8 148.5,274.8 230.1,181.9 507.4,185.7 639.4,227.7 215.7,296.9 193.1,283.1 249.9,228.4 120.3,183.0 191.2,192.7 179.0,253.1 141.3,196.6 115.1,197.5 607.2,206.0 96.3,248.2 245.2,192.3 222.1,183.2 245.9,176.0 138.0,204.5 138.2,186.6 126.7,253.0 89.6,216.0 331.6,212.5" fill="none" stroke="none" marker-start="url(#mg)" marker-mid="url(#mg)" marker-end="url(#mg)"/>
<polyline points="492.8,211.3 325.8,227.4 214.2,190.3 604.5,153.0 150.0,241.5 236.1,240.6 598.2,207.5 179.3,245.7 376.3,167.2 235.5,190.1 408.7,168.0 503.1,211.5 302.4,235.2 82.0,188.9 626.2,201.7 347.0,234.4 133.3,247.3 442.6,162.5 217.2,247.7 635.7,156.7 274.5,186.6 567.0,206.9 323.7,181.1 251.1,233.2 583.2,204.7 538.2,154.5 360.5,239.2 351.9,232.6 258.3,248.6 507.0,209.4 627.7,152.6 304.4,175.7 557.8,157.3 523.7,155.3 427.8,164.4 324.1,231.3 336.2,171.0 483.1,162.2 550.6,159.3 471.9,160.4 354.4,169.8 247.5,242.6 411.2,220.0 487.8,160.1 298.2,239.8 516.1,153.2 405.3,220.6 180.5,195.8 276.3,185.4 579.4,153.2 83.5,240.4 372.3,231.0 428.6,222.8 368.0,231.6 530.4,153.0 296.3,179.4 198.2,238.4 493.5,151.6 280.5,232.1 482.1,157.3 345.3,238.2 535.3,159.5 560.5,156.8 369.2,227.9 555.4,208.2 271.8,235.0 622.1,207.6 285.3,235.8 275.2,240.8 498.2,160.1 623.5,150.0 490.6,162.2 454.9,164.2 422.1,166.3 484.6,161.0 91.7,189.4 350.0,229.4 178.0,192.4 93.0,189.2 519.3,152.9 434.0,217.2 414.5,224.0 517.7,212.1 304.1,233.4 160.2,194.3 302.6,178.9 528.7,157.0 173.8,244.1 264.3,238.4 163.6,249.6 259.1,243.0 334.0,242.0 401.3,156.0 583.0,158.6 388.5,170.4 380.4,162.2 244.2,184.9 419.5,157.1 214.3,245.9 169.2,194.9 323.1,175.5 149.8,250.7 191.2,194.5 156.2,194.3 476.1,153.2 633.7,156.1 597.4,204.8 628.6,202.2 84.0,242.1 539.9,209.6 249.6,237.1 267.0,233.2 332.3,171.6 301.0,240.3 307.3,237.5 472.4,163.6 640.7,209.3 281.3,239.5 216.9,239.5 273.6,229.6 211.8,191.8 418.5,223.5 355.0,239.1 151.4,195.8 341.7,174.6 573.8,160.2 448.1,159.7 411.1,162.9 174.8,245.6 507.8,162.7 637.5,209.6 87.0,189.4 319.7,180.8 349.6,167.2 230.8,233.4 222.2,245.1 440.8,165.7 321.7,242.4 533.0,159.8 207.6,193.5 251.3,188.9 330.8,230.9 92.3,186.0 533.1,211.7 324.7,174.1 393.5,168.7 512.7,161.7 552.6,210.4 249.1,189.5 213.7,234.6 587.3,205.3 81.0,183.8 151.8,244.2 511.4,155.7 571.6,153.2 270.2,234.2 409.1,223.7 611.0,152.9 439.3,163.3 273.3,235.7 569.0,152.2 89.5,243.2 559.7,206.4 600.7,154.3 351.4,165.1 267.8,236.2 534.2,207.9 430.3,158.4 367.4,166.9 96.6,186.8 519.8,161.3 206.6,238.2 412.8,222.2 169.6,189.2 489.3,214.2 609.1,201.7 268.8,182.8 453.0,218.0 290.7,179.5 247.9,237.5 246.2,186.3 461.6,152.3 629.7,204.4 473.1,212.4 582.1,204.6 458.5,153.8 383.3,228.8 588.0,158.7 553.8,208.4 500.7,161.1 304.7,246.0 237.6,247.9 428.4,226.2 164.7,195.6 196.5,190.5 479.5,212.0 377.2,168.8 359.6,165.3 309.4,241.3 397.7,235.1 395.4,222.7 115.8,245.9 586.1,209.7 401.5,164.6 278.3,186.0 248.3,184.7 198.5,243.7 495.0,213.2 498.1,162.1 400.4,226.8 319.7,236.5 138.7,245.5 237.7,242.3 406.9,223.3 521.2,211.2 386.8,168.4 488.7,155.8 374.5,228.5 213.4,191.1 289.5,182.3 583.9,154.4 389.7,166.7 293.1,238.6 614.5,156.4 529.3,155.9 424.9,165.0 461.7,160.8 443.6,218.7 456.4,216.8 290.5,236.0 473.1,159.2 626.8,207.4 242.7,238.2 383.5,221.4 519.4,210.4 285.7,180.9 416.4,223.8 359.1,226.4 451.1,214.6 422.4,228.4 272.4,186.7 327.5,231.0 149.9,245.9 332.4,174.1 281.6,230.4 625.0,156.3 190.2,194.2 108.1,188.2 189.5,189.4 378.7,224.7 371.9,230.5 444.2,159.4 327.2,236.9 230.1,246.3 196.7,236.7 438.8,162.8 588.6,156.0 154.3,190.1 352.1,229.4 168.2,193.8 114.8,243.1" fill="none" stroke="none" marker-start="url(#mb)" marker-mid="url(#mb)" marker-end="url(#mb)"/>
<polyline points="611.8,302.0 120.8,257.0 425.5,167.7 472.4,162.1 173.1,275.3 245.2,226.5 173.8,257.0 91.4,263.7 420.6,153.2 632.3,167.9 513.4,225.5 327.1,204.3 418.3,157.7 546.6,150.0 459.0,229.5 617.2,147.7 370.7,190.8 389.5,176.9 315.4,191.9 381.2,176.0 123.2,234.2 548.1,168.0 526.6,228.8 552.3,161.0 131.8,266.2 352.0,179.2 563.1,224.0 413.2,170.3 490.8,149.3 579.6,251.0 150.7,278.9 613.2,162.2 517.3,150.1 323.9,190.0 376.6,186.9 362.9,179.5 107.7,271.0 93.6,243.1 404.7,166.3 360.1,168.4 378.7,193.7 454.0,150.6 541.1,151.9 107.2,228.2 280.5,184.6 626.3,271.5 522.1,229.1 89.7,292.6 306.0,198.4 522.7,200.2 557.3,161.9 593.8,230.2 396.7,174.7 511.9,163.5 413.3,177.1 414.8,169.5 456.7,154.7 256.6,181.4 627.1,230.3 319.0,180.8 370.8,161.9 632.9,255.5 639.1,236.1 545.5,155.6 87.2,245.7 273.0,191.8 396.6,176.2 527.3,164.4 109.1,308.4 407.1,171.0 335.5,182.4 547.2,154.6 614.5,274.7 83.2,303.5 255.9,224.3 125.7,249.9 209.2,217.4 186.2,206.8 327.2,169.4 549.0,145.3 162.6,209.0 550.3,160.6 85.8,214.3 632.6,244.3 368.3,178.3 632.3,279.4 376.8,163.2 443.4,200.8 288.2,190.4 504.1,227.9 474.6,187.7 439.3,178.0 498.8,147.2 286.4,175.5 395.7,185.4 149.3,267.3 356.0,205.0 640.5,267.1 405.2,161.0 429.1,181.5 462.8,176.3 124.8,268.9 310.3,171.7 320.3,192.5 600.1,213.8 231.2,253.5 579.6,152.1 639.7,256.1 360.1,163.7 569.1,240.5 577.9,227.0 596.7,217.8 633.1,257.5 549.4,166.3" fill="none" stroke="none" marker-start="url(#mr)" marker-mid="url(#mr)" marker-end="url(#mr)"/>
<polyline points="537.8,205.0 167.6,275.3 92.4,291.5 155.4,215.0 174.6,195.7 627.3,214.2 84.1,262.7 97.0,251.8 597.9,213.8 181.4,236.1 102.2,324.5 172.2,186.0 96.7,189.5 228.9,190.6 84.0,296.6 626.2,230.1 100.6,292.8 208.1,184.9 619.8,202.5 610.2,214.5 97.5,183.9 202.8,224.7 132.2,191.0 606.3,219.1 159.5,194.0 177.5,177.6 612.2,224.7 110.7,195.8 200.8,188.2 220.5,249.6 143.4,249.3 250.2,201.3 242.6,190.2 122.8,326.7 525.1,182.6 389.9,207.9 624.8,210.7 213.9,283.6 177.6,271.4 100.0,194.8 151.7,236.0 260.0,179.2 149.2,180.9 84.5,181.3 604.8,212.1 196.6,248.3 211.0,184.6 134.7,243.5 96.8,198.9 606.6,196.7 517.4,192.6 201.0,278.3 156.3,244.0 176.1,184.3 415.1,191.1 236.9,180.7 86.8,187.7 575.4,196.9 600.7,232.8 106.9,190.3 124.1,225.7 79.8,287.0 259.8,187.5 97.3,246.2 231.4,194.7 132.5,182.8 125.3,224.7 252.6,184.8 558.6,209.5 83.2,227.8 146.1,248.1 80.8,192.9 551.3,193.7 182.6,285.0 102.2,242.1 108.1,249.7 183.8,175.2 165.6,178.6 238.2,185.2 146.6,258.7 147.8,179.1 237.5,238.9 603.2,232.9 621.7,222.9 155.8,205.1 149.8,202.0 136.8,195.1 186.9,221.7 116.5,287.5 185.3,188.7 221.5,219.8 167.1,192.2 131.4,245.0 83.5,184.8 137.8,193.0 336.1,209.8 152.7,176.1 208.1,265.0 108.4,266.5 89.1,189.2 236.7,197.8 100.6,313.0 92.5,198.2 152.2,200.7 207.7,191.4 609.5,214.2 550.8,203.8 111.2,196.6" fill="none" stroke="none" marker-start="url(#mg)" marker-mid="url(#mg)" marker-end="url(#mg)"/>
<polyline points="397.6,169.2 606.1,202.5 239.7,240.3 490.2,212.2 306.6,178.8 188.0,243.9 612.9,200.1 613.5,159.9 350.3,177.5 296.7,175.7 510.0,213.3 507.1,160.6 507.8,210.9 478.8,154.8 373.8,237.5 545.2,160.5 629.5,157.2 179.7,244.7 149.1,191.7 534.7,212.5 544.3,153.2 161.8,242.3 234.6,189.3 497.9,212.1 201.2,243.4 486.8,161.5 467.3,152.2 308.7,246.6 558.1,154.7 135.8,242.3 443.6,222.3 616.1,203.1 359.4,234.4 380.1,230.8 357.9,168.4 344.0,165.7 431.8,218.2 349.1,237.0 122.8,247.9 241.6,189.4 369.2,171.4 287.6,181.9 111.2,191.6 83.8,181.2 557.8,210.8 406.3,157.4 578.7,157.9 620.2,208.1 512.1,159.9 180.8,239.3 449.1,161.6 357.2,172.4 152.6,190.7 111.7,242.2 471.4,218.5 289.5,233.0 164.4,243.0 278.5,231.8 626.5,203.7 228.2,191.8 462.4,160.3 272.3,233.6 197.9,246.5 409.6,168.9 414.4,168.4 600.1,208.0 314.5,241.2 243.1,234.3 370.1,172.8 288.1,181.1 224.2,240.7 638.2,204.8 448.6,162.8 464.0,221.0 310.3,230.1 357.3,225.2 404.2,230.1 343.3,239.5 192.9,239.0 186.5,195.2 304.6,184.6 467.5,218.8 245.7,242.5 190.5,240.2 329.5,238.1 471.6,153.7 251.4,239.5 388.2,230.0 83.2,187.3 344.9,166.2 493.3,215.9 427.4,220.9 457.5,224.0 276.7,235.8 599.6,155.3 126.6,244.4 338.8,232.2 288.8,244.1 583.7,207.5 399.8,159.2 604.3,154.5 81.9,185.7 615.6,204.2 639.7,152.1 330.1,241.5 362.9,235.0 585.5,159.3 510.4,159.6 328.1,231.8 320.6,229.5 604.6,207.3 547.0,156.0 298.9,229.0 446.7,164.9 286.2,241.1 209.6,241.2 199.2,240.0 235.2,236.7 347.7,233.7 320.6,235.7 160.6,243.6 428.8,217.0 351.7,234.5 568.1,157.8 273.7,242.9 522.8,152.6 371.4,240.6 428.0,218.3 163.5,194.4 416.1,165.5 289.9,236.5 598.0,207.6 325.9,173.6 612.4,203.6 274.2,245.8 200.6,239.9 631.4,205.0 158.1,194.1 581.0,205.6 347.1,173.2 544.3,150.9 356.4,173.0 492.2,161.4 335.0,243.1 564.3,155.8 200.9,195.4 567.9,160.5 329.5,240.7 323.8,228.2 433.0,218.4 275.1,183.2 517.9,158.7 224.0,244.7 110.3,189.5 281.3,180.1 638.4,210.5 174.6,195.5 504.9,152.7 371.7,223.6 273.7,246.0 459.3,214.7 570.7,207.2 381.5,228.3 629.3,205.8 431.0,215.8 386.4,228.3 527.2,158.2 307.3,238.5 274.5,183.2 337.6,228.7 299.1,231.5 130.2,193.9 535.5,158.3 216.0,187.6 201.4,239.5 435.8,165.2 507.0,153.2 299.1,174.4 213.1,236.5 451.1,215.6 322.0,228.0 442.5,218.6 260.9,236.0 97.7,242.9 194.7,242.5 445.0,166.8 280.1,236.0 216.5,242.5 399.4,168.7 313.1,177.2 638.5,149.3 560.6,156.0 613.5,206.2 155.7,243.8 446.4,222.8 299.0,237.4 437.6,226.3 247.4,188.6 553.0,209.6 329.7,179.0 363.4,236.1 102.7,186.7 608.2,204.6 464.1,165.1 99.4,242.8 368.2,232.8 350.7,234.7 255.6,234.2 408.9,169.3 334.0,175.6 425.4,162.2 559.6,155.7 279.1,236.7 242.9,189.0 473.4,149.9 383.2,237.8 445.7,215.8 416.2,160.4 506.3,211.8 155.0,245.0 633.8,203.3 182.5,195.9 459.6,154.0 628.2,154.2 134.2,243.8 416.6,155.8 421.6,218.5 437.6,222.8 495.5,161.2 219.7,240.1 304.8,236.3 117.8,245.1 295.2,232.0 547.3,155.1 279.0,184.6 301.3,181.6 458.4,220.5 373.4,230.5 363.9,224.8 464.5,164.9 168.0,245.0 409.9,167.3 459.6,153.6 491.6,159.6 88.8,245.7 426.7,216.2 185.2,195.3 618.8,200.2 104.9,248.5 324.2,235.7" fill="none" stroke="none" marker-start="url(#mb)" marker-mid="url(#mb)" marker-end="url(#mb)"/>
<polyline points="368.2,186.8 369.1,177.3 354.6,182.7 420.2,167.7 606.7,254.4 628.5,255.8 598.6,217.6 328.2,215.8 515.9,144.2 551.0,160.2 551.9,162.1 80.4,240.3 504.8,154.3 595.3,241.8 408.4,168.0 633.5,261.9 426.5,165.3 258.0,184.5 468.4,149.9 132.2,248.6 605.0,258.4 621.0,193.9 485.3,167.6 116.8,272.5 79.6,263.2 403.5,152.3 537.2,230.1 628.6,224.4 447.5,231.6 608.9,143.4 376.0,166.3 504.4,160.2 439.0,168.9 293.4,192.2 136.2,266.4 522.0,171.8 124.6,256.6 620.3,145.8 637.1,158.7 581.4,168.4 528.5,153.3 441.9,180.6 624.8,300.5 503.5,174.1 510.6,157.7 597.0,271.2 475.0,161.3 383.4,190.7 606.0,234.1 495.3,170.1 557.5,146.7 608.2,277.7 527.3,148.2 212.9,198.5 134.4,269.8 515.3,171.8 483.4,156.3 573.4,154.6 414.4,160.3 95.0,270.2 458.7,235.0 616.1,151.7 632.7,148.1 403.5,171.9 432.3,160.5 596.8,265.2 117.5,304.4 608.7,167.5 123.7,291.7 338.5,170.5 625.7,248.7 198.6,251.2 172.4,248.9 634.0,260.3 499.1,171.1 165.5,255.6 423.4,170.0 416.0,165.0 564.1,224.0 148.4,246.6 357.4,179.5 85.4,267.6 440.3,225.6 132.3,203.6 618.3,245.4 293.6,179.8 291.4,203.4 398.3,166.1 383.6,168.6 624.2,245.0 586.5,145.2 543.0,254.5 612.0,259.4 356.3,166.1 427.5,188.3 200.1,202.7 616.0,153.2 627.1,264.2 589.8,170.2 538.4,152.0 584.6,234.7 405.2,217.3 550.8,219.9 187.7,201.8 374.6,161.7 559.9,155.0" fill="none" stroke="none" marker-start="url(#mr)" marker-mid="url(#mr)" marker-end="url(#mr)"/>
<polyline points="226.1,240.3 244.6,196.2 185.4,193.6 600.5,203.7 138.2,243.1 79.0,256.8 614.7,198.2 235.0,194.6 159.7,287.7 560.7,201.4 107.7,259.8 123.5,294.1 220.7,189.7 632.7,222.1 623.4,209.0 164.3,195.6 133.7,193.2 108.8,259.8 285.9,185.1 86.9,263.9 193.4,290.4 297.7,187.5 250.1,199.7 369.7,201.8 112.9,293.0 218.4,176.9 624.7,204.9 579.0,213.9 163.9,172.4 90.6,243.0 232.6,282.3 98.2,289.5 209.3,256.3 96.7,188.9 574.2,217.5 609.5,200.0 168.4,185.4 370.3,210.3 183.3,191.2 179.2,272.5 633.8,204.3 129.4,300.2 229.4,189.6 89.8,211.7 598.2,195.5 198.7,172.2 586.1,197.1 634.5,202.3 608.4,205.8 200.6,187.3 108.5,258.5 173.5,171.2 127.9,179.1 185.2,196.9 572.2,183.7 224.2,221.1 134.4,189.6 80.2,309.6 211.1,194.7 86.6,183.4 236.7,251.2 103.9,312.6 606.7,211.5 169.8,193.0 169.2,181.8 159.4,180.9 605.4,198.0 207.7,179.1 142.3,244.0 243.2,207.6 87.1,263.6 109.3,182.9 180.1,290.6 85.2,288.8 583.0,198.8 366.2,206.4 618.4,192.8 596.2,232.1 598.7,221.0 86.3,202.3 81.3,192.4 378.3,188.9 608.2,223.3 95.1,251.6 284.7,176.3 264.5,181.1 473.1,195.5 572.2,214.3 168.0,186.1 120.4,187.1 141.7,286.9 560.3,211.2 97.8,306.8 578.0,173.1 93.0,219.8 596.7,196.9 176.1,269.5 90.7,298.4 606.1,206.8 136.5,268.9 98.4,268.5 158.8,180.4 469.1,206.9 222.1,212.4 95.2,296.7 146.4,271.2 98.7,191.0 176.8,278.1" fill="none" stroke="none" marker-start="url(#mg)" marker-mid="url(#mg)" marker-end="url(#mg)"/>
<polyline points="487.1,213.7 87.4,184.1 86.1,185.1 572.7,151.8 378.1,229.5 586.9,147.6 287.8,182.5 114.2,189.2 426.6,222.9 418.9,158.1 159.8,244.9 327.6,234.3 134.7,244.1 541.4,211.3 306.0,241.2 563.3,160.0 625.4,204.8 472.2,212.3 427.0,226.6 120.6,244.0 599.2,151.2 236.1,237.8 368.7,224.4 258.6,187.7 353.0,227.3 109.3,242.4 488.8,213.3 271.9,240.1 253.4,186.3 565.5,154.7 566.1,152.2 162.2,250.5 212.6,192.1 353.3,234.7 386.6,170.6 511.5,211.0 517.5,152.1 360.7,231.8 638.2,146.8 440.4,214.5 219.7,242.5 362.7,171.7 263.3,242.7 328.8,178.8 208.2,191.8 415.1,167.0 514.4,158.2 401.6,167.9 529.2,212.3 324.4,173.9 113.7,241.7 93.6,188.2 463.1,159.9 543.7,156.4 197.3,246.0 167.2,193.2 127.7,246.4 359.4,233.5 392.3,222.4 374.3,166.4 182.7,245.5 622.3,156.4 219.4,191.4 117.1,241.5 619.9,154.3 307.2,230.7 428.8,160.6 390.2,224.0 460.3,212.7 584.2,203.7 535.0,208.3 96.6,188.5 263.1,236.5 251.1,234.6 617.5,158.4 271.4,241.5 498.4,217.5 578.2,205.0 89.5,187.1 351.6,170.4 331.0,231.0 353.2,229.8 486.2,157.3 147.1,243.7 151.5,192.1 614.4,208.4 423.8,220.3 513.4,153.8 575.7,204.0 636.5,155.6 240.6,186.6 172.7,248.1 398.2,161.8 509.0,210.1 586.9,152.6 355.5,228.4 273.2,248.7 549.0,151.7 219.2,190.7 348.8,173.1 613.5,154.1 198.3,193.9 265.4,244.3 258.1,244.6 417.1,163.6 284.3,231.6 339.8,170.5 257.4,240.0 274.4,238.7 330.6,176.4 288.8,231.4 313.1,243.6 397.0,236.1 118.8,191.0 366.7,170.7 479.7,163.9 310.2,233.9 300.6,231.9 340.4,166.8 215.5,238.7 605.9,158.9 569.7,208.6 307.8,174.4 272.7,231.3 186.0,193.4 448.5,224.5 227.2,189.4 469.4,157.2 308.1,175.8 252.8,186.5 271.5,185.6 612.1,153.8 338.4,172.4 268.9,234.6 575.4,157.4 542.1,212.9 603.0,155.8 443.9,216.2 362.5,222.5 169.1,243.0 277.9,177.7 631.0,207.7 521.3,209.6 380.5,174.3 406.1,218.6 443.5,227.6 407.0,158.8 163.6,248.4 640.7,211.3 247.3,243.5 406.0,165.1 504.4,159.3 363.2,169.3 497.4,153.6 115.2,189.7 459.9,213.2 445.8,221.0 348.0,239.3 488.5,162.1 230.9,237.8 444.7,161.9 620.0,210.8 625.4,202.5 374.7,163.2 282.7,233.3 155.3,246.0 414.1,158.6 185.2,190.2 626.9,206.3 298.8,234.2 474.8,214.6 203.9,193.2 329.0,173.1 256.3,240.5 481.9,154.5 410.2,217.3 404.8,226.6 453.4,162.7 498.9,152.2 558.4,205.2 112.9,244.7 631.9,211.5 572.9,160.8 594.5,159.0 147.0,247.3 623.3,208.5 274.6,236.8 367.3,223.9 250.6,189.4 582.7,206.1 574.6,206.8 185.3,249.0 252.5,188.2 637.0,202.7 271.3,248.6 301.7,182.8 393.3,166.3 261.2,236.8 266.2,181.5 354.5,173.7 175.0,193.7 329.4,233.3 156.0,248.7 415.3,164.3 379.2,168.8 376.4,232.9 388.3,161.5 596.7,205.9 241.7,248.6 322.0,180.2 228.8,250.7 231.8,244.6 555.5,156.6 541.4,208.3 245.6,240.0 580.1,206.4 320.8,238.9 588.3,204.3 264.1,244.8 620.9,201.7 429.6,219.5 253.3,188.8 235.0,240.7 284.2,180.5 492.0,158.9 342.5,227.5 367.9,229.5 373.1,235.3 172.5,243.3 369.2,233.8 459.0,217.2 292.3,238.2 436.1,218.4 350.0,227.4 310.0,235.1 260.2,185.9 485.0,162.8 226.7,187.6 630.5,153.6 621.3,150.2 624.3,204.1 321.5,230.5 536.5,208.9 304.3,238.8 376.5,225.5 281.5,178.5 328.2,233.3 421.8,168.8 230.6,247.4 139.0,193.8 361.3,226.8 465.7,154.5 502.7,149.1 344.7,232.3 465.4,215.1 538.4,160.5 192.0,236.8 111.2,240.8" fill="none" stroke="none" marker-start="url(#mb)" marker-mid="url(#mb)" marker-end="url(#mb)"/>
<polyline points="628.8,158.9 81.2,275.4 611.2,228.6 634.5,254.8 419.5,173.2 253.3,187.8 632.7,174.8 422.6,206.8 125.0,289.8 499.0,159.8 620.4,222.9 568.8,240.7 623.0,264.0 284.2,185.7 444.6,161.1 632.5,153.6 154.9,254.2 342.2,171.4 472.0,230.5 287.1,207.9 584.5,241.2 581.7,243.1 578.6,151.8 531.5,193.3 443.5,168.1 425.5,218.0 629.1,282.5 105.5,239.1 586.6,231.8 342.3,183.2 342.3,168.9 192.9,267.7 628.6,167.4 338.3,180.5 591.0,174.4 491.9,193.9 441.7,160.9 360.0,175.1 335.4,173.7 566.4,216.2 541.7,174.0 79.5,257.3 152.4,236.4 619.3,263.2 566.3,190.1 104.8,318.1 480.9,165.9 356.9,180.4 428.7,190.4 634.4,295.6 96.8,239.5 457.2,166.9 549.2,221.3 391.6,176.2 461.8,232.8 548.0,228.0 490.7,160.2 578.0,169.3 629.6,157.7 230.5,218.6 120.3,230.2 603.3,249.8 93.7,316.8 87.5,168.8 367.9,198.2 588.5,157.5 312.4,196.3 260.6,184.8 593.5,157.7 601.7,175.5 141.9,206.1 442.1,223.4 269.1,202.4 410.5,184.9 361.8,175.5 523.2,162.1 420.5,216.6 538.6,237.4 559.8,156.4 483.9,155.4 146.9,232.8 124.7,255.7 84.5,275.4 311.0,183.9 599.7,248.6 622.5,187.0 620.3,269.5 557.9,161.2 83.5,284.9 529.0,157.2 571.3,161.5 155.5,259.4 423.0,168.2 631.4,157.6 419.1,151.7 532.5,160.3 458.3,232.6 474.4,166.9" fill="none" stroke="none" marker-start="url(#mr)" marker-mid="url(#mr)" marker-end="url(#mr)"/>
<polyline points="633.9,211.7 136.0,285.1 247.9,190.4 88.6,199.0 154.5,174.4 116.9,180.9 221.6,225.5 134.4,196.8 158.2,253.7 191.3,189.9 120.7,298.6 223.7,196.5 108.8,326.3 168.1,196.4 137.3,308.8 573.8,216.7 97.1,184.2 139.8,291.9 219.4,191.2 188.6,198.6 111.9,249.9 156.5,246.5 632.3,196.6 102.3,199.0 163.7,186.4 600.6,193.6 247.3,188.9 173.7,256.4 131.8,188.5 219.9,265.4 266.7,194.5 81.9,326.2 168.5,203.2 261.7,246.8 615.9,232.7 127.9,267.2 633.5,135.0 621.1,206.3 142.1,279.5 343.5,216.6 244.7,183.2 239.0,183.0 625.3,233.7 212.6,272.9 108.2,200.7 200.1,176.7 324.7,221.0 204.9,268.7 589.3,202.6 176.5,197.3 634.3,195.2 182.2,172.1 437.8,178.6 110.5,292.5 139.4,177.1 157.3,245.3 143.4,263.6 211.4,282.0 165.9,266.3 634.9,204.4 599.2,208.9 196.6,275.8 93.0,308.7 107.0,297.3 185.4,187.9 176.6,179.7 258.5,241.7 181.5,179.9 94.8,193.4 130.4,328.0 85.5,277.6 251.9,226.6 216.0,186.1 128.8,274.6 80.2,293.3 116.5,256.6 596.5,204.9 189.7,198.4 592.6,193.7 195.7,187.5 169.9,183.3 137.3,278.8 374.4,208.5 196.0,225.1 563.2,208.0 614.0,213.0 193.9,289.1 561.0,197.7 147.7,274.7 137.6,321.3 612.8,231.0 116.7,292.8 222.9,224.6 79.8,310.5 635.4,196.7 115.8,221.3 261.5,179.7 165.6,251.4 136.6,297.5 273.4,194.4 212.4,182.7 96.0,333.3 177.8,254.5 174.4,191.1 165.4,179.4 639.1,233.8 165.5,253.3 141.9,188.5 89.1,267.4 107.4,281.1 546.1,200.4 220.3,187.2 568.3,200.6 134.9,320.1 409.6,184.8 168.8,178.7 159.6,322.7 119.2,284.5 201.9,190.9 230.7,221.9 225.1,224.2 423.5,172.1 152.0,186.0 150.2,248.8 135.7,180.9" fill="none" stroke="none" marker-start="url(#mg)" marker-mid="url(#mg)" marker-end="url(#mg)"/>
<polyline points="491.5,154.2 482.4,215.9 440.1,218.9 273.1,178.0 281.9,243.0 586.9,155.3 129.4,192.3 367.6,225.0 249.5,231.2 266.8,232.8 319.6,240.8 218.8,237.6 465.6,162.9 95.7,189.7 293.4,182.9 473.6,157.9 386.8,166.3 399.9,227.3 288.2,229.6 343.0,173.4 360.6,162.9 449.1,213.6 416.0,216.9 269.8,237.9 492.6,214.6 574.2,158.6 620.3,204.5 291.7,244.8 583.1,205.4 515.7,160.3 483.3,150.9 297.1,179.6 398.7,220.6 263.2,186.6 91.6,243.9 389.8,220.1 271.7,239.6 135.0,245.8 550.4,210.3 415.3,168.9 302.4,234.3 637.4,206.6 362.1,231.6 467.5,157.6 227.3,243.1 305.8,229.6 342.5,229.1 269.2,231.8 405.2,223.5 250.2,237.4 375.6,170.6 344.5,169.0 339.5,176.8 519.8,149.4 319.0,230.1 211.2,192.9 377.6,167.6 532.9,160.7 452.2,160.8 261.7,187.2 124.4,247.2 637.3,202.6 289.2,183.1 212.4,239.8 353.8,174.1 326.4,178.4 218.8,191.9 199.3,192.1 508.8,210.3 397.8,218.9 283.0,241.4 492.3,155.9 307.4,182.2 580.5,156.4 605.6,151.4 285.6,244.4 589.2,207.0 532.6,161.2 194.2,195.7 473.3,162.7 630.8,203.4 378.1,172.0 212.6,194.2 181.5,193.8 180.6,190.1 587.8,203.6 275.2,233.3 236.6,248.6 365.0,227.5 349.1,172.3 242.6,233.7 551.9,156.1 627.3,156.2 561.7,155.0 274.3,237.4 388.9,225.1 289.9,234.4 466.6,212.8 418.6,218.3 532.7,208.4 402.2,167.8 382.9,230.2 321.8,240.2 604.3,203.7 587.3,153.6 105.8,244.8 326.1,240.1 497.7,215.7 180.2,248.5 423.7,163.7 430.6,168.6 295.4,234.8 498.0,153.3 490.8,151.5 346.0,228.5 116.2,243.0 531.9,209.2 436.4,166.5 278.3,184.0 605.0,153.1 606.9,201.8 293.3,230.1 470.0,155.9 107.7,187.1 225.8,236.8 549.0,155.4 631.3,209.6 214.6,238.8 460.1,163.5 364.2,236.3 79.8,187.8 192.9,244.8 515.2,212.3 609.7,157.7 387.2,166.2 210.8,237.5 461.6,164.9 148.8,245.7 308.3,235.0 505.0,213.8 281.2,232.0 414.1,160.6 293.7,233.7 247.6,246.9 526.4,154.4 277.8,246.1 639.2,153.4 291.1,231.5 551.8,159.1 162.2,247.8 249.6,188.1 437.7,165.2 191.6,237.6 367.1,230.7 81.9,186.4 289.1,185.0 79.3,182.7 237.5,243.5 391.1,228.0 291.5,240.0 579.2,151.3 512.9,157.5 506.9,152.7 275.9,186.4 571.6,158.1 635.0,204.0 322.5,179.7 304.9,230.2 257.6,247.1 262.3,239.0 300.4,182.7 282.4,182.4 484.7,214.6 472.5,210.7 618.7,156.5 391.8,232.7 332.6,232.5 414.3,167.5 94.7,184.3 292.2,230.5 418.9,217.1 329.5,177.8 393.9,230.2 589.9,154.7 338.9,177.9 383.8,219.1 635.9,211.6 290.1,182.6 597.5,148.3 191.6,240.4 580.5,208.1 261.6,233.0 384.6,220.2 125.9,245.5 376.3,172.8 339.9,232.8 606.1,156.0 180.6,241.0 615.6,201.6 421.7,225.4 303.4,230.1 101.4,187.4 610.3,151.7 293.3,237.0 109.9,191.5 125.6,243.4 520.3,213.2 640.0,220.4 120.9,190.8 358.2,162.1 583.6,208.5 561.1,160.4 568.2,160.1 427.2,161.3 560.3,209.3 204.2,242.1 383.9,230.8 88.6,242.2 351.7,230.1 431.3,225.0 130.7,195.9 637.1,154.4 81.5,240.2 263.4,237.6 351.5,168.4 595.0,148.8 422.7,226.4 386.1,224.6 377.3,173.7 513.3,210.9 372.9,228.7 269.4,232.7 417.0,168.5 307.2,236.0 146.6,192.0 98.8,242.2 338.0,174.7 347.6,239.7 464.9,159.2 97.5,240.9 247.9,231.5 437.2,220.4 165.3,191.4 386.0,221.3 506.6,158.8 361.8,235.6 288.3,240.5 397.6,234.5 506.2,156.1" fill="none" stroke="none" marker-start="url(#mb)" marker-mid="url(#mb)" marker-end="url(#mb)"/>
<polyline points="417.4,149.2 619.4,262.3 534.0,167.4 551.2,238.2 568.1,171.4 431.7,156.6 307.9,202.2 609.3,175.4 579.4,187.5 622.3,190.2 345.7,180.6 352.1,179.8 582.5,161.4 590.4,260.9 554.9,173.1 602.9,242.7 589.1,168.2 210.8,244.9 335.5,199.8 108.5,207.0 574.4,157.1 549.5,237.8 599.4,260.1 176.2,259.5 300.0,185.0 444.3,214.2 502.5,178.2 235.2,211.3 448.1,153.4 107.9,217.9 535.4,229.0 329.1,173.6 147.2,264.2 602.1,271.4 615.8,262.4 235.0,201.7 483.3,148.9 587.8,245.3 597.1,162.7 158.2,230.4 548.4,149.5 89.8,264.3 613.2,264.6 519.7,233.3 558.7,146.8 566.0,227.7 546.3,224.4 470.0,165.4 517.7,232.2 598.9,155.1 554.4,237.4 143.5,284.7 607.6,256.1 521.4,236.3 615.7,282.2 533.1,165.3 346.7,172.0 114.8,279.4 483.5,236.7 279.6,184.1 540.2,233.5 414.9,167.6 98.6,310.8 518.2,163.8 136.3,250.1 279.1,192.1 205.4,241.5 267.0,185.7 143.2,274.4 584.7,242.6 316.4,194.2 369.2,174.5 443.1,222.6 324.2,174.5 620.1,254.8 190.4,221.4 377.3,171.2 419.0,176.9 575.7,155.8 497.3,218.3 577.8,245.7 426.1,155.5 523.1,151.8" fill="none" stroke="none" marker-start="url(#mr)" marker-mid="url(#mr)" marker-end="url(#mr)"/>
<polyline points="81.1,187.1 583.3,219.2 638.2,219.7 128.9,281.5 216.2,177.5 167.9,205.4 185.2,249.9 119.0,261.3 113.8,184.9 195.7,184.7 145.4,331.0 204.3,181.2 124.6,228.9 90.5,247.3 228.0,184.2 262.5,195.8 244.3,181.5 510.5,214.2 236.0,179.8 395.1,196.8 251.4,184.7 180.4,189.7 325.0,211.9 169.0,185.4 500.4,185.6 625.3,201.8 158.0,192.3 115.7,280.6 200.4,182.8 197.3,182.1 144.1,225.8 565.9,222.1 236.1,184.6 203.3,190.5 108.3,277.1 607.3,232.6 117.8,270.3 86.5,271.7 598.3,229.3 128.1,243.9 87.4,260.0 81.0,265.9 274.0,197.3 115.5,253.6 221.4,247.1 535.8,217.9 331.1,211.2 196.0,255.7 259.2,202.5 617.7,211.7 178.7,175.6 152.0,294.7 173.5,312.7 97.4,303.9 105.2,297.7 157.6,196.5 633.6,162.7 630.5,224.3 106.2,267.3 181.5,259.2 94.3,210.6 96.0,305.8 131.3,258.8 174.7,179.3 88.2,247.6 625.6,209.9 608.5,201.1 157.7,177.2 242.5,188.3 169.7,188.2 87.4,195.9 229.0,178.0 90.7,269.6 253.4,175.6 268.2,217.2 585.7,217.7 612.0,202.2 150.9,328.8 182.4,267.2 585.4,195.2 85.7,241.5 98.9,195.2 170.4,177.1 151.7,265.4 568.4,209.9 284.1,201.2 580.3,206.4 162.3,184.6 81.8,230.9 270.4,220.5 640.9,217.9 99.5,275.9 578.9,205.8 634.9,211.2 119.4,258.3 229.0,180.1 268.3,252.0 216.2,259.1 81.2,198.8 281.9,187.3 186.8,248.6 256.2,192.1 528.0,206.6 635.1,238.7 168.7,183.3 619.2,219.4 230.4,185.8 168.9,182.8 108.1,186.3 107.2,193.9 551.1,210.5 169.8,184.2 85.2,269.4 346.6,208.9 615.3,213.4 225.9,181.9 151.4,195.2 585.4,222.3 82.9,250.6 610.9,205.3 574.9,212.9" fill="none" stroke="none" marker-start="url(#mg)" marker-mid="url(#mg)" marker-end="url(#mg)"/>
<polyline points="273.3,187.4 80.7,188.8 335.9,236.4 99.0,187.1 459.5,216.6 350.7,239.1 484.4,218.6 338.3,234.5 513.8,211.3 195.1,192.6 521.2,160.3 322.5,176.1 615.5,154.8 313.4,238.4 286.0,181.8 374.5,235.2 283.3,240.6 232.8,235.4 235.6,187.4 457.5,165.3 498.3,211.4 102.1,188.2 111.6,190.9 406.5,167.2 481.1,212.3 321.3,244.7 628.8,151.2 458.4,162.8 206.3,248.2 422.7,161.8 136.5,192.8 440.4,158.5 394.9,232.4 537.1,208.1 455.7,159.7 151.3,242.1 305.6,237.6 261.6,234.2 581.1,206.7 404.5,222.7 331.5,177.0 586.6,208.1 508.4,157.0 607.0,206.3 567.1,157.6 113.8,246.4 536.9,158.9 312.2,233.6 535.4,206.6 256.8,185.8 452.7,163.8 147.8,247.9 533.9,209.9 221.0,237.0 591.8,207.7 466.4,221.8 94.4,186.3 617.0,150.3 268.1,230.3 610.5,156.7 477.3,219.3 439.2,165.5 610.8,155.7 125.4,247.1 474.1,159.8 288.4,179.7 257.7,248.3 356.8,174.4 625.7,152.6 218.8,193.5 535.2,209.5 580.1,159.4 175.9,191.1 373.6,166.1 532.1,162.1 624.5,155.5 386.0,223.3 89.9,244.1 640.9,210.8 476.8,164.7 216.4,243.5 322.1,239.1 485.5,212.3 243.8,240.7 208.9,243.7 634.1,210.0 572.7,159.7 429.7,162.6 109.8,243.0 197.6,238.2 363.0,223.4 277.1,181.6 329.5,231.5 423.6,229.7 470.1,220.6 313.2,178.5 382.1,223.6 160.2,192.0 330.4,172.5 101.4,241.1 495.7,160.6 537.7,207.3 360.3,168.6 205.9,237.1 444.3,219.8 572.7,208.7 178.7,192.8 621.1,202.2 309.4,237.3 338.6,228.3 120.3,191.2 202.6,238.8 86.0,243.1 180.3,194.3 434.3,156.7 79.3,246.4 558.1,208.0 553.6,156.7 110.5,243.3 157.4,194.2 173.0,245.3 92.1,188.1 230.3,234.6 631.1,154.1 249.4,232.7 452.7,153.1 377.4,228.9 407.4,219.5 287.1,231.6 359.7,172.0 107.4,188.4 519.3,158.7 310.5,241.1 631.0,206.0 324.3,236.6 565.5,210.7 242.0,187.5 341.0,229.0 349.2,231.5 580.0,157.6 522.3,156.8 579.4,159.9 587.1,158.3 189.9,190.1 377.9,223.6 320.2,176.5 515.3,162.7 390.4,167.2 255.1,185.4 529.5,209.2 198.1,237.3 603.9,208.7 636.0,215.6 506.0,159.0 140.2,191.7 208.9,189.7 106.3,245.6 363.6,167.1 310.0,233.9 108.0,190.1 128.5,194.0 150.4,191.8 346.6,237.9 246.5,187.2 371.4,172.5 556.3,159.4 264.8,240.3 352.7,230.0 441.8,159.0 467.0,156.0 418.4,166.2 290.3,237.2 408.2,170.9 269.3,180.0 444.5,160.7 494.5,211.0 595.8,206.0 327.5,235.5 151.1,193.5 367.6,172.3 446.5,214.9 355.4,230.3 296.8,237.9 136.5,248.3 356.1,168.4 505.9,163.6 621.8,152.8 290.8,230.8 339.7,228.1 300.7,177.7 96.3,241.8 325.4,171.8 357.0,172.8 413.2,219.3 402.3,165.0 293.3,231.0 333.1,238.2 447.4,220.9 471.0,216.5 367.1,169.9 480.0,164.4 158.0,242.4 429.4,163.6 577.9,149.1 459.1,164.7 448.7,214.5 454.1,158.0 495.7,154.1 303.6,239.9 638.3,157.6 538.8,209.9 165.9,242.7 311.8,171.2 275.9,237.4 147.0,189.9 591.9,159.4 453.9,163.2 262.9,233.3 366.8,163.9 423.5,226.8 377.8,229.8 341.1,171.0 498.9,163.2 523.9,156.4 226.1,189.5 250.1,234.3 98.6,185.1 619.1,155.7 306.4,236.1 637.8,148.8 443.0,165.9 520.9,157.1 321.5,175.6 477.8,156.9 329.0,229.5 206.7,242.0 302.8,240.1 460.2,164.3 298.4,179.8 460.2,159.3 533.5,158.0 428.3,161.6 484.7,211.5 371.2,169.3 534.9,159.6 541.1,213.3 429.2,222.3 153.1,193.5 426.6,165.6 528.0,151.9 601.8,155.5 333.1,231.7 299.7,178.9 425.0,222.7 377.4,227.5 567.3,152.3 253.4,241.1 612.0,157.6 532.3,155.3 620.4,155.0 274.2,233.8 479.0,152.2 371.6,165.4 486.5,217.9 623.0,153.2 516.3,149.7 558.9,158.9 181.5,243.8" fill="none" stroke="none" marker-start="url(#mb)" marker-mid="url(#mb)" marker-end="url(#mb)"/>
</g>
<polyline points="93.2,250.4 118.7,238.7 144.1,235.0 169.6,230.0 195.0,225.0 220.5,218.0 245.9,210.6 271.4,203.9 296.9,198.7 322.3,194.5 347.8,191.7 373.2,189.4 398.7,187.3 424.1,186.4 449.6,185.9 475.0,186.4 500.5,187.6 526.0,189.7 551.4,192.1 576.9,195.0 602.3,202.0 627.8,208.6" fill="none" stroke="#ff0000" stroke-width="2.6" stroke-linejoin="round"/>
<polyline points="93.2,259.0 118.7,251.1 144.1,239.9 169.6,225.0 195.0,216.0 220.5,210.0 245.9,207.0 271.4,205.0 296.9,204.5 322.3,203.9 347.8,203.4 373.2,202.0 398.7,200.4 424.1,200.2 449.6,199.9 475.0,199.5 500.5,198.8 526.0,197.8 551.4,196.9 576.9,195.4 602.3,198.3 627.8,195.0" fill="none" stroke="#00c800" stroke-width="2.6" stroke-linejoin="round"/>
<polyline points="93.2,216.1 118.7,218.4 144.1,219.6 169.6,218.4 195.0,218.1 220.5,217.3 245.9,216.0 271.4,214.4 296.9,212.0 322.3,209.0 347.8,206.2 373.2,202.7 398.7,199.2 424.1,195.7 449.6,192.2 475.0,189.2 500.5,186.4 526.0,183.8 551.4,182.1 576.9,180.5 602.3,179.4 627.8,178.6" fill="none" stroke="#0000ff" stroke-width="2.6" stroke-linejoin="round"/>
<line x1="55.0" y1="188.2" x2="666.3" y2="188.2" class="z"/>
<rect x="54.6" y="26.5" width="611.7" height="323.8" class="b"/>
<text x="51.4" y="366.0" text-anchor="middle">-60</text>
<text x="127.8" y="366.0" text-anchor="middle">-45</text>
<text x="204.2" y="366.0" text-anchor="middle">-30</text>
<text x="280.5" y="366.0" text-anchor="middle">-15</text>
<text x="360.5" y="366.0" text-anchor="middle">0</text>
<text x="436.9" y="366.0" text-anchor="middle">15</text>
<text x="513.2" y="366.0" text-anchor="middle">30</text>
<text x="589.6" y="366.0" text-anchor="middle">45</text>
<text x="666.0" y="366.0" text-anchor="middle">60</text>
<text x="52.6" y="356.2" text-anchor="end">-100</text>
<text x="52.6" y="275.2" text-anchor="end">-50</text>
<text x="52.6" y="194.2" text-anchor="end">0</text>
<text x="52.6" y="113.2" text-anchor="end">50</text>
<text x="52.6" y="32.2" text-anchor="end">100</text>
<text x="360.1" y="13.0" text-anchor="middle" class="tt">Residuals CSES data wrt. CHAOS-6-x8</text>
<text x="358.5" y="384.7" text-anchor="middle" style="font-size:16.4px">QD Latitude (degrees)</text>
<text transform="translate(13.6,189.9) rotate(-90)" text-anchor="middle" style="font-size:16.5px">Data residuals (nT)</text>
<rect x="629.3" y="29.2" width="34.5" height="61.2" class="lg"/>
<line x1="631.9" y1="39.6" x2="647.4" y2="39.6" stroke="#ff0000" stroke-width="2.4"/>
<text x="649.6" y="43.3" style="font-size:16.5px">N</text>
<line x1="631.9" y1="59.6" x2="647.4" y2="59.6" stroke="#00c800" stroke-width="2.4"/>
<text x="649.6" y="63.3" style="font-size:16.5px">E</text>
<line x1="631.9" y1="79.6" x2="647.4" y2="79.6" stroke="#0000ff" stroke-width="2.4"/>
<text x="649.6" y="83.3" style="font-size:16.5px">C</text>
<path d="M141.5 433V755.4" class="g"/>
<path d="M217.5 433V755.4" class="g"/>
<path d="M294.5 433V755.4" class="g"/>
<path d="M370.5 433V755.4" class="g"/>
<path d="M446.5 433V755.4" class="g"/>
<path d="M523.5 433V755.4" class="g"/>
<path d="M599.5 433V755.4" class="g"/>
<path d="M67 512.5H676.4" class="g"/>
<path d="M67 593.5H676.4" class="g"/>
<path d="M67 674.5H676.4" class="g"/>
<path d="M65.0 755.4v-6M65.0 431.6v6M141.5 755.4v-6M141.5 431.6v6M217.5 755.4v-6M217.5 431.6v6M294.5 755.4v-6M294.5 431.6v6M370.5 755.4v-6M370.5 431.6v6M446.5 755.4v-6M446.5 431.6v6M523.5 755.4v-6M523.5 431.6v6M599.5 755.4v-6M599.5 431.6v6M676.0 755.4v-6M676.0 431.6v6M65.2 755.5h6M676.4 755.5h-6M65.2 674.5h6M676.4 674.5h-6M65.2 593.5h6M676.4 593.5h-6M65.2 512.5h6M676.4 512.5h-6M65.2 431.5h6M676.4 431.5h-6" class="t"/>
<clipPath id="cb"><rect x="65.2" y="431.6" width="611.1999999999999" height="323.79999999999995"/></clipPath>
<g clip-path="url(#cb)">
<polyline points="91.7,565.0 231.3,571.4 332.6,582.3 636.1,553.5 136.8,585.6 260.7,575.8 189.1,573.2 342.4,583.2 258.4,583.1 599.1,579.2 610.4,563.4 374.9,576.0 320.2,576.2 568.3,569.2 427.4,581.3 102.2,579.6 314.4,576.6 282.9,581.9 512.0,579.2 518.3,579.6 391.0,583.0 135.5,578.9 635.5,570.6 147.6,574.9 250.9,577.4 265.6,582.3 557.1,582.2 360.2,576.9 204.3,579.4 370.2,582.6 225.1,580.3 192.8,566.4 214.5,581.6 208.4,585.9 639.0,578.7 558.0,580.5 523.2,559.7 223.3,577.6 407.0,577.1 130.8,578.3 401.0,581.4 233.2,569.5 459.4,579.0 216.0,583.2 351.4,575.1 163.4,566.7 191.6,575.3 173.4,583.7 600.4,574.4 103.7,575.2 144.0,578.2 253.3,580.3 310.6,577.7 347.4,574.5 379.5,574.1 99.5,537.7 189.6,586.9 407.1,574.9 431.3,573.9 106.9,578.3 483.9,576.2 278.7,579.4 573.3,574.3 322.3,581.4 127.6,578.8 589.4,567.8 568.8,575.3 152.9,563.4 263.6,575.5 263.6,577.7 565.8,553.3 369.6,584.4 240.3,584.6 174.6,579.4 152.3,576.9 224.9,583.7 552.6,557.3 291.6,576.2 477.4,567.2 522.8,582.8 167.6,579.4 158.8,568.8 570.1,562.1 90.1,575.7 623.8,563.3 157.5,578.8 106.6,560.9 563.2,575.9 182.6,571.3 226.5,576.0 290.5,577.3 344.2,584.7 527.5,570.4 611.7,572.2 508.5,570.5 185.1,580.6 495.6,565.7 429.1,570.8 318.0,582.7 228.8,583.5 473.1,576.5 594.1,582.0 468.2,583.4 518.8,565.0 608.1,579.8 484.2,570.2 212.1,574.1 442.9,577.3 174.2,578.1 481.5,571.0 211.7,580.3 495.9,577.1 283.3,580.1 464.9,581.3 122.3,578.8 130.6,583.9 303.3,574.6 471.2,571.3 540.4,571.9 580.2,559.7 96.7,541.9 562.5,563.0 209.5,575.1 221.0,582.8 550.5,578.9 176.9,574.0 273.6,578.5 422.7,581.8 612.3,572.0 131.5,561.4 301.9,577.8 650.9,569.7 174.1,581.5 125.9,576.1 179.7,581.6 243.3,581.9 135.5,580.8 547.4,573.6 237.5,582.8 100.4,573.5 533.3,569.8 397.7,574.8 158.0,581.5 406.0,568.2 539.7,578.5 611.4,551.4 92.2,579.5 152.5,574.6 377.8,572.7 562.4,567.8 354.5,579.0 232.0,581.4 374.6,580.4 537.9,568.7 126.7,573.4 502.0,577.8 489.9,577.9 492.6,580.6 116.0,574.0 147.5,582.2 96.0,567.2 101.9,572.4 279.6,584.7 225.6,576.8 637.6,565.2 271.1,579.1 513.5,568.1 595.1,577.7 117.7,578.5 138.4,576.3 92.4,573.8 123.0,581.3 565.1,576.8 421.5,569.1 281.9,578.7 376.2,580.5 182.7,581.9 455.6,578.5 595.8,572.2 193.4,575.3 512.8,583.7 497.0,576.1 500.6,572.2 604.8,579.1 337.5,581.2 391.3,576.9 605.7,571.2 274.9,583.6 550.8,562.3 513.8,578.9 515.4,581.0 220.1,584.8 630.1,579.8 109.6,573.3 564.1,554.0 97.9,561.8 610.1,555.8 346.2,581.3 353.2,573.5 122.2,568.0 366.5,584.8 366.4,579.7 208.3,578.3 340.8,577.3 107.8,566.4 108.5,573.8 478.0,579.0 645.6,568.8 381.5,581.1 437.3,581.8 169.8,583.6 328.6,572.1 201.7,584.2 156.8,578.2 595.1,578.6 131.6,563.4 483.5,567.2 181.3,583.7 98.3,565.4 190.0,583.5 367.2,576.9 635.9,565.1 136.5,568.1 241.2,581.0 254.2,577.7 257.5,579.7 581.4,580.2 436.3,576.6 547.6,556.9 287.4,574.1 102.1,564.8 166.3,580.1 112.2,574.5 212.0,582.9 156.2,559.7 489.8,569.2 318.1,583.1 128.1,571.4 91.8,571.5 344.1,576.3 634.3,578.3 154.2,566.3 602.3,570.1 245.0,580.0 168.0,578.0 582.4,563.0 626.6,563.3 380.2,577.0 362.2,580.6 225.4,578.2 512.0,571.2 256.5,571.5 590.3,565.9 421.3,570.0 168.8,576.3 138.6,569.8 428.1,567.9 171.5,575.5 93.1,568.8 180.2,579.0 152.0,575.5 465.3,578.4 165.9,572.7 243.2,583.7 169.2,569.2 352.1,585.8 485.2,575.7 125.3,573.5 157.9,574.8 251.2,574.1 329.4,582.8 617.4,568.1 532.1,571.3 230.4,582.4 384.6,578.5 437.4,578.6 476.9,584.1 286.3,580.8 252.5,577.8 289.9,581.8 188.9,574.4 429.4,584.4 94.5,570.3 283.4,581.9 104.8,573.7 436.1,574.5 492.1,581.9 96.5,579.5 313.4,581.2 161.3,573.8 253.4,575.9 116.9,567.0 105.2,579.3 242.5,577.6 493.1,578.2 468.1,578.5 200.6,576.8 459.6,575.2 599.3,570.4 327.4,573.8 95.4,538.8 131.2,551.3 238.2,577.6 162.6,573.1 372.5,581.0 546.6,571.2 549.7,580.0 413.6,573.1 294.1,577.5 166.5,577.0 165.3,583.9 132.9,574.5 137.2,577.2 203.8,582.1 611.0,575.5 165.3,574.4 499.6,563.9 181.8,575.4 139.8,580.3 90.2,573.0 95.0,552.8 563.7,580.8 492.2,575.6 596.7,577.3 619.5,575.7 220.3,583.0 458.6,582.1 608.5,577.2 286.6,584.2 645.4,572.0 130.0,582.0 226.1,581.4 218.2,583.5 207.4,573.5 222.2,576.5 214.5,579.7 239.4,580.3 443.1,577.6 381.7,580.2 158.1,567.2 122.1,581.6 335.9,581.7 531.5,580.9 158.4,579.5 401.5,576.4 529.3,575.2 169.4,585.8 248.2,577.3 599.2,553.8 109.4,571.3 105.9,566.4 273.0,577.5 279.5,585.6 119.2,575.9 633.6,569.3 202.7,584.9 448.4,566.8 370.6,577.0 126.1,547.6 153.1,578.5 325.9,581.4 579.8,556.2 607.7,566.5 511.8,569.2 634.0,577.4 256.4,580.2 252.4,579.1 328.4,583.3 139.5,568.8 475.2,570.7 165.9,577.0 382.0,584.6 599.3,575.2 186.8,580.6 471.6,576.2 429.2,581.3 339.9,580.9 334.1,581.6 125.3,574.4 138.1,559.7 206.2,581.4 546.6,561.8 121.8,573.7 92.7,576.9 438.7,581.7 585.9,579.5 429.7,577.7 134.0,584.8 144.2,576.8 385.7,581.9 274.9,580.2 326.7,582.6 558.2,559.3 542.2,571.2 523.3,568.9 129.2,566.6 192.3,584.6 294.6,576.4 166.3,578.6 295.8,582.5 225.7,582.1 175.0,583.0 141.9,580.5 141.7,581.0 139.5,582.7 382.0,573.9 135.5,568.0 579.5,578.7 408.9,576.6 538.5,581.5 564.6,570.5 447.1,582.9 451.9,568.6 146.9,576.3 166.8,579.3 558.4,576.0 543.3,581.8 234.0,585.9 92.4,583.7 384.1,575.3 477.4,565.5 565.9,558.5 96.3,545.7 229.4,584.1 597.0,571.9 144.0,581.6 133.8,573.0 116.4,569.8 621.9,580.8 550.3,559.1 136.4,563.0 431.5,580.6 171.7,581.3 238.7,583.8 344.8,577.1 190.7,584.0 136.3,576.6 267.2,579.9 358.0,577.2 168.6,582.0 510.5,569.3 131.2,577.8 576.4,567.7 255.7,574.1 439.2,579.1 303.3,585.6 354.6,576.3 480.1,565.5 499.7,568.2 419.5,576.0 165.0,583.2 512.6,560.7 453.3,571.6 424.7,579.5 413.5,572.3 628.0,579.4 266.5,583.5 178.7,580.2 138.9,581.8 621.4,563.6 290.5,585.4 196.5,583.6 394.4,585.0 144.3,580.2 554.9,562.9 353.1,580.1 215.3,579.6 417.5,584.4 598.4,561.5 168.6,573.0 416.4,575.8 150.5,572.5 271.8,581.2 498.6,576.8 186.1,583.7 194.0,583.6 154.1,576.2 117.2,556.2 156.1,582.2 599.3,565.8 185.4,574.4 231.0,578.3 255.2,583.9 157.8,571.8 217.1,573.4 526.9,581.9 486.4,582.0 126.7,563.4 174.1,568.4 482.6,580.4 587.1,568.0 475.6,564.3 546.2,577.3 355.8,578.3 502.1,569.7 108.5,538.9 486.2,576.1 204.7,569.2 273.8,574.6 433.9,583.8 165.9,584.1 613.4,563.1 522.2,576.4 198.9,576.7 114.8,570.9 406.3,580.8 530.4,577.2 462.5,581.5 172.8,568.4 553.3,554.6 89.4,574.9 198.8,582.6 278.3,581.7 308.7,575.3 148.1,560.4 122.3,574.7 297.0,576.8 250.5,579.1 615.7,554.4 474.8,570.2 288.9,581.4 255.7,586.5 201.6,581.0 328.2,576.7 343.4,580.5 219.1,580.5 112.2,576.4 315.0,578.4 195.1,581.7 349.1,583.4 639.0,576.0 409.7,577.2 159.1,577.6 273.3,582.4 372.0,575.7 294.6,582.9 450.8,566.8 564.7,580.9 172.6,570.5 192.0,575.1 205.3,583.6 235.8,574.1 513.6,573.4 188.8,585.2 132.4,582.2 202.0,575.1 119.3,569.4 490.4,569.4 235.6,578.4 343.8,574.1 604.7,559.3 279.6,579.1 380.4,580.6 621.0,569.2 637.8,568.8 507.5,575.2 305.9,578.5 106.4,581.4 139.0,567.7 158.1,577.6 149.6,568.0 304.4,585.4 128.1,568.7 152.9,577.3 392.7,576.9 355.2,576.1 123.4,568.2 139.4,578.0 175.9,579.9 453.4,573.2 333.2,583.9 293.4,577.4 295.2,574.5 121.6,572.7 110.1,581.9 323.1,584.8 582.3,577.0 529.7,580.2 180.4,577.0 214.1,580.4 263.2,576.5 368.9,579.1 150.4,573.8 608.1,573.3 495.2,580.5 347.3,581.2 228.2,571.5 367.7,571.0 335.8,578.2 193.3,581.1 99.7,573.1 324.2,578.5 589.2,572.9 636.5,570.9 231.4,582.8 114.4,563.6 597.5,572.5 362.0,576.9 205.2,582.0 99.5,576.9 618.0,574.2 635.0,581.5 163.2,558.1 460.4,584.5 536.8,580.1 617.7,572.0 637.0,569.9 551.8,583.7 115.1,570.4 199.0,572.7 261.1,583.0 418.4,582.6 217.0,584.1 276.7,584.8 570.0,573.4 359.2,583.1 559.9,578.2 572.0,577.3 588.4,576.1 247.2,573.0 213.6,576.8 364.6,574.4 133.2,555.2 413.6,576.1 515.8,569.9 468.0,568.4 560.7,580.9 227.3,586.1 224.2,584.9 455.5,564.9 476.0,573.4 208.9,583.0 230.4,586.6 632.3,574.2 455.0,576.1 215.9,585.6 443.5,576.9 587.0,556.5 213.9,577.6 90.4,574.0 312.9,575.6 234.7,577.9 229.7,581.7 116.2,556.8 89.0,578.3 124.5,571.2 278.6,577.6 148.0,559.0 403.7,575.8 167.3,575.1 565.9,569.6 111.4,568.5 148.3,574.4 469.9,575.6 224.5,581.3 155.7,582.7 111.4,579.1 293.5,578.7 622.7,553.0 129.7,573.6 506.1,572.0 337.6,584.0 105.2,578.8 313.8,578.6 103.5,565.6 93.7,571.6 544.8,568.1 603.9,577.6 428.0,574.8 335.3,575.1 129.9,569.5 272.3,580.6 524.6,577.0 360.2,585.5 469.7,582.1 630.7,578.5 396.7,577.0 159.6,585.7 193.1,578.6 603.8,572.8 155.9,581.4 129.6,571.6 487.7,583.3 100.9,560.0 183.6,576.1 539.2,564.2 386.7,575.3 429.2,573.3 183.9,574.1 379.3,578.8 463.6,577.9 646.5,579.2 189.9,577.2 444.2,580.4 596.6,576.7 612.8,565.4 178.9,582.3 598.2,573.8 538.9,571.0 260.5,580.3 139.9,558.0 141.8,551.4 392.9,573.7 521.9,571.6 278.1,569.3 625.2,577.8 645.0,554.9 116.3,575.0 551.3,580.6 111.5,577.3 507.0,579.8 361.2,577.8 537.6,567.0 95.3,580.1 201.4,582.7 408.8,578.5 102.8,570.6 511.6,568.0 116.7,570.8 405.9,573.9 534.6,566.2 249.6,585.6 354.1,581.9 453.4,580.9 98.1,568.8 135.0,578.2 448.7,572.3 166.0,575.7 108.6,580.4 521.5,575.5 575.5,574.4 602.4,579.2 127.3,572.0 644.6,573.7 207.2,567.1 137.0,575.2 104.1,580.1 319.1,575.1 496.5,566.3 161.6,581.5 124.9,567.5 269.4,578.5 189.8,582.0 624.3,580.0 117.3,566.1 296.5,575.5 485.0,570.2 130.6,583.0 390.5,578.5 494.2,582.5 614.6,571.0 151.2,577.5 215.2,583.6 225.5,584.7 304.7,580.7 389.1,581.1 498.7,568.1 213.9,569.4 581.3,565.7 255.3,584.5 496.4,583.8 162.2,582.8 436.5,578.1 105.4,571.1 526.9,568.0 299.7,583.7 374.0,574.4 157.0,573.9 93.2,560.1 471.9,573.4 583.3,573.7 133.0,578.4 431.4,578.2 578.8,560.8 160.6,563.6 648.8,578.3 560.9,570.6 360.4,574.1 182.5,582.2 235.0,586.3 566.2,564.3 145.3,553.1 120.0,564.0 135.4,573.2 619.1,555.8 357.1,583.2 554.8,575.4 262.9,578.7 202.4,587.0 146.7,573.6 172.9,586.3 455.6,573.4 614.3,561.0 620.5,560.7 623.4,570.3 607.0,561.7 240.3,583.4 336.7,580.7 124.5,580.5 427.1,584.7 565.7,578.0 122.2,577.4 646.8,570.5 552.4,573.3 423.9,571.1 524.6,583.7 154.5,577.4 513.7,582.5 438.2,574.3 283.0,578.5 616.3,573.4 357.1,581.3 539.7,575.0 109.6,570.6 120.4,574.7 188.2,607.6 332.4,608.9 282.3,607.2 390.1,605.2 212.7,612.8 258.1,612.0 324.7,608.4 316.7,601.8 456.2,611.7 455.5,607.7 212.0,606.1 370.8,611.0 270.9,605.1 297.1,608.6 251.7,608.0 255.0,603.7 285.3,605.0 339.2,608.0 502.3,606.5 189.3,610.9 243.2,609.5 273.7,610.4 234.3,608.7 267.5,603.9 212.6,603.9 396.2,607.4 523.9,605.7 329.1,613.4 468.0,609.9 457.2,606.0 453.6,608.4 224.6,606.3 361.0,611.6 361.0,607.4 368.5,601.8 214.7,619.8 575.1,603.9 253.6,612.3 402.1,604.1 381.9,604.6 363.3,615.8 418.4,603.7 450.7,602.1 534.0,602.4 217.7,613.2 444.1,609.8 377.2,612.2 307.9,601.3 361.9,610.8 432.2,608.2 542.4,602.7 341.7,609.2 415.5,604.6 296.0,603.4 185.0,611.9 346.3,611.8 276.6,605.8 527.1,603.4 359.9,602.6 503.0,601.1 289.2,611.8 397.2,607.0 371.3,602.5 430.8,601.2 249.8,610.9 247.6,611.5 305.8,605.5 481.7,610.5 334.4,616.7 334.2,603.7 561.8,605.2 463.5,612.7 264.2,616.4 502.7,600.8 442.5,610.2 333.6,612.4 317.5,607.8 505.6,605.9 290.9,611.1 188.3,611.8 358.4,613.5 494.0,604.9 159.3,605.4 382.8,611.0 505.0,607.5 380.6,609.9 194.0,610.4 167.4,608.3 206.3,608.0 281.5,604.9 206.5,615.7 267.7,613.9 208.2,604.6 460.3,605.2 383.0,601.1 253.8,610.0 432.0,605.1 397.6,612.4 322.8,607.4 172.8,614.7 458.3,604.5 251.6,606.0 222.1,616.3 416.6,611.2 273.0,606.9 287.8,609.3 369.6,603.6 433.2,608.7 384.9,603.1 300.3,603.3 345.9,601.6 305.3,603.4 383.7,612.4 596.9,604.0 356.8,607.6 340.5,604.4 426.7,605.5 399.0,602.1 266.7,609.7 327.0,603.4 287.4,606.1 351.1,607.9 385.9,600.9 443.9,608.3 239.2,612.6 158.2,605.6 357.5,606.0 314.1,608.1 417.0,609.6 169.2,609.5 210.3,607.5 381.1,602.3 473.3,602.9 322.7,610.1 495.7,607.6 275.8,609.6 198.0,616.2 223.0,607.4 350.4,605.8 512.5,610.0 187.1,617.8 448.1,612.6 385.7,610.9 205.4,618.5 499.5,602.4 316.0,609.6 406.1,606.2 617.1,602.4 346.2,606.6 388.0,605.7 306.5,606.2 238.7,617.5 188.5,614.6 343.4,609.5 299.7,612.6 504.4,605.6 205.4,605.5 157.0,604.1 289.9,602.2 265.6,610.6 491.4,613.1 215.7,603.5 292.3,606.4 240.2,607.1 455.4,609.9 220.3,606.1 526.0,605.8 165.2,605.1 499.4,607.6 376.9,604.5 229.8,611.5 333.7,604.7 249.4,603.2 246.8,614.7 316.8,613.0 290.8,609.3 205.7,604.1 226.4,602.3 225.4,605.2 267.2,611.8 302.1,606.8 283.3,604.3 539.5,604.6 308.2,607.4 528.8,601.2 314.3,605.2 418.9,606.1 385.3,603.0 279.3,613.0 509.3,604.3 293.8,605.5 417.8,611.0 474.3,603.1 446.0,606.4 243.2,607.8 482.7,602.6 433.4,611.8 259.9,612.5 210.3,612.4 245.1,614.2 392.0,603.4 304.0,603.7 335.5,608.4 307.3,604.5 401.6,613.0 400.9,603.7 417.4,607.4 406.6,612.3 303.8,610.4 257.1,608.9 346.8,612.4 209.3,612.2 453.5,607.9 437.3,604.5 243.7,616.2 420.9,602.8 342.0,607.4 315.6,605.5 265.1,604.5 200.7,608.7 251.4,611.5 306.0,618.0 206.4,605.9 243.5,610.5 400.6,610.4 304.3,611.0 244.1,607.9 224.8,614.4 523.4,607.4 435.2,604.0 480.0,605.2 290.5,606.5 274.8,604.2 503.3,600.7 481.9,609.1 363.0,606.1 521.8,604.3 477.9,608.0 275.5,604.0 367.2,609.8 326.4,611.8 254.3,606.2 242.2,606.9 491.8,604.7 231.7,605.9 338.0,602.1 493.3,604.8 232.7,609.7 491.1,603.6 419.5,610.7 294.8,601.9 188.0,607.7 233.4,605.9 330.9,616.1 463.3,605.4 313.6,612.2 501.0,602.4 242.3,607.6 362.0,605.8 300.9,609.7 472.3,606.9 402.9,602.1 174.8,603.3 468.4,603.5 196.1,609.3 402.5,611.7 424.6,605.6 326.0,601.9 182.7,610.2 496.2,608.8 272.2,609.3 323.8,616.9 503.6,613.6 429.0,608.3 431.7,603.4 233.5,607.9 269.8,613.0 223.4,612.3 179.0,613.8 441.7,611.9 499.3,603.0 239.5,605.6 571.9,604.4 369.7,610.2 319.6,603.2 417.4,614.5 374.2,609.1 328.2,605.8 169.6,607.5 334.1,606.7 469.1,611.0 199.3,605.7 264.9,610.8 283.9,603.2 430.7,603.2 304.6,615.3 169.3,612.7 266.4,602.9 440.7,602.6 362.0,606.6 362.0,601.5 432.3,604.8 220.6,609.6 498.6,610.6 438.9,602.9 403.1,602.3 447.9,607.3 328.4,610.0 437.9,602.7 203.4,609.3 215.3,605.1 190.2,610.1 420.9,609.8 531.1,609.5 344.2,609.3 409.1,606.9 457.2,606.8 236.6,602.8 452.6,605.7 238.6,606.9 467.7,601.5 474.0,610.7 400.2,607.0 343.0,610.5 468.6,606.8 285.5,603.7 202.4,605.7 338.8,610.1 281.9,602.6 246.3,606.0 224.5,618.2 358.7,602.6 344.5,602.5 324.8,610.5 330.0,603.8 329.9,606.6 283.4,611.8 332.5,612.4 211.4,605.6 321.4,610.1 444.2,604.9 276.6,613.0 399.2,611.7 290.7,612.6 357.9,615.0 304.8,609.6 392.9,606.2 170.1,607.9 196.9,607.7 361.8,615.4 483.2,603.6 453.9,609.2 414.1,606.0 465.0,606.6 375.8,606.9 396.2,611.5 345.2,609.3 242.2,609.8 278.3,609.8 401.0,600.9 198.1,608.2 203.2,612.3 235.4,607.0 352.7,606.7 415.4,606.9 445.6,606.6 222.8,617.3 351.0,602.5 467.9,606.0 571.2,605.1 233.3,613.3 412.4,608.0 363.3,605.5 325.3,611.3 452.5,603.4 538.4,601.5 366.7,604.1 475.4,601.0 373.3,609.5 333.4,613.1 239.5,602.9 436.0,604.8 259.4,616.9 533.3,608.9 264.8,602.8 353.8,611.2 200.2,611.9 158.0,606.5 366.7,605.0 184.8,611.2 262.8,614.4 402.3,615.3 416.1,613.3 303.6,605.7 394.5,608.2 535.5,608.0 356.8,610.3 597.9,543.0 604.1,540.8 552.8,555.7 642.8,533.0 547.0,556.9 579.4,548.3 572.2,551.6 540.0,559.2 617.4,538.9 585.4,545.8 559.1,554.2 610.9,539.0 527.8,561.2 590.9,545.1 533.4,558.5 648.2,529.1 520.6,563.8 565.7,550.9 623.1,535.3 492.9,559.6 507.0,555.0 500.8,557.1 514.6,553.3 480.3,562.0 486.7,559.1" fill="none" stroke="none" marker-start="url(#mr)" marker-mid="url(#mr)" marker-end="url(#mr)"/>
<polyline points="164.8,613.1 137.4,610.7 101.7,610.7 239.4,611.8 130.4,616.0 577.2,603.4 187.6,614.7 399.3,600.1 198.7,608.3 237.2,606.8 505.4,608.5 201.1,609.3 274.5,608.8 153.7,604.3 97.1,613.9 270.5,606.3 134.8,607.4 205.7,611.8 171.1,615.2 264.7,602.2 334.3,603.9 310.5,600.3 600.6,599.4 354.5,603.1 126.3,611.2 143.8,606.2 323.5,606.5 146.9,627.1 539.1,603.6 188.9,604.3 210.8,604.1 166.1,617.9 268.1,606.9 98.5,610.0 89.7,610.8 210.3,607.2 341.2,602.3 604.3,601.1 208.1,621.3 197.1,614.1 141.8,605.9 116.3,606.4 193.8,608.7 298.0,606.4 167.4,608.1 160.1,617.2 308.2,606.3 430.7,605.6 96.5,618.4 271.2,606.4 287.7,600.7 344.8,608.8 177.0,614.7 617.7,600.9 366.1,608.6 137.3,615.1 98.5,612.4 480.0,606.5 574.2,606.8 503.5,605.0 141.2,616.4 243.3,608.3 522.5,600.1 186.5,607.2 120.6,604.5 104.9,613.7 277.7,604.2 261.4,599.8 154.4,603.2 157.5,600.7 282.7,599.5 165.2,602.6 114.1,615.9 511.7,599.2 282.3,604.3 89.9,623.4 326.3,604.4 418.6,601.0 134.4,625.8 283.1,605.2 374.5,600.9 272.0,610.5 574.4,607.1 309.4,602.7 254.2,607.1 215.7,612.9 92.8,617.5 135.0,605.1 119.5,611.9 136.9,604.0 115.6,604.2 120.8,609.5 137.5,602.0 473.3,602.7 176.2,613.2 126.7,610.0 298.4,604.0 535.4,601.7 335.8,604.1 346.6,602.4 376.1,607.4 176.8,606.6 263.1,603.8 119.0,630.5 194.4,609.5 109.4,600.3 110.0,616.2 378.1,605.7 531.6,601.2 180.3,610.7 258.7,610.1 459.4,600.8 93.5,608.4 281.8,600.5 92.5,609.8 150.3,609.7 332.2,608.4 385.7,605.3 126.4,607.8 223.0,618.5 109.1,605.4 162.7,621.0 579.4,600.5 161.2,618.1 290.7,609.6 132.1,619.8 162.9,618.9 426.4,600.6 383.0,602.1 409.9,600.8 279.5,609.4 345.1,607.6 194.7,606.7 115.6,605.2 106.2,614.9 138.1,603.4 242.7,606.4 346.7,606.9 609.4,607.6 254.6,609.2 127.9,613.6 469.8,598.8 612.8,600.1 131.3,609.3 187.9,607.2 179.2,611.4 127.2,602.2 152.3,614.8 191.2,607.7 118.1,609.2 218.2,610.8 255.8,618.8 368.5,605.9 520.0,604.0 540.7,600.6 275.9,616.2 406.3,605.1 564.4,602.5 158.9,604.5 135.4,620.4 93.9,609.6 206.8,607.3 461.8,605.9 274.4,612.6 302.2,609.0 225.6,608.6 497.5,604.2 577.8,607.3 150.0,617.4 391.6,602.8 138.9,612.6 324.6,605.5 556.7,602.4 102.3,617.7 173.8,609.7 223.3,600.5 98.5,619.9 419.5,604.8 463.0,602.7 271.3,612.7 182.5,606.3 89.4,624.7 593.7,600.2 309.6,603.1 224.7,606.2 257.0,608.8 582.7,600.2 113.1,609.9 97.2,604.3 403.1,603.4 114.4,613.0 90.1,612.7 351.1,602.5 332.9,611.3 289.1,602.8 623.4,603.7 141.3,608.1 316.3,605.6 232.8,621.1 100.0,622.7 455.1,602.3 116.9,611.1 413.0,600.9 360.2,604.1 101.9,605.9 198.8,610.7 135.0,604.5 161.7,604.0 111.2,605.9 150.8,607.0 189.2,610.2 481.3,604.8 597.1,609.0 529.5,608.3 360.7,600.3 164.9,611.0 428.8,600.8 184.2,606.1 609.9,599.4 280.8,605.5 95.7,619.2 162.2,611.1 589.2,604.4 585.6,609.5 274.4,605.8 223.0,608.4 107.1,608.0 305.3,608.1 425.7,600.6 169.8,614.1 568.0,603.8 246.2,611.7 189.9,601.5 414.3,600.7 177.0,617.5 221.1,604.0 201.0,612.9 100.7,609.0 427.7,605.7 325.4,614.5 401.4,599.0 600.2,603.1 435.4,607.0 534.6,606.6 238.4,603.8 582.1,603.6 322.7,607.2 496.7,599.1 307.0,606.6 92.0,623.8 153.2,603.0 367.6,599.4 97.0,603.8 216.3,601.0 90.9,620.1 158.5,611.8 203.3,612.9 136.4,613.3 440.7,601.7 303.3,606.5 251.5,609.2 101.8,621.2 600.4,604.1 100.1,618.1 513.9,606.3 161.1,615.9 138.7,628.8 256.1,612.9 544.7,604.9 633.7,607.0 121.0,614.1 261.5,605.8 490.0,602.9 150.1,611.9 306.0,605.2 207.2,604.3 197.9,612.4 151.4,610.0 123.5,613.8 148.2,618.9 481.8,601.1 122.6,604.1 105.4,613.9 209.5,603.6 201.9,610.7 449.1,602.1 132.6,601.6 253.8,601.4 644.6,606.4 330.3,611.6 330.5,599.3 283.3,601.8 147.2,608.5 314.5,607.2 223.9,605.1 488.5,605.6 557.8,602.2 256.9,610.1 635.8,604.1 100.4,614.7 136.6,610.0 121.4,615.6 91.9,610.4 289.3,612.6 150.2,604.9 228.5,603.8 539.0,605.6 206.1,617.4 93.9,610.3 176.4,607.5 89.6,627.0 108.9,617.4 250.6,605.2 387.9,601.2 162.2,603.2 138.3,614.5 250.2,602.2 105.5,622.7 172.0,612.0 101.2,611.4 102.0,602.9 108.1,618.6 374.9,611.5 357.7,605.7 297.9,602.6 215.2,617.2 130.0,617.6 360.3,602.8 236.5,600.4 144.9,619.7 95.5,609.1 107.4,603.5 235.4,601.3 97.0,608.1 155.4,610.8 334.3,608.4 204.0,607.6 224.3,610.0 108.6,607.7 124.1,608.7 174.1,613.0 347.6,602.0 197.5,619.0 562.8,602.3 148.2,613.0 304.2,601.7 436.0,601.9 230.7,619.4 317.1,611.4 370.3,604.8 144.3,612.2 336.2,607.6 322.4,610.0 91.4,609.7 182.9,613.1 104.8,634.8 511.9,607.5 96.8,616.1 508.5,609.7 607.1,609.0 356.1,609.6 398.9,602.5 264.6,609.4 100.6,616.8 489.7,603.0 110.9,606.4 112.1,605.2 190.2,610.6 145.6,618.5 224.7,603.1 387.3,599.6 144.7,609.8 321.7,603.8 362.4,602.3 183.9,616.9 323.8,602.9 192.3,614.1 94.7,626.3 127.6,611.6 474.6,604.8 108.0,614.4 182.9,603.5 331.7,610.3 433.8,607.4 98.1,603.7 227.1,602.3 180.9,608.1 249.5,608.7 327.8,604.2 130.8,605.6 559.5,602.4 107.9,616.8 349.0,600.6 317.4,602.4 395.1,602.2 134.5,603.3 337.0,606.0 285.9,609.7 222.4,613.0 227.2,608.9 226.6,600.6 299.5,606.0 191.3,617.5 94.9,616.0 477.4,603.7 268.4,604.1 343.7,611.2 610.9,598.2 334.3,605.5 291.4,604.1 219.1,606.8 111.4,607.0 140.3,610.0 363.3,610.0 92.5,626.6 583.7,603.7 228.1,606.2 583.0,600.5 174.5,601.2 112.0,607.0 89.0,606.9 643.8,602.8 166.5,608.3 90.6,603.1 187.9,603.2 248.5,601.5 213.3,613.1 232.6,606.8 96.6,611.3 209.3,609.3 139.0,620.0 290.1,602.0 635.9,599.3 250.6,606.7 322.1,613.5 355.7,606.3 146.8,614.7 573.8,600.5 184.9,614.6 160.6,603.6 489.1,604.3 271.8,605.3 431.5,602.9 119.1,604.4 363.8,606.5 334.1,602.2 188.1,603.0 110.4,605.6 175.1,610.1 237.3,604.9 630.5,608.8 108.8,608.9 164.2,604.7 210.5,612.1 95.4,607.8 415.7,604.1 248.4,614.2 128.9,607.9 357.3,598.9 221.0,614.8 99.5,626.4 144.5,614.9 177.8,605.6 258.4,600.4 405.4,606.4 529.7,607.4 162.1,606.4 517.4,607.1 442.1,604.8 181.8,611.5 188.6,620.9 407.1,604.0 136.4,623.1 251.8,602.1 131.7,604.5 238.0,610.6 115.5,606.4 266.9,619.4 196.5,612.0 197.2,602.2 289.9,614.9 147.1,605.7 415.7,602.2 259.7,609.9 248.6,606.4 214.8,603.7 166.2,607.8 96.3,607.8 127.7,630.9 96.8,637.0 180.5,607.4 604.4,600.4 166.5,603.5 215.6,601.4 215.5,610.9 431.7,600.4 497.9,603.9 198.4,613.6 109.9,603.2 521.2,606.1 208.4,607.8 217.7,617.1 127.6,614.6 346.8,605.0 117.3,614.1 288.7,608.4 521.5,599.7 193.3,606.1 422.5,600.6 215.7,605.9 523.5,603.3 237.3,608.8 156.9,607.5 120.4,619.3 109.8,617.1 92.7,605.5 301.0,609.2 166.4,614.5 118.9,611.2 218.3,608.9 198.8,616.5 196.3,615.1 105.4,609.5 173.7,602.8 160.4,615.8 104.7,614.6 308.3,602.2 298.8,618.9 117.1,610.0 178.3,607.8 224.4,616.9 422.5,606.6 111.7,612.8 223.1,614.8 245.0,607.0 589.4,599.5 114.2,624.7 244.2,614.8 475.7,604.0 239.3,599.5 245.9,604.7 299.3,602.6 121.4,618.6 142.6,610.0 93.9,600.6 282.8,602.2 158.9,620.8 89.8,611.5 348.7,604.8 186.9,622.7 212.2,605.0 108.5,627.0 90.1,611.7 234.4,601.9 118.6,616.6 173.5,606.1 222.9,602.9 324.9,604.6 476.0,601.9 350.5,599.8 499.1,605.7 250.4,610.6 328.9,610.1 116.5,605.5 353.0,611.7 157.4,612.3 100.5,605.3 526.2,602.2 365.0,605.7 105.0,605.5 416.0,608.6 379.1,599.4 119.7,608.4 95.9,612.2 125.2,602.5 227.8,609.0 142.3,602.6 210.0,605.4 146.9,607.0 443.8,600.0 580.8,602.9 111.1,611.1 202.3,608.6 177.3,609.6 130.8,611.6 175.7,609.0 144.1,622.4 317.1,607.5 199.1,614.0 290.5,615.8 340.1,602.1 297.5,600.0 644.7,603.0 232.4,605.7 145.5,602.0 193.7,612.1 132.5,610.1 198.2,607.5 112.8,613.0 134.8,631.5 195.3,612.8 164.0,608.4 295.5,607.8 285.8,610.9 274.9,601.0 139.3,612.7 99.0,611.3 179.9,604.5 116.9,607.9 323.8,603.8 252.2,610.1 186.7,600.4 210.0,601.8 164.4,609.2 174.0,610.5 250.6,611.6 414.2,602.5 206.2,605.0 547.0,603.5 102.5,606.4 111.9,623.5 244.4,604.0 201.5,602.9 211.2,602.3 175.8,611.9 116.6,635.4 146.1,612.3 228.4,607.3 102.9,633.6 262.0,615.1 256.6,615.1 258.8,605.0 534.4,607.7 196.8,618.3 235.9,606.0 115.6,627.5 90.5,607.9 477.9,605.2 379.9,604.5 216.7,605.9 576.9,605.2 211.1,612.0 444.0,601.0 216.2,608.6 166.1,602.4 148.2,617.0 151.2,608.1 194.0,613.8 376.7,603.6 103.8,613.8 141.9,611.3 220.5,605.5 438.1,603.3 614.1,604.0 327.1,606.8 145.6,625.3 506.5,603.7 560.5,609.4 137.0,604.6 228.3,617.2 550.7,607.0 191.5,606.6 306.0,601.8 266.4,603.5 416.2,600.1 118.3,612.6 478.4,607.5 125.8,611.8 116.4,626.0 268.0,613.7 384.0,603.5 271.5,614.0 161.6,611.4 268.9,609.0 428.2,606.1 339.7,610.6 141.8,615.1 177.0,605.1 105.7,612.9 247.2,604.6 365.9,604.7 93.3,607.9 128.9,611.3 114.8,616.4 543.1,603.9 600.1,602.7 260.3,607.9 91.4,618.3 304.6,606.4 286.9,606.8 264.6,617.4 263.3,608.3 379.7,602.2 574.2,605.4 328.8,598.4 196.9,611.7 107.1,610.0 241.5,609.0 427.8,602.6 132.9,615.9 463.4,601.3 152.8,610.1 372.5,605.1 148.8,611.1 544.1,602.2 299.2,610.2 259.4,604.1 568.0,600.3 274.9,613.2 523.4,608.2 326.5,601.8 186.9,618.0 177.1,616.9 96.8,603.3 137.3,608.5 599.5,605.8 376.0,604.9 187.9,615.2 290.3,614.5 150.8,605.5 255.3,609.4 386.9,604.4 354.8,600.2 269.0,609.5 190.3,617.6 101.0,606.8 193.0,609.0 91.5,607.2 452.6,602.6 214.7,606.9 164.6,601.0 103.3,609.1 482.3,602.8 198.6,602.5 285.9,605.1 134.3,616.6 92.8,612.6 124.1,605.4 346.5,604.1 175.5,622.6 475.4,598.5 115.6,603.4 104.8,610.7 272.1,602.1 474.1,600.3 269.2,608.5 167.7,607.3 237.4,601.2 134.3,601.9 141.8,621.0 201.7,603.7 152.5,608.6 249.5,607.9 128.5,604.8 257.4,605.1 211.9,604.6 164.0,612.0 126.4,604.9 247.0,603.2 100.5,615.1 179.8,616.3 280.1,604.2 109.1,607.9 95.7,618.3 287.5,611.2 307.6,613.7 142.8,613.8 529.0,603.1 125.4,628.1 190.8,614.0 632.6,598.0 628.8,606.2 150.2,614.4 133.3,602.1 113.9,608.2 385.1,602.7 184.4,613.2 370.9,600.6 469.1,605.2 240.9,601.1 618.1,603.4 253.7,612.7 147.7,611.2 184.9,607.4 355.1,604.9 640.4,607.1 100.6,610.1 292.6,603.8 185.6,605.5 138.7,615.4 108.4,606.2 622.1,605.2 122.5,608.5 386.7,602.2 152.3,604.4 126.0,610.0 474.5,607.4 214.8,612.8 261.3,608.0 231.4,613.7 274.0,614.8 114.9,622.6 540.3,602.5 616.0,600.8 97.7,609.9 388.4,602.5 100.8,617.2 453.3,605.3 236.3,603.2 295.4,605.1 149.4,606.5 117.7,626.0 182.9,604.8 613.2,606.0 385.1,599.5 120.9,628.3 136.4,605.9 176.9,604.5 136.0,603.7 195.7,604.8 301.4,602.9 639.6,610.0 95.1,611.6 297.5,607.3 131.7,607.7 268.7,601.0 99.6,615.1 141.9,604.0 374.9,607.2 118.1,604.8 127.3,608.8 358.4,608.5 461.8,604.1 613.7,607.3 131.2,613.5 450.3,600.1 260.5,601.3 283.6,603.5 218.8,609.3 609.7,600.5 100.8,621.7 628.5,604.7 225.8,606.9 334.8,601.3 561.3,600.8 296.9,610.6 141.0,616.5 158.2,606.2 417.3,603.2 104.3,621.7 111.5,620.3 551.2,600.0 346.6,601.6 300.6,608.0 173.0,604.4 338.0,606.0 438.9,601.8 103.0,612.6 186.4,610.9 557.3,603.5 132.3,617.6 318.2,611.8 378.3,607.7 567.6,604.3 335.5,601.8 578.1,607.9 314.2,605.6 124.8,606.0 298.7,608.5 252.0,604.6 185.8,612.7 206.4,600.6 375.7,600.9 125.9,606.6 204.5,614.4 260.8,609.0 168.8,615.2 342.5,601.9 143.9,614.4 103.7,603.7 256.9,602.6 139.9,613.5 166.5,612.1 107.8,601.3 134.1,617.2 205.1,606.3 134.3,618.7 330.9,602.5 198.1,612.1 148.5,622.4 324.6,613.8 131.1,616.0 273.2,611.5 150.4,613.8 163.1,603.3 284.2,603.9 248.7,603.0 150.0,610.2 292.0,610.7 314.1,606.9 197.8,609.0 323.4,605.6 163.0,618.9 98.2,613.0 253.9,615.5 462.0,604.3 407.8,601.5 509.9,607.9 225.6,603.1 115.7,618.5 181.2,609.5 164.2,608.9 170.9,607.7 293.4,600.2 180.1,609.9 92.3,636.6 191.1,610.1 89.8,619.7 239.4,609.2 141.4,606.7 214.0,609.9 106.5,615.6 538.5,600.1 109.9,621.3 627.3,603.3 408.1,604.1 338.3,604.4 277.0,611.4 484.6,602.7 254.9,604.5 115.0,616.5 171.7,614.6 180.4,603.0 159.8,610.3 368.5,601.9 299.8,614.3 94.4,607.5 208.4,603.0 510.6,603.3 486.4,608.0 255.3,610.3 504.1,600.0 404.8,602.3 113.6,617.7 97.6,610.3 273.1,600.7 240.6,609.4 233.0,612.8 127.0,612.6 564.0,603.9 305.9,614.0 493.4,605.1 137.4,609.7 393.5,601.5 100.3,613.9 205.4,608.7 302.4,600.8 127.8,616.0 452.2,603.8 638.9,604.7 204.3,602.4 140.5,602.8 366.4,609.5 304.6,600.5 129.0,608.0 135.1,602.0 157.2,613.3 143.5,616.5 138.5,610.5 262.9,606.6 169.2,610.4 221.0,613.4 170.6,610.9 541.7,601.9 451.1,605.8 157.8,610.9 246.1,604.5 210.7,606.1 149.0,615.1 494.5,606.4 328.9,602.0 475.3,605.6 102.7,610.8 321.0,616.9 105.8,614.5 372.4,607.0 440.6,606.4 93.9,632.0 269.2,607.4 632.8,605.5 289.2,611.9 294.5,601.6 588.0,599.7 493.1,601.2 195.9,605.9 129.1,613.9 223.6,604.2 275.8,603.3 142.2,603.5 89.8,607.1 487.7,604.2 411.8,605.0 117.5,602.9 304.8,610.4 296.7,604.6 213.5,607.7 508.0,605.3 266.2,608.1 646.6,602.7 646.1,601.9 349.2,605.7 536.4,608.0 220.3,614.7 279.2,608.6 343.6,599.9 94.2,609.1 165.3,609.4 406.2,601.5 583.8,604.1 97.8,614.2 243.5,616.2 517.5,605.4 615.1,605.5 113.8,605.9 266.8,607.9 508.0,604.3 270.7,614.7 178.4,609.7 104.9,611.5 160.4,614.6 525.9,603.9 371.8,601.2 121.8,601.3 507.8,602.6 560.8,607.2 637.4,606.9 463.3,606.0 154.3,605.6 97.3,607.6 178.3,606.3 212.7,607.3 116.0,628.7 241.6,599.1 92.7,613.1 91.5,605.6 138.5,606.3 114.2,614.3 343.6,600.6 123.5,606.3 192.0,605.7 621.3,607.7 146.7,617.6 545.8,607.6 312.7,602.7 466.0,601.3 122.8,616.5 331.5,601.7 190.3,606.6 272.5,611.1 182.6,610.9 185.0,604.5 294.6,609.0 280.8,608.4 138.9,616.5 124.8,626.9 227.3,605.2 226.7,614.8 164.2,611.1 337.7,604.6 249.5,601.0 538.5,609.9 611.7,608.2 184.1,620.0 538.2,603.6 326.4,602.3 168.6,607.3 540.1,599.1 399.0,608.6 287.8,602.1 105.8,610.6 322.7,603.4 602.4,609.3 358.7,602.6 584.7,606.9 125.3,605.8 146.3,608.0 635.3,606.0 197.7,606.6 216.0,607.4 91.3,611.8 151.3,614.5 328.0,602.5 353.3,601.3 121.5,604.4 274.4,602.5 222.6,609.6 92.5,610.9 449.4,607.0 106.9,620.4 139.7,621.4 364.6,609.0 605.1,600.1 533.7,602.4 292.1,615.2 201.9,605.4 112.2,611.4 114.1,628.2 248.3,612.0 155.4,608.9 121.7,610.0 586.9,600.5 167.7,614.2 263.3,605.0 161.9,612.6 219.3,603.1 174.3,611.5 581.2,602.1 516.2,605.1 645.6,605.8 267.4,600.6 152.5,611.0 305.9,607.9 116.6,628.8 114.9,606.0 137.5,603.9 276.3,603.1 393.9,607.7 343.4,598.7 191.7,614.0 109.4,602.0 281.6,612.0 594.2,603.8 480.2,605.7 185.3,603.9 94.7,604.2 126.5,608.3 185.7,609.0 285.5,603.1 277.6,613.0 249.3,605.9 495.2,599.4 167.4,609.7 168.1,616.1 311.6,602.3 417.9,602.8 153.7,615.6 382.4,601.6 192.1,605.9 132.3,611.5 181.5,608.8 110.8,602.5 406.5,602.4 194.8,615.6 122.5,611.1 295.7,600.7 231.7,619.5 203.6,603.7 237.6,616.0 109.1,613.8 604.3,606.4 317.3,608.4 96.4,605.7 143.1,618.7 375.0,602.0 580.2,610.1 174.0,612.7 556.3,601.7 222.4,608.3 137.4,606.0 371.8,599.1 141.8,619.0 421.3,601.9 603.3,602.5 194.8,607.1 493.4,604.7 170.3,616.3 121.6,646.7 93.6,673.4 117.0,649.6 140.8,626.4 112.2,655.6 136.6,632.6 102.1,664.0 126.8,640.1 98.0,668.9 137.5,634.8 102.1,648.7 90.4,654.3 126.0,637.3 132.3,635.4 96.3,651.8 119.1,641.7 107.9,647.7 149.3,646.2 211.8,628.4 199.1,632.3 193.8,632.8 206.3,630.3 174.4,637.7 156.0,645.7 162.5,642.2 168.0,640.5 187.0,637.0 190.0,619.4 183.7,621.5 176.3,624.2 170.0,626.6 150.1,632.1 157.7,629.6 163.7,627.6 224.8,625.9 245.5,621.5 217.8,627.3 238.4,621.0 231.4,623.1 198.1,622.8 105.3,643.0 139.6,632.9 190.8,630.2 137.4,630.0 114.0,635.3 149.8,635.0 152.0,628.8 144.2,631.1 171.9,635.2 107.8,640.2 130.3,634.4 160.5,633.8 107.8,634.1 395.4,585.1 582.6,569.9 524.0,576.3 296.0,580.5 587.4,565.6 573.5,575.0 594.7,574.3 195.1,584.4 437.4,575.2 499.4,576.1 550.7,586.0 436.2,576.0 615.4,579.0 303.2,582.6 600.9,579.9 599.2,553.7 249.7,580.2 582.8,567.1 639.9,559.8 301.9,583.9 333.1,579.3 556.1,576.7 516.1,577.2 311.1,582.9 536.5,585.2 521.9,576.1 501.9,573.0 588.4,581.0 465.4,583.6 612.5,570.8 548.3,577.7 642.6,581.8 558.5,577.2 457.9,579.8 337.5,581.8 336.8,576.1 202.7,578.1 168.1,581.0 392.1,578.2 507.7,584.7 470.1,585.5 481.4,581.0 153.8,577.8 615.4,555.7 596.6,572.2 622.8,562.5 643.5,555.7 570.8,577.6 650.8,580.2 538.8,575.5 435.4,579.9 646.9,578.2 568.7,572.4 380.8,582.2 397.3,586.4 349.8,584.2 364.0,583.2 212.1,581.5 602.2,578.9 387.4,581.4 381.3,580.6 203.6,574.2 587.0,569.3 606.4,568.2 607.4,573.9 365.6,585.6 610.1,561.9 497.5,584.2 581.7,580.0 619.4,558.8 633.5,572.1 384.5,584.0 580.5,564.9 590.8,573.4 332.8,584.3 161.7,577.0 518.2,569.8 391.2,586.4 380.5,584.8 532.4,570.8 309.7,577.0 613.3,562.5 637.5,576.5 385.9,580.6 639.8,562.4 154.8,578.4 448.3,585.3 624.8,574.0 573.5,580.8 547.7,584.1 507.8,571.0 426.2,580.4 517.9,576.8 585.5,571.4 623.0,577.1 374.3,581.0 454.5,575.2 415.6,580.0 531.0,576.7 530.5,573.9 649.4,547.2 288.9,584.9 625.8,582.9 572.0,583.8 371.3,577.9 340.3,580.7 548.8,576.8 362.5,579.0 338.5,579.5 455.3,585.2 618.4,582.0 514.7,580.5 322.8,579.4 303.8,583.6 632.9,584.3 308.2,582.4 580.3,562.7 387.4,583.6 585.5,581.9 617.8,571.7 206.5,578.1 193.4,581.1 489.3,572.1 633.0,581.3 412.6,583.6 591.5,579.2 225.2,580.5 522.8,579.1 602.5,567.2 290.6,579.6 607.4,582.4 553.1,583.0 154.8,580.5 594.6,569.4 320.5,582.1 623.8,576.8 619.1,577.1 212.5,584.0 291.8,581.0 172.2,580.4 644.2,581.2 613.7,554.1 495.2,585.8 579.9,581.9 598.3,579.9 483.9,580.7 438.8,580.5 540.3,567.1 470.6,584.8 111.8,574.5 293.1,582.2 452.8,579.0 413.6,576.8 275.0,578.5 372.8,586.0 533.5,580.6 393.8,583.1 575.3,573.3 385.6,585.3 610.8,563.7 257.5,581.4 624.5,575.5 428.7,577.7 201.8,581.4 439.7,583.5 589.9,568.3 421.6,578.5 344.6,585.6 403.1,584.5 488.5,585.7 538.4,573.1 564.5,580.8 596.9,567.4 295.7,583.2 567.3,585.6 378.9,582.2 620.3,561.2 602.0,585.3 490.2,579.8 560.1,581.4 637.3,553.4 460.5,576.5 509.3,577.6 551.9,582.0 110.5,575.4 604.4,565.2 581.0,583.0 275.1,585.1 155.6,577.4 541.4,582.6 345.0,578.5 345.7,577.3 551.9,583.7 285.4,584.4 464.9,580.6 602.8,571.3 501.1,574.1 289.6,584.8 509.9,571.9 212.8,584.4 368.0,579.1 640.9,579.5 615.5,562.5 608.0,583.5 267.7,579.0 399.0,584.0 585.9,578.1 296.3,578.0 568.3,573.2 642.0,582.9 608.9,577.5 526.2,580.4 574.5,564.9 314.3,577.9 316.3,578.4 402.6,581.6 471.4,584.7 328.9,578.9 445.6,586.5 506.9,582.7 338.6,580.3 610.8,582.0 590.2,576.5 424.5,582.5 600.7,577.6 559.4,574.6 636.0,568.5 440.3,586.1 470.6,581.3 180.4,575.7 614.4,568.3 473.4,576.0 562.4,569.8 595.4,583.7 567.8,562.3 541.0,579.6 354.6,579.4 570.7,578.2 630.4,585.1 644.2,559.4 538.3,580.3 575.1,579.3 557.6,584.2 497.9,578.5 257.4,579.4 467.8,574.5 629.8,570.6 551.7,562.7 174.5,580.7 627.4,563.6 363.0,578.3 578.8,575.5 585.1,569.7 644.7,582.7 581.4,584.1 493.7,579.7 553.3,565.2 636.1,564.3 419.3,576.5 492.2,575.0 521.2,579.9 506.2,573.2 651.0,560.5 379.1,584.7 397.1,582.6 608.7,573.5 627.9,582.2 502.4,581.8 452.2,585.5 567.0,569.3 241.6,583.3 621.6,560.1 175.8,580.6 188.6,577.6 629.0,581.5 291.2,580.6 510.1,578.8 590.5,565.0 626.5,558.7 531.2,581.2 348.7,586.5 581.1,567.5 393.5,578.5 541.7,580.4 354.4,584.0 519.4,575.0 643.2,551.6 390.5,576.5 578.0,572.1 337.9,577.5 268.5,584.3 117.8,582.3 550.8,572.4 225.8,581.1 198.3,577.7 546.6,574.5 557.0,577.6 647.1,583.0 598.2,562.0 492.9,580.2 372.0,584.1 509.3,575.6 252.2,580.9 510.4,580.8 413.1,581.0 516.9,568.8 427.8,583.2 421.5,580.6 400.0,580.0 365.2,578.0 380.2,577.4 642.6,557.3 495.4,581.3 624.0,551.3 646.1,566.8 509.1,580.2 279.0,581.3 635.6,576.4 619.8,584.1 571.1,582.9 200.7,574.4 581.9,585.9 308.3,583.1 644.0,585.5 457.0,583.8 429.7,577.4 368.2,579.5 334.1,581.8 418.6,580.7 95.5,580.2 542.0,567.8 615.7,581.7 345.1,581.1 590.7,560.9 578.6,564.0 631.7,564.0 577.2,584.1 228.8,578.1 637.9,569.0 588.2,557.2 485.9,581.2 472.4,575.3 547.9,582.9 511.6,570.2 179.2,578.7 422.0,583.0 573.3,569.3 399.1,584.6 620.4,576.5 497.6,572.3 584.9,571.1 467.7,583.0 463.7,583.8 629.7,567.3 616.4,573.7 459.0,585.6 550.1,582.1 633.6,578.7 485.6,575.8 362.9,583.4 468.1,580.9 259.5,583.7 623.8,581.0 541.8,571.9 619.7,566.6 610.0,555.8 605.5,581.0 597.4,577.5 626.8,583.0 633.8,575.5 473.6,581.9 525.4,571.2 605.9,565.7 609.4,579.4 530.2,578.8 573.0,577.7 639.4,579.2 554.7,580.6 432.6,582.2 473.7,576.7 179.0,584.2 631.0,566.6 452.4,577.5 219.9,585.0 583.3,573.1 466.0,579.1 642.8,571.7 511.9,584.1 493.4,577.2 630.0,572.0 597.1,568.1 389.3,584.5 536.8,571.6 579.3,578.6 287.3,578.7 538.9,581.3 566.2,576.4 634.6,565.1 617.3,583.4 639.3,566.5 611.0,565.6 376.4,582.4 153.3,575.8 642.3,561.2 541.9,575.4 540.3,584.6 569.3,559.2 448.9,580.6 332.4,586.1 360.1,581.3 145.8,577.6 152.9,578.6 330.4,583.1 642.7,570.9 641.0,577.0 433.4,578.3 604.0,564.8 507.9,583.9 595.5,562.5 554.2,579.7 401.5,583.2 447.2,581.7 581.3,569.7 511.7,582.3 616.7,562.1 358.1,578.5 579.0,562.5 640.4,580.8 633.8,563.6 161.5,584.3 555.5,579.6 365.2,578.1 333.7,581.6 539.2,573.0 616.6,563.5 308.9,576.5 180.9,582.0 578.8,569.4 455.3,582.5 503.5,584.1 477.7,583.9 437.1,583.0 523.1,580.5 646.0,574.4 632.9,566.2 446.6,581.3 641.7,571.6 579.6,565.0 527.9,577.6 529.2,578.1 425.8,576.8 595.5,575.3 635.0,575.5 410.0,579.6 408.1,583.8 582.0,565.1 169.6,578.5 592.6,577.2 335.2,581.8 419.1,585.1 605.5,577.4 497.6,575.7 520.9,570.9 363.9,586.5 549.8,567.3 407.6,580.6 417.2,585.2 613.7,559.2 519.7,579.9 125.3,574.3 468.6,572.3 548.2,575.6 356.7,583.7 574.5,582.8 241.1,579.8 277.2,582.8 307.1,579.5 602.5,574.8 513.2,577.6 486.9,584.1 185.3,583.9 576.6,574.4 427.6,580.4 340.5,585.3 636.3,581.5 550.9,576.5 636.8,577.9 359.0,581.1 522.7,583.1 120.7,580.2 627.9,565.0 404.5,579.9 489.6,581.7 629.6,564.0 208.9,580.4 415.9,581.1 603.2,573.7 607.2,570.8 343.5,584.7 183.5,581.9 551.8,578.4 483.4,579.3 477.8,573.3 140.8,575.1 464.2,576.2 386.1,580.3 650.4,583.4 629.1,584.9 233.8,580.6 500.7,581.3 617.5,584.0 368.4,578.0 466.0,577.2 533.8,574.9 390.1,579.4 345.7,584.6 299.6,584.3 434.9,578.3 467.6,585.6 121.9,579.2 282.3,585.8 356.4,579.0 494.1,579.6 342.9,578.5 628.3,569.4 614.1,566.7 548.8,579.1 635.1,562.5 534.7,585.3 467.1,577.0 558.9,583.3 585.0,580.1 531.4,580.9 630.8,574.2 487.9,571.9 528.2,579.1 500.5,578.8 518.0,585.9 621.6,581.8 588.7,578.5 455.0,585.8 553.7,575.6 466.2,582.4 306.1,578.0 436.9,580.5 146.1,571.9 609.2,573.0 552.1,580.5 519.7,585.9 193.9,582.2 364.0,578.2 498.1,581.6 305.2,580.5 577.8,560.3 595.0,560.5 424.6,578.3 631.1,557.0 447.7,583.2 307.2,582.6 530.7,575.0 600.8,578.9 549.4,571.5 551.3,568.5 356.0,584.2 590.6,582.5 237.0,582.7 639.7,558.7 639.4,563.2 310.5,583.8 376.3,585.9 589.8,579.6 429.3,580.1 259.8,578.5 591.0,578.1 140.9,581.2 445.4,575.8 389.4,586.8 371.1,578.3 309.2,577.5 373.6,580.0 612.7,575.7 498.0,583.8 377.9,584.1 336.0,585.6 600.9,584.8 376.0,583.6 171.8,581.3 358.7,582.4 309.4,579.2 436.0,584.5 599.9,584.6 610.4,575.5 623.5,579.1 506.5,580.1 450.5,584.8 410.0,583.7 642.7,584.4 109.4,578.5 518.6,574.4 403.4,583.5 650.4,567.4 590.6,575.2 133.6,582.7 603.3,558.6 583.3,579.8 398.4,581.0 621.4,561.8 557.8,576.0 497.7,569.8 372.7,583.7 226.2,583.5 392.5,585.7 587.7,562.0 243.9,586.2 520.0,582.9 536.4,577.5 377.2,578.2 520.1,575.9 630.2,563.2 517.3,583.1 400.5,581.8 584.7,569.5 595.1,580.0 646.6,570.1 607.9,571.7 569.6,574.0 457.5,581.3 497.2,582.8 592.7,576.7 280.3,581.5 573.1,570.0 274.2,583.6 370.5,581.3 210.2,577.0 612.0,562.7 561.5,568.8 104.5,580.9 517.0,582.2 274.3,576.9 629.6,580.3 534.9,579.0 368.0,584.1 347.9,581.4 636.9,563.7 529.0,570.0 465.4,586.0 611.4,562.9 431.6,585.0 527.2,582.0 614.6,551.3 153.8,581.0 185.6,575.3 185.1,581.7 357.0,578.6 134.9,578.3 311.9,584.2 625.0,580.5 558.7,576.6 572.1,570.9 642.6,567.0 326.5,582.1 272.3,581.7 387.2,577.7 642.4,579.3 399.1,578.5 551.8,565.7 626.2,577.1 250.8,583.5 507.4,575.5 329.8,585.9 584.6,576.5 535.0,578.1 560.0,571.1 235.9,583.4 634.6,574.0 620.9,581.3 650.4,557.1 354.5,577.2 555.1,572.0 568.4,575.8 616.9,569.5 467.8,579.1 477.0,579.1 255.6,577.6 495.2,581.0 157.6,581.3 650.5,558.6 407.4,577.3 418.7,581.9 578.2,583.3 488.2,582.9 347.3,577.6 462.0,574.5 648.1,574.7 595.7,571.3 268.0,582.5 575.5,575.5 511.3,572.3 244.2,581.4 321.6,576.1 631.6,565.6 473.6,579.5 492.4,578.4 629.6,565.1 575.2,568.1 569.8,565.1 635.6,570.5 650.9,575.2 420.0,582.3 588.0,571.2 629.6,582.2 589.0,561.7 580.0,572.1 502.8,576.2 554.7,585.0 515.2,582.6 578.0,581.8 626.5,573.0 627.8,576.5 111.2,582.1 543.0,578.6 306.7,585.9 413.1,582.1 414.2,580.3 613.8,579.4 158.5,580.8 648.4,555.8 614.3,581.4 517.2,581.7 285.9,578.7 254.2,576.8 335.8,575.6 185.1,582.1 571.5,575.2 645.2,578.5 614.0,578.6 564.8,569.6 321.3,585.0 605.0,575.3 531.5,584.3 597.4,584.6 457.3,586.6 632.3,559.0 515.6,584.0 476.7,580.2 188.6,584.8 616.4,582.6 628.2,563.3 447.1,584.5 373.3,585.5 513.0,570.5 598.4,572.4 494.8,584.4 336.1,583.3 622.6,557.1 548.8,583.0 488.3,584.2 589.8,569.1 586.6,579.3 341.9,581.5 624.3,572.6 638.3,553.5 445.8,576.6 595.2,579.6 631.3,576.9 202.7,581.7 615.6,576.9 426.9,583.9 396.8,578.2 439.9,576.0 107.8,582.1 518.7,583.5 645.1,559.9 500.9,582.8 570.5,583.9 306.1,576.1 543.6,584.3 557.5,566.3 471.9,580.3 647.5,578.2 535.3,571.5 644.5,568.8 513.3,574.7 219.3,580.8 473.7,580.5 590.0,581.4 519.1,572.5 635.2,563.4 571.2,570.7 647.6,546.3 635.8,572.2 183.6,573.2 599.6,579.0 494.7,575.9 124.6,579.3 479.4,576.6 597.2,578.1 595.5,581.6 430.6,577.2 179.9,572.8 161.4,581.9 91.3,579.5 529.4,580.7 415.2,583.9 529.4,583.9 540.0,574.4 568.3,577.5 521.9,573.7 307.4,583.7 632.7,568.2 522.6,577.4 626.8,560.3 645.3,573.1 611.4,559.0 645.3,556.1 635.6,558.6 647.9,566.3 506.1,577.9 163.8,581.3 475.5,576.4 511.0,572.1 614.4,561.8 246.0,578.7 312.6,581.5 173.0,576.1 567.7,574.0 497.2,570.1 628.8,552.9 431.6,579.6 630.5,561.7 505.5,582.0 175.6,574.8 613.0,577.4 550.7,580.2 619.3,564.3 598.9,578.3 403.2,577.5 470.5,580.2 372.9,576.2 597.1,574.2 589.7,580.7 620.6,583.2 589.7,583.3 253.1,578.8 587.3,572.7 159.4,582.5 514.8,573.3 625.5,560.9 355.7,585.1 629.7,554.0 640.2,556.2 357.2,582.4 319.5,585.0 610.5,582.0 488.5,572.9 260.6,582.7 473.1,578.4 455.1,576.7 629.5,558.5 387.8,579.0 245.7,581.8 281.6,582.6 424.3,581.7 239.7,583.7 611.5,571.9 560.7,576.6 332.2,582.3 361.5,583.8 589.0,575.8 478.9,579.2 638.4,555.8 229.5,584.2 634.6,580.3 349.4,578.0 554.9,570.4 367.0,582.7 622.2,572.4 591.2,581.2 214.5,580.3 369.4,583.6 624.4,552.0 626.1,569.9 423.5,583.5 412.2,578.9 471.4,584.0 565.8,585.9 616.4,564.6 493.5,574.4 137.5,584.0 632.2,551.7 531.4,575.8 612.5,559.6 510.9,584.5 559.8,562.5 344.3,581.1 531.7,577.4 646.7,560.6 182.8,583.5 541.0,576.3 594.8,573.9 472.7,583.0 442.0,584.7 554.6,568.2 470.3,583.7 220.7,585.1 632.3,562.0 440.1,578.0" fill="none" stroke="none" marker-start="url(#mg)" marker-mid="url(#mg)" marker-end="url(#mg)"/>
<polygon points="89.5,572.5 110.0,578.5 125.0,583.5 143.0,584.5 170.0,583.5 195.0,586.5 215.0,587.5 300.0,587.5 400.0,586.5 480.0,585.5 540.0,584.5 600.0,583.5 630.0,583.5 651.0,583.5 651.0,603.5 630.0,603.5 600.0,603.5 540.0,602.5 480.0,601.5 400.0,601.5 300.0,601.5 215.0,601.5 195.0,603.5 170.0,606.5 143.0,608.5 125.0,605.5 110.0,603.5 89.5,603.5" fill="#9c9cff"/>
<polyline points="593.2,581.2 281.6,616.3 358.0,607.2 108.2,562.7 545.3,581.4 363.3,580.2 150.3,580.3 577.7,552.0 159.8,579.0 572.7,572.3 541.6,574.9 406.5,572.7 598.3,566.7 144.7,569.8 371.8,607.3 99.2,565.1 134.1,559.0 557.4,601.5 299.3,605.7 146.3,580.0 117.1,573.3 335.0,574.4 485.2,580.7 132.5,576.5 105.9,564.1 634.1,575.2 108.7,577.9 395.7,615.1 589.0,571.7 133.0,569.9 373.2,605.3 411.7,610.6 491.2,600.1 480.1,601.7 412.7,576.9 142.1,575.1 257.7,580.0 103.5,563.7 244.5,578.7 287.5,575.3 104.3,577.2 611.7,575.3" fill="none" stroke="none" marker-start="url(#mr)" marker-mid="url(#mr)" marker-end="url(#mr)"/>
<polyline points="307.7,610.4 646.9,562.2 198.6,584.0 98.8,606.4 135.1,613.1 373.4,576.4 141.4,602.7 566.1,583.5 116.8,608.8 124.9,614.9 525.0,573.4 315.6,578.0 554.4,572.6 440.5,607.8 472.1,576.6 603.6,577.8 625.5,581.5 390.8,585.7 558.9,584.6 155.0,614.1" fill="none" stroke="none" marker-start="url(#mg)" marker-mid="url(#mg)" marker-end="url(#mg)"/>
<polyline points="90.3,568.3 209.8,585.7 130.4,578.8 172.4,606.2 416.8,584.2 650.6,618.1 138.2,585.8 368.9,586.2 360.8,600.7 336.8,610.9 332.8,575.2 422.8,605.9 196.4,587.3 476.3,604.7 568.5,582.9 394.1,602.4 453.6,585.3 549.5,603.9 252.8,600.2 639.6,608.4 517.4,585.1 538.4,584.2 597.1,603.5 491.3,584.2 606.0,610.5 213.8,587.8 425.2,602.5 182.2,586.8 417.6,601.9 234.1,586.5 159.0,607.6 199.5,585.9 609.8,583.6 169.8,607.6 457.1,587.1 427.3,586.8 175.0,581.9 593.0,603.0 121.7,604.9 622.2,611.2 334.8,606.3 606.8,582.4 143.2,584.7 131.5,580.0 304.8,584.4 551.0,604.7 415.7,602.2 122.7,578.1 414.7,601.6 91.0,605.8 252.5,584.8 344.9,583.7 275.8,582.8 256.2,583.5 443.3,586.7 280.7,603.5 367.2,603.0 607.7,604.3 114.4,579.3 185.6,584.1 433.6,585.4 636.6,619.2 319.2,585.7 575.9,608.6 301.4,600.8 488.4,605.1 324.8,584.3 553.1,607.9 346.7,608.2 109.6,603.9 547.7,584.2 642.1,584.5 642.2,607.3 162.4,608.2 593.9,605.4 275.1,604.5 566.3,584.3 521.9,585.4 304.0,587.3 306.5,585.7 242.6,603.6 572.6,604.6 355.9,600.2 630.8,603.6 260.9,586.1 400.7,586.4 90.2,566.2 495.9,601.8 117.5,579.6 132.3,580.2 343.1,585.7 602.9,605.9" fill="none" stroke="none" marker-start="url(#mb)" marker-mid="url(#mb)" marker-end="url(#mb)"/>
<polyline points="251.5,583.4 560.9,573.2 319.5,611.4 220.8,577.0 362.8,612.0 422.5,604.4 147.9,570.1 195.6,572.5 399.5,575.4 282.6,608.4 436.0,603.6 382.4,607.2 143.0,573.6 370.0,612.1 384.0,571.3 155.2,576.2 459.4,607.7 470.6,610.9 628.9,571.3 122.1,582.9 273.1,579.2 146.2,564.9 437.2,603.1 387.8,582.6 606.3,569.3 553.4,579.1 111.4,576.4 127.1,575.3 439.6,583.2 326.7,606.3 198.0,587.6" fill="none" stroke="none" marker-start="url(#mr)" marker-mid="url(#mr)" marker-end="url(#mr)"/>
<polyline points="541.7,581.3 229.1,603.7 221.2,605.1 555.2,607.3 392.9,584.3 512.1,584.5 480.9,584.1 579.2,577.5 615.3,559.6 191.7,602.5 370.2,602.2 271.9,601.6 309.0,600.2 162.9,616.6 649.2,581.9 591.6,580.9 316.9,585.8 574.9,565.4 443.1,585.4 617.2,602.3 121.0,606.2 310.2,615.6 632.6,571.4 152.7,580.1 495.6,579.9 258.4,601.6 545.4,571.0" fill="none" stroke="none" marker-start="url(#mg)" marker-mid="url(#mg)" marker-end="url(#mg)"/>
<polyline points="561.1,604.9 304.6,585.7 584.2,581.2 121.3,582.0 406.4,603.1 585.4,608.2 391.8,604.4 450.1,586.3 561.5,606.4 120.3,605.4 554.4,604.4 261.2,603.1 186.7,582.2 234.5,587.8 192.5,585.8 582.5,582.5 472.9,601.5 90.9,567.3 183.1,585.5 164.7,582.4 541.0,582.7 539.5,584.6 617.5,613.2 529.0,603.2 581.4,581.7 153.7,580.0 325.1,588.5 541.8,605.2 192.5,583.0 196.2,602.1 352.0,588.7 305.4,585.7 475.2,585.2 364.4,586.0 558.9,603.7 341.6,601.3 514.2,602.9 610.8,583.3 553.7,603.6 607.8,582.6 340.9,605.5 459.0,604.0 543.4,583.1 631.4,604.3 282.4,602.8 366.5,601.2 410.6,603.5 318.8,601.8 610.7,604.5 350.4,583.4 295.7,601.1 555.4,585.5 337.3,601.0 632.6,609.0 244.3,601.3 629.3,603.3 529.5,583.3 291.2,587.2 92.8,574.7 577.6,583.9 567.9,604.1 199.0,587.4 458.6,600.0 594.3,581.5 427.7,600.0 296.1,588.1 393.8,603.7 497.3,585.0 112.6,579.7 209.1,602.5 535.0,604.3 225.3,600.9 230.8,602.7 353.6,604.0 580.9,603.6 371.4,600.7 632.8,608.4 533.3,606.8 241.8,585.5 650.1,613.1 290.4,583.1 511.2,605.6 616.3,604.3 643.0,601.7 213.0,588.6 381.7,587.9 153.8,608.7 226.1,600.1 585.4,605.6 281.7,588.9 650.6,606.6 323.6,601.5 378.5,585.2 601.0,604.4 546.1,603.9 206.0,604.2" fill="none" stroke="none" marker-start="url(#mb)" marker-mid="url(#mb)" marker-end="url(#mb)"/>
<polyline points="568.7,568.5 410.6,576.6 186.8,605.6 269.7,617.6 277.3,607.8 351.0,606.1 592.5,579.5 585.1,576.5 295.0,573.7 197.3,608.0 355.2,577.7 160.9,605.3 384.5,608.9 405.9,610.0 566.8,571.4 320.1,616.3 478.4,573.6 533.2,571.7 244.5,574.5 207.1,577.6 204.7,613.0 369.7,602.7 103.3,578.9 530.5,571.7 303.1,604.0 198.9,581.8 328.6,607.7 435.3,578.2 289.3,583.9 183.0,584.9 160.7,573.9 353.6,609.3 236.4,611.7 396.9,584.6 248.9,606.3 483.6,602.1 418.0,605.1 402.6,606.8 206.4,616.0" fill="none" stroke="none" marker-start="url(#mr)" marker-mid="url(#mr)" marker-end="url(#mr)"/>
<polyline points="98.0,580.0 649.8,564.6 168.2,609.9 621.7,552.3 124.3,611.7 423.0,583.9 525.1,575.3 401.4,582.0 624.4,585.1 138.6,605.8 120.6,611.1 133.5,573.2 141.7,609.3 507.1,570.1 455.7,578.5 619.5,576.2 462.7,580.3 208.4,577.7 107.7,614.9 544.1,580.2 647.0,580.4 212.6,609.0 409.7,582.5 558.1,608.4 149.1,607.7 574.0,602.8 103.4,616.9 616.9,559.4 135.5,608.9" fill="none" stroke="none" marker-start="url(#mg)" marker-mid="url(#mg)" marker-end="url(#mg)"/>
<polyline points="407.4,585.7 338.2,612.6 578.4,602.1 436.1,584.0 157.3,583.2 240.4,582.3 523.6,585.8 173.5,609.3 361.7,584.6 530.7,603.5 210.1,604.3 496.6,585.6 633.8,604.1 325.9,588.0 623.4,604.1 315.5,584.6 313.9,585.4 447.3,600.0 486.0,600.8 327.0,573.5 518.8,585.8 114.6,577.8 331.2,585.1 544.2,602.8 126.2,581.4 162.5,585.1 371.5,602.5 360.4,610.0 634.8,605.4 520.8,582.3 190.4,583.9 442.0,601.6 522.9,582.3 455.5,603.8 647.1,602.8 588.8,604.0 144.1,607.1 256.3,588.1 94.7,607.6 360.9,586.7 345.1,602.3 323.8,587.5 215.5,586.2 443.9,602.5 402.5,587.0 326.8,585.0 155.8,608.8 374.9,602.4 479.6,603.8 624.8,612.9 387.0,602.5 533.4,605.2 117.8,605.1 635.2,616.4 511.8,584.2 138.7,580.5 165.8,583.6 307.2,605.9 439.9,584.6 485.0,586.1 270.0,586.4 338.3,614.7 198.5,607.4 600.2,606.8 110.5,603.2 492.2,586.5 519.1,586.6 349.9,586.6 329.6,586.9 295.8,603.6 309.4,600.5 462.7,603.5 646.7,608.9 650.0,583.9 455.1,600.8 594.2,583.7 108.7,576.0 107.9,602.2 351.2,585.9 306.0,586.9 148.4,611.1 382.1,585.7 352.9,604.1 617.1,582.3 565.2,584.9 587.2,603.6" fill="none" stroke="none" marker-start="url(#mb)" marker-mid="url(#mb)" marker-end="url(#mb)"/>
<polyline points="117.4,564.9 626.9,560.1 163.4,585.8 574.5,574.1 196.7,578.9 291.8,610.2 481.6,582.9 456.8,580.0 615.3,575.0 367.0,580.6 233.4,579.0 89.4,545.6 213.6,605.1 215.3,614.9 241.7,606.0 185.5,583.3 383.2,611.2 249.4,616.5 116.5,581.3 354.3,606.3 594.9,580.3 571.5,582.6 446.1,601.5 596.3,571.3 335.6,616.8 143.1,572.0 581.8,570.6 459.5,576.0 514.0,576.9 402.7,605.0 582.1,579.4 108.6,582.0 144.0,568.7 143.1,580.7 97.2,582.9 263.4,605.3 280.1,604.6 198.5,614.6 396.7,600.8 483.0,605.1 396.8,601.8 286.0,604.1 431.8,582.7 501.0,561.3 542.7,582.8 391.2,586.2 497.1,579.9" fill="none" stroke="none" marker-start="url(#mr)" marker-mid="url(#mr)" marker-end="url(#mr)"/>
<polyline points="312.0,604.8 390.5,581.0 284.7,577.7 147.9,615.9 428.9,598.3 606.6,577.3 113.8,615.7 400.7,603.2 222.1,603.0 527.4,572.4 161.3,624.8 545.5,569.7 535.4,572.3 559.1,579.2 525.9,576.8 535.2,604.8 597.4,580.9 557.4,565.9" fill="none" stroke="none" marker-start="url(#mg)" marker-mid="url(#mg)" marker-end="url(#mg)"/>
<polyline points="169.3,581.9 554.4,585.3 605.7,605.5 378.8,603.1 185.4,585.1 228.0,601.7 621.7,582.8 591.0,604.1 580.0,607.3 321.2,588.5 203.2,586.2 371.8,586.7 644.3,619.6 116.3,573.0 348.4,610.6 167.7,609.4 460.2,601.5 628.8,614.8 95.1,568.8 520.9,602.0 498.3,600.8 233.2,583.7 356.3,605.9 434.4,582.3 254.4,601.9 598.7,583.6 345.6,610.0 205.9,588.0 250.2,587.4 547.0,604.9 487.9,601.9 474.8,582.0 395.0,586.6 119.4,603.5 172.5,607.5 539.4,605.0 193.9,583.2 344.0,582.2 599.8,607.3 292.5,603.2 418.8,600.0 531.6,605.9 120.3,578.5 305.4,604.9 491.9,602.8 142.7,585.9 591.9,584.9 374.0,584.9 354.3,603.0 152.5,607.4 129.7,581.4 621.2,610.3 610.6,606.1 408.1,602.6 411.3,602.4 256.7,587.5 325.5,572.2 542.4,603.5 504.5,587.8 99.9,574.7 520.9,585.7 266.3,601.9 210.8,603.8 491.7,583.8 190.2,584.9 423.0,587.5 109.9,567.4 371.6,585.9 585.4,602.9 534.4,601.2 438.1,603.9 498.7,603.3 323.5,572.8 111.2,607.0 294.0,603.3 157.1,608.8 93.0,603.9 361.1,586.2 132.6,607.8 355.5,585.6 126.2,583.9 123.7,606.3 359.4,611.8 622.9,584.0 486.7,604.0 187.7,603.1 131.2,610.2 649.9,610.6 113.6,580.6" fill="none" stroke="none" marker-start="url(#mb)" marker-mid="url(#mb)" marker-end="url(#mb)"/>
<polyline points="98.0,570.6 604.0,603.4 163.4,575.9 456.6,605.7 333.8,603.7 219.6,575.4 474.0,607.1 124.5,579.4 345.4,603.5 500.9,606.6 107.8,574.7 445.7,605.7 140.2,570.2 402.4,572.1 533.2,576.4 269.9,577.5 117.8,572.4 295.2,610.2 452.7,609.2 139.2,554.0 446.5,575.8 333.6,606.9 459.4,572.8 142.0,576.6 533.5,570.0 111.1,562.3 238.4,605.8 287.7,613.2 344.9,605.0 342.8,577.2 295.0,578.1" fill="none" stroke="none" marker-start="url(#mr)" marker-mid="url(#mr)" marker-end="url(#mr)"/>
<polyline points="479.0,585.8 166.3,610.2 599.9,583.5 234.8,616.4 380.8,604.5 183.1,577.4 194.1,604.2 247.0,603.6 207.0,579.7 120.0,583.0 608.4,565.9 615.1,584.7 391.9,582.4 583.0,602.8 206.4,605.9 451.0,581.4 451.0,584.8 546.6,605.8 611.6,564.0 332.7,578.7 638.2,580.6 527.2,580.7 150.4,608.4 171.9,583.6 541.3,573.7 508.3,578.6" fill="none" stroke="none" marker-start="url(#mg)" marker-mid="url(#mg)" marker-end="url(#mg)"/>
<polyline points="626.0,618.0 173.3,608.1 394.1,588.9 577.9,584.5 319.5,603.1 421.4,586.0 340.2,579.0 242.6,587.2 267.1,586.7 612.0,605.1 291.7,600.6 533.0,583.6 221.8,584.3 101.3,602.8 139.7,581.0 122.2,575.1 98.1,603.6 504.3,583.1 372.6,586.5 323.1,602.9 380.2,602.9 515.0,602.5 586.2,605.5 395.0,585.5 431.0,586.3 153.8,609.4 136.3,611.8 95.5,572.7 206.2,602.9 237.4,602.6 474.0,583.9 328.7,586.2 633.5,583.3 180.1,582.5 348.0,601.7 223.9,587.6 350.8,587.9 326.5,586.5 369.1,585.7 466.0,586.2 624.6,610.8 591.5,608.9 379.2,602.5 307.0,589.4 159.5,608.1 244.4,586.6 630.5,583.5 121.5,583.9 305.0,603.1 423.2,602.3 624.0,611.6 137.4,583.3 527.9,602.9 301.0,602.2 643.4,613.3 263.6,605.3 214.5,604.1 329.9,601.2 543.7,601.4 651.0,617.6 352.4,605.6 531.6,603.3 535.9,605.7 419.6,584.8 336.3,612.6 452.1,585.2 216.7,602.4 622.7,615.3 194.7,586.2 427.4,587.2 409.9,603.3 329.9,584.9 588.1,604.9 107.5,569.1 646.4,614.3 106.5,578.2 255.0,587.3 343.0,603.6 343.6,607.1 202.9,601.2 127.1,578.5 199.3,606.0 393.2,587.5 515.3,584.3 200.2,588.0 484.1,602.8 222.3,601.6 642.7,615.3 227.2,602.8 428.1,584.7 611.1,613.0 340.6,586.4 147.0,585.0 359.7,583.7 176.7,605.0 552.9,606.2 221.5,604.9" fill="none" stroke="none" marker-start="url(#mb)" marker-mid="url(#mb)" marker-end="url(#mb)"/>
<polyline points="498.4,603.2 372.1,582.8 114.9,572.0 93.6,564.5 613.0,577.8 511.7,573.3 289.6,614.7 378.6,577.0 566.7,553.7 134.0,557.7 430.4,602.7 465.9,608.6 118.6,561.8 622.4,578.2 501.1,569.4 392.1,602.7 321.0,603.1 225.7,607.8 526.5,579.5 592.4,551.3 149.7,578.4 216.8,575.5 271.4,609.5 126.1,581.9 253.0,608.2 167.7,606.8 444.9,576.9 607.1,578.5 635.1,571.1 199.8,574.6 370.0,584.0 227.6,580.6 272.9,608.8 362.0,612.1 560.4,571.2 359.8,603.6" fill="none" stroke="none" marker-start="url(#mr)" marker-mid="url(#mr)" marker-end="url(#mr)"/>
<polyline points="466.0,599.6 582.0,577.8 340.9,586.5 251.8,582.9 251.7,606.3 567.9,563.5 408.3,578.1 124.8,613.5 498.8,604.1 301.9,612.5 146.9,610.0 93.2,617.9 352.8,604.4 354.9,581.9 557.0,582.6 92.1,611.1 119.6,606.8 585.1,575.1 227.8,603.4 565.6,602.5 171.1,608.2 283.6,607.1 142.2,578.2" fill="none" stroke="none" marker-start="url(#mg)" marker-mid="url(#mg)" marker-end="url(#mg)"/>
<polyline points="462.2,602.6 632.2,612.6 89.7,570.6 634.9,583.6 118.0,577.3 505.2,601.1 605.0,584.0 500.7,602.9 338.0,602.6 610.5,603.5 302.5,586.0 476.4,601.4 171.2,607.8 129.0,582.7 482.2,584.3 111.2,578.4 151.7,579.5 646.3,624.5 240.3,587.9 643.6,609.3 253.1,585.0 106.0,606.0 179.6,582.7 219.5,586.4 177.5,586.7 357.5,600.6 428.2,585.6 239.2,586.3 520.0,603.8 579.5,604.1 181.5,605.8 90.9,574.8 266.4,603.7 330.1,585.6 435.8,600.8 150.4,606.5 357.0,586.5 420.0,601.4 245.6,586.4 331.1,600.8 460.6,604.4 591.5,581.4 95.9,573.0 166.6,581.7 249.2,585.2 646.5,582.6 293.0,603.1 115.9,604.9 203.4,604.2 263.6,600.1 535.1,603.7 245.7,585.1 525.1,583.0 523.4,603.4 122.3,581.8 619.8,606.1 611.4,608.1 255.1,587.1 416.1,602.3 629.7,583.0 483.1,604.7 362.4,585.3 148.1,608.5 452.6,603.2 310.6,584.8 200.3,603.2 260.3,587.4 169.4,609.7 320.6,584.3 649.2,580.9 383.7,582.6 409.7,604.3 133.5,608.6 313.0,601.5 336.7,579.0 101.6,575.1 437.5,601.3 179.3,581.9 286.7,585.8 163.0,582.0 595.7,602.6 628.6,583.9 506.1,601.1 625.0,605.5 159.2,581.8 349.8,605.6 590.9,582.6 143.9,610.4 500.8,604.1 580.7,604.5 317.0,602.5 338.5,586.7 558.5,605.5 360.8,586.0 411.5,600.3" fill="none" stroke="none" marker-start="url(#mb)" marker-mid="url(#mb)" marker-end="url(#mb)"/>
<polyline points="122.4,567.1 239.9,603.6 342.2,601.8 229.4,610.3 593.4,569.1 495.0,578.8 494.5,571.1 184.7,581.5 194.7,582.3 281.4,573.5 234.1,612.4 284.7,607.2 170.7,575.0 168.2,578.7 240.7,608.1 645.8,555.1 194.2,614.6 461.0,603.1 344.5,610.8 430.4,573.4 130.9,566.8 632.9,575.9 422.0,581.8 256.6,611.6 170.8,560.4 241.9,605.9 403.1,574.6 147.2,566.2 529.2,563.1 123.5,557.1 282.4,602.7 566.5,603.8 435.9,572.1 337.1,609.4" fill="none" stroke="none" marker-start="url(#mr)" marker-mid="url(#mr)" marker-end="url(#mr)"/>
<polyline points="381.6,578.6 177.7,610.5 160.9,613.1 218.7,615.9 340.0,579.2 607.4,579.3 438.6,578.9 418.0,583.2 425.9,605.1 272.9,576.2 539.7,567.3 504.4,579.6 137.0,619.0 465.3,580.0 465.5,604.5" fill="none" stroke="none" marker-start="url(#mg)" marker-mid="url(#mg)" marker-end="url(#mg)"/>
<polyline points="255.3,602.5 568.1,604.5 159.3,582.4 621.4,583.3 592.4,583.2 340.3,610.7 569.1,604.8 647.5,606.2 119.7,573.6 517.8,584.1 129.6,585.9 391.3,586.2 604.3,604.5 634.8,612.9 318.0,586.4 293.9,583.9 216.6,584.0 215.9,601.0 632.9,605.8 453.1,583.7 370.4,585.5 607.8,603.5 278.4,587.3 615.9,584.2 131.6,604.7 312.3,600.7 120.8,608.0 499.1,587.8 249.8,586.6 489.3,585.1 100.0,575.0 116.2,576.8 611.1,606.8 273.6,589.4 479.5,585.6 482.0,582.6 375.9,602.8 358.0,601.6 172.5,583.7 232.7,600.6 570.5,585.5 390.8,586.7 480.9,586.5 619.2,608.0 133.5,579.6 348.5,584.5 179.0,608.0 642.5,603.5 462.6,586.5 283.8,587.4 573.3,583.5 142.5,582.8 401.0,602.0 267.5,603.5 305.1,602.4 446.2,602.1 564.0,604.9 369.8,602.7 262.8,601.1 347.0,602.4 277.5,601.7 639.0,622.8 99.6,566.1 587.7,605.3 302.2,599.2 457.4,604.6 643.9,617.0 648.4,584.0 225.6,586.1 183.0,583.3 119.5,577.2 250.2,585.3 406.6,600.8 136.8,607.7 141.0,610.9 186.2,580.6 392.3,584.8 557.4,601.3 182.7,608.4 491.7,603.3 112.4,604.7 358.4,608.7 373.1,602.4 607.3,610.7 299.3,586.4 141.9,608.4 499.7,583.0 95.8,564.8 643.3,612.3 319.5,601.2 620.7,583.3 565.1,604.4 450.1,601.4 127.8,582.4 269.1,602.5 113.6,573.6 619.2,583.1 93.0,571.4 530.9,583.7 422.8,603.0 487.6,600.4 234.5,602.4 363.0,609.5 112.3,574.9 521.1,604.6" fill="none" stroke="none" marker-start="url(#mb)" marker-mid="url(#mb)" marker-end="url(#mb)"/>
<polyline points="139.0,579.1 302.8,582.6 166.2,582.7 293.7,611.1 288.8,607.1 496.0,609.2 609.8,570.6 419.1,573.7 432.2,584.2 642.1,575.8 535.0,578.4 418.8,601.5 342.6,582.8 290.8,615.4 650.4,572.0 620.3,559.5 453.9,577.5 309.4,606.6 598.8,576.9 111.5,581.9 416.2,584.2 525.0,575.3 262.2,617.8 365.0,581.2 261.9,608.7 433.6,604.7 157.2,580.8 319.3,605.2 447.0,573.8 412.1,585.6 211.5,607.9 285.4,581.0 393.3,576.4 519.9,608.8 511.2,603.4" fill="none" stroke="none" marker-start="url(#mr)" marker-mid="url(#mr)" marker-end="url(#mr)"/>
<polyline points="108.8,603.7 574.3,600.4 607.9,577.8 93.3,614.9 490.0,584.6 558.6,601.9 545.3,578.8 319.2,604.8 209.8,577.8 579.7,602.2 463.5,576.5 464.8,578.5 175.3,615.0 157.0,605.1 186.8,584.9 148.2,616.0 245.3,581.0 287.8,610.7 634.4,599.3 152.5,583.7 609.8,581.2 448.2,577.6 385.5,582.2 376.0,601.9 565.8,580.9 126.9,616.6" fill="none" stroke="none" marker-start="url(#mg)" marker-mid="url(#mg)" marker-end="url(#mg)"/>
<polyline points="94.2,603.7 160.8,608.4 626.9,604.4 592.9,606.8 407.9,604.6 301.9,603.3 243.2,586.7 399.5,601.3 277.1,586.2 243.4,602.4 149.6,583.4 110.1,570.6 346.7,604.1 522.7,603.8 604.8,606.0 308.5,604.4 382.1,584.4 294.7,582.6 638.8,612.0 494.4,605.1 131.6,607.6 152.4,583.8 630.3,582.3 592.2,604.8 417.8,584.1 547.8,582.2 122.7,604.5 173.7,610.7 248.9,599.8 321.5,586.5 477.3,603.8 308.2,584.3 282.8,600.7 504.0,585.6 198.4,603.2 318.6,602.7 127.2,605.9 613.4,607.2 496.9,586.4 552.1,604.0 537.9,605.6 312.5,602.5 168.4,583.1 633.7,582.9 162.2,607.6 562.0,607.3 190.0,581.4 117.5,604.0 281.3,584.5 502.0,600.8 404.5,583.5 136.6,585.3 388.4,585.5 239.5,585.0 277.3,587.1 393.6,586.4 337.9,609.8 495.0,585.5 607.5,584.3 282.4,586.3 471.0,583.6 390.4,587.2 347.4,614.9 178.1,585.6 635.3,604.0 372.5,602.4 340.7,605.1 109.2,577.5 639.9,584.8 496.7,601.9 225.0,585.8 326.1,584.8 532.2,583.1 621.4,604.8 332.5,603.0 295.2,587.7 344.1,609.0 260.0,584.3 488.2,583.1 251.6,604.9 379.8,605.2 391.7,585.2 365.3,602.2 259.4,601.3 179.1,607.9 401.4,583.8 444.4,602.3 240.4,600.5 198.6,605.8 233.1,584.2 509.2,582.0 305.7,584.8 510.3,585.9" fill="none" stroke="none" marker-start="url(#mb)" marker-mid="url(#mb)" marker-end="url(#mb)"/>
<polyline points="339.0,603.1 254.6,585.4 157.2,560.5 348.7,604.2 591.4,567.0 165.7,602.0 602.3,552.7 567.6,576.1 239.8,575.4 473.3,568.5 522.4,583.5 359.9,606.6 154.2,580.8 477.5,607.4 124.0,575.0 410.5,604.9 389.9,583.8 402.6,603.5 349.7,608.8 640.0,553.5 399.8,607.0 282.8,614.8 343.8,604.7 559.9,569.6 442.7,578.9 341.9,606.5 590.5,566.9 533.0,604.3 246.4,580.3 372.2,611.3 377.3,608.5 183.8,564.8 519.0,579.8 645.6,561.3 271.9,578.6" fill="none" stroke="none" marker-start="url(#mr)" marker-mid="url(#mr)" marker-end="url(#mr)"/>
<polyline points="99.4,628.2 592.1,575.8 387.0,583.8 471.6,579.2 238.4,604.3 446.8,583.3 648.5,582.0 180.4,601.6 415.4,579.2 629.3,563.1 204.4,604.6 139.6,619.6 209.5,604.8 607.8,572.7 177.1,615.3 607.1,578.8 528.9,582.3 209.3,606.7 314.2,582.5 211.6,607.3 429.5,583.2 452.2,604.7 329.3,607.1 167.5,605.0 196.4,574.9 157.6,605.9 650.4,576.3" fill="none" stroke="none" marker-start="url(#mg)" marker-mid="url(#mg)" marker-end="url(#mg)"/>
<polyline points="389.9,603.9 146.9,581.8 606.0,607.3 101.0,570.7 431.9,605.9 110.3,602.9 280.5,585.5 271.0,601.0 536.3,584.9 120.0,580.3 442.7,602.5 120.6,576.8 312.7,599.2 253.3,588.6 625.7,609.6 573.6,606.7 493.0,584.1 517.8,602.2 286.3,586.8 587.5,584.0 334.2,586.1 644.6,610.7 595.5,581.2 284.3,588.1 610.9,605.8 644.7,602.6 320.5,587.5 531.1,583.9 230.3,584.4 541.3,603.8 327.2,585.9 496.0,585.7 627.2,583.5 559.6,608.9 171.6,608.8 196.6,582.1 384.1,584.0 614.2,608.6 135.5,607.5 601.5,605.1 370.3,601.6 142.4,608.7 113.6,604.8 508.9,601.9 404.3,602.8 518.8,603.6 175.3,582.4 373.9,586.8 221.1,585.0 607.2,609.1 437.4,583.0 519.5,586.0 513.4,603.7 314.2,585.7 642.4,611.3 176.5,582.4 607.5,607.3 282.2,582.4 460.9,586.6 480.8,585.3 254.4,585.1 302.4,605.6 342.9,601.4 345.2,607.3 401.2,585.3 612.1,607.2 594.4,608.3 124.2,579.4 328.2,587.3 304.6,583.0 546.6,605.9 216.9,588.2 351.6,605.7 388.5,603.1 484.6,603.9 402.2,587.0 567.5,602.7 247.2,587.7 418.5,585.4 605.5,603.5 630.1,605.2 536.0,585.4 266.3,587.7 171.3,581.6 364.7,612.2 570.7,603.4 637.4,605.8 483.7,584.8 206.2,586.1 263.1,586.2 235.8,600.3 609.4,582.8" fill="none" stroke="none" marker-start="url(#mb)" marker-mid="url(#mb)" marker-end="url(#mb)"/>
<polyline points="228.0,605.1 320.3,607.2 378.3,581.8 194.6,584.1 540.6,570.8 616.4,579.1 205.4,609.8 415.6,601.7 489.9,600.1 127.2,566.7 101.2,573.5 313.6,571.5 483.2,570.7 518.1,602.0 518.8,603.9 435.2,575.8 557.6,571.6 599.3,572.3 481.1,570.4 106.0,577.7 159.9,583.8 429.7,608.3 268.7,577.0 461.0,580.7 464.6,609.1 548.3,567.9 539.9,572.4 281.8,615.6 102.2,566.5 541.6,576.5 518.2,576.9 578.3,577.8 482.1,569.0 113.1,582.6 261.5,580.6 208.2,580.7 248.2,605.9 508.1,581.7 388.8,584.1" fill="none" stroke="none" marker-start="url(#mr)" marker-mid="url(#mr)" marker-end="url(#mr)"/>
<polyline points="458.8,578.6 251.2,581.8 189.6,613.3 111.4,633.0 603.4,575.1 240.7,606.8 649.0,568.0 242.9,609.7 595.8,572.8 181.3,606.2 569.4,581.8 196.6,609.6 330.3,579.5 599.7,580.2 410.3,606.7 627.6,568.9 121.2,575.0 111.9,616.2 494.9,577.1 158.3,612.7 518.0,576.5 108.5,613.2 586.3,576.4 201.2,616.9 361.5,598.1 554.7,584.1 267.6,602.0 238.5,608.1 536.9,606.9 330.0,603.5 463.5,606.4" fill="none" stroke="none" marker-start="url(#mg)" marker-mid="url(#mg)" marker-end="url(#mg)"/>
<polyline points="416.0,603.4 622.5,580.8 528.1,603.0 333.0,578.8 619.1,607.9 354.6,613.1 268.5,604.2 495.1,602.9 417.3,586.8 522.0,603.8 288.3,603.6 253.0,586.2 354.3,584.6 649.5,619.1 638.6,609.8 490.6,585.8 315.0,600.1 568.1,603.1 564.3,584.7 214.8,587.8 347.4,606.4 494.0,602.6 281.5,586.4 182.4,605.9 404.1,601.8 547.7,602.4 505.6,585.7 340.9,572.5 616.0,606.3 649.6,620.5 327.4,584.2 376.1,604.9 420.1,604.0 111.6,606.7 536.2,585.4 602.4,582.1 650.7,614.5 646.1,583.8 154.8,584.9 443.6,585.5 137.2,582.0 299.1,587.9 548.6,602.2 514.2,601.9 448.2,603.5 646.9,609.9 241.4,584.1 347.7,603.4 358.7,584.1 189.5,608.8 207.3,586.7 133.5,607.1 520.1,584.9 315.4,604.8 552.9,602.4 475.3,602.4 349.1,603.2 516.3,602.2 504.6,602.5 109.6,574.1 217.6,585.6 645.7,617.0 466.1,603.6 450.7,602.9 183.4,606.4 110.1,578.4 532.0,584.4 611.7,605.7 382.2,583.3 569.6,603.4 625.3,606.6 172.2,584.5 477.8,584.6 580.4,581.3 248.2,600.7 525.2,586.0 116.5,579.5 166.6,608.4 102.6,565.2 194.3,606.7 453.8,602.8 173.4,606.9 307.4,587.8 625.8,612.8" fill="none" stroke="none" marker-start="url(#mb)" marker-mid="url(#mb)" marker-end="url(#mb)"/>
<polyline points="354.0,608.3 418.5,602.4 173.5,585.3 488.0,575.7 240.7,586.5 506.3,612.9 423.7,606.5 177.2,579.5 157.7,577.5 585.6,572.0 357.4,579.6 375.8,608.0 223.5,586.0 399.6,579.3 299.5,577.9 452.6,580.9 442.5,606.0 260.0,609.1 380.9,608.4 258.8,604.5 101.7,547.6 394.4,611.3 476.8,604.9 198.7,610.0 521.6,563.6 377.1,581.3 328.4,579.4 284.9,577.0 547.2,577.9 233.2,577.3 204.6,605.3 333.9,611.4 465.6,581.1" fill="none" stroke="none" marker-start="url(#mr)" marker-mid="url(#mr)" marker-end="url(#mr)"/>
<polyline points="114.8,625.2 185.2,610.4 414.5,577.4 103.3,622.5 559.1,584.2 165.2,606.7 339.8,584.2 600.7,581.8 572.5,571.8 552.0,583.4 405.2,583.8 103.0,620.9 179.1,614.2 404.3,582.5 388.3,579.5 500.0,581.9 508.2,576.8 642.1,559.6 468.3,582.3 559.7,575.4 91.3,623.8 451.3,580.0 437.2,606.6 269.7,578.4 612.6,585.2 531.9,583.5 508.7,606.8 510.3,599.3 411.7,584.1 431.2,576.0" fill="none" stroke="none" marker-start="url(#mg)" marker-mid="url(#mg)" marker-end="url(#mg)"/>
<polyline points="226.9,586.2 336.5,573.4 370.5,604.9 336.2,586.8 627.2,607.1 395.8,585.5 558.3,583.5 407.6,602.1 591.7,605.1 251.6,587.1 615.4,604.5 359.2,585.1 374.6,585.7 650.7,580.2 426.6,585.8 649.1,607.6 490.4,604.3 648.5,609.7 263.8,602.9 221.8,587.3 628.1,608.5 577.9,605.8 398.1,583.2 110.4,573.1 356.5,586.4 273.5,603.2 604.6,610.6 239.3,600.9 376.1,601.9 351.8,609.0 640.6,581.4 151.2,583.3 605.7,608.1 351.4,611.0 421.4,601.0 152.4,582.9 231.1,605.1 158.7,609.9 403.3,599.5 468.9,585.0 92.2,563.5 360.8,587.3 369.4,604.3 125.5,606.9 356.9,605.8 121.1,607.1 421.9,586.9 629.5,613.0 361.0,604.4 217.8,586.1 366.5,602.3 469.9,600.1 380.9,603.4 514.2,584.7 512.1,604.5 441.2,585.4 603.2,606.1 361.7,600.2 620.5,604.6 643.1,581.1 243.1,604.4 106.0,573.2 515.1,600.5 409.1,586.5 311.7,586.1 91.6,565.0 97.0,571.6 171.1,584.4 254.3,603.9 624.0,582.1 267.1,587.1 118.2,606.3 339.5,602.9 648.3,608.3 640.6,621.7 186.6,607.6 89.0,565.9 648.1,612.2 125.2,583.5 116.5,571.2 645.7,616.9 571.4,604.0 647.5,581.5 268.4,601.8 613.1,582.6 638.5,608.1 273.5,588.8 286.9,587.7 353.5,604.8 467.8,586.4" fill="none" stroke="none" marker-start="url(#mb)" marker-mid="url(#mb)" marker-end="url(#mb)"/>
<polyline points="572.9,568.9 371.9,578.4 334.6,610.6 500.8,607.5 284.8,616.4 374.4,606.5 94.1,580.4 554.9,578.8 279.8,603.4 336.1,584.7 149.8,580.3 557.5,577.9 449.8,603.5 164.4,607.6 173.5,586.2 403.0,605.2 266.8,575.9 469.4,604.7 378.2,579.6 274.0,581.1 443.0,608.1 238.8,620.7 204.5,583.9 504.5,574.5 207.8,615.2 544.2,579.4 411.9,605.8 290.3,607.7 379.2,584.9 342.2,606.7 394.2,576.3 261.2,607.5 347.0,601.0 592.9,577.7 333.2,578.3 631.1,553.5 176.1,609.3 597.3,577.7" fill="none" stroke="none" marker-start="url(#mr)" marker-mid="url(#mr)" marker-end="url(#mr)"/>
<polyline points="641.0,579.5 423.1,578.1 641.0,560.5 561.0,579.3 97.7,616.7 109.3,625.0 635.4,564.6 611.9,600.9 262.4,604.8 196.4,606.1 325.4,605.2 323.5,580.3 481.1,584.9 537.5,570.5 96.8,625.9 262.3,602.1 538.9,584.7" fill="none" stroke="none" marker-start="url(#mg)" marker-mid="url(#mg)" marker-end="url(#mg)"/>
<polyline points="442.1,585.6 345.2,601.0 572.5,606.2 192.7,604.9 189.2,605.5 630.9,602.5 583.0,603.4 462.3,584.7 147.8,610.3 633.6,605.3 630.3,604.2 488.5,582.9 580.1,584.4 249.3,583.5 279.8,601.3 157.2,609.8 618.1,615.4 109.6,575.8 575.3,583.6 217.4,602.9 110.4,579.2 251.9,601.6 227.4,599.8 330.7,587.6 439.1,604.8 192.6,603.8 378.3,600.4 141.2,582.8 450.4,600.5 220.8,588.8 541.0,584.4 366.0,585.5 429.7,585.2 130.6,583.7 415.2,585.7 443.9,603.7 389.0,601.9 422.6,586.0 641.0,611.6 251.4,586.9 471.3,602.6 330.2,576.0 137.9,579.5 403.5,583.4 334.1,577.8 110.3,577.9 390.8,602.5 403.2,584.3 111.5,580.0 379.5,585.7 436.3,601.4 105.4,575.8 334.4,585.2 364.7,585.4 410.1,599.8 167.5,608.0 230.3,600.2 640.0,612.5 332.1,584.5 334.8,600.6 467.6,584.4 126.0,607.0 235.3,603.4 136.1,580.2 575.3,602.6 194.1,602.5 159.7,584.2 139.1,583.6 648.1,610.5 161.8,609.8 636.8,609.3 548.7,607.0 128.8,606.5 333.0,576.7 517.5,604.1 191.4,582.4 503.2,602.9 624.7,581.9 432.2,586.4 211.3,602.5 111.7,571.9 517.0,586.1 567.6,583.4 336.1,577.2 272.9,588.0 640.5,603.8 150.5,583.0 165.9,582.8 434.5,604.6 581.7,607.5 457.3,601.3 637.9,608.7 533.5,604.8 635.2,611.1 374.9,586.0 636.3,584.6 187.8,586.8 178.5,606.2" fill="none" stroke="none" marker-start="url(#mb)" marker-mid="url(#mb)" marker-end="url(#mb)"/>
</g>
<polyline points="103.2,592.1 128.7,593.1 154.1,593.8 179.6,594.1 205.0,594.1 230.5,594.0 255.9,593.9 281.4,593.9 306.9,593.7 332.3,593.3 357.8,592.9 383.2,592.7 408.7,592.5 434.1,592.8 459.6,592.3 485.0,591.6 510.5,590.8 536.0,590.3 561.4,589.9 586.9,589.6 612.3,589.4 637.8,589.1" fill="none" stroke="#ff0000" stroke-width="2.6" stroke-linejoin="round"/>
<polyline points="103.2,603.1 128.7,601.7 154.1,600.3 179.6,599.1 205.0,598.5 230.5,598.0 255.9,597.4 281.4,597.0 306.9,596.5 332.3,595.5 357.8,594.3 383.2,593.3 408.7,591.8 434.1,591.1 459.6,590.3 485.0,589.5 510.5,588.9 536.0,588.3 561.4,587.7 586.9,587.4 612.3,587.4 637.8,587.4" fill="none" stroke="#00c800" stroke-width="2.6" stroke-linejoin="round"/>
<polyline points="103.2,593.3 128.7,594.4 154.1,595.5 179.6,595.6 205.0,595.8 230.5,595.9 255.9,596.0 281.4,595.9 306.9,595.5 332.3,594.8 357.8,594.6 383.2,594.5 408.7,594.2 434.1,594.2 459.6,594.2 485.0,593.8 510.5,593.5 536.0,593.5 561.4,593.5 586.9,593.8 612.3,594.8 637.8,595.3" fill="none" stroke="#0000ff" stroke-width="2.6" stroke-linejoin="round"/>
<line x1="65.6" y1="593.2" x2="676.4" y2="593.2" class="z"/>
<rect x="65.2" y="431.6" width="611.2" height="323.8" class="b"/>
<text x="61.4" y="771.0" text-anchor="middle">-60</text>
<text x="137.8" y="771.0" text-anchor="middle">-45</text>
<text x="214.2" y="771.0" text-anchor="middle">-30</text>
<text x="290.5" y="771.0" text-anchor="middle">-15</text>
<text x="370.5" y="771.0" text-anchor="middle">0</text>
<text x="446.9" y="771.0" text-anchor="middle">15</text>
<text x="523.2" y="771.0" text-anchor="middle">30</text>
<text x="599.6" y="771.0" text-anchor="middle">45</text>
<text x="676.0" y="771.0" text-anchor="middle">60</text>
<text x="62.6" y="761.2" text-anchor="end">-100</text>
<text x="62.6" y="680.2" text-anchor="end">-50</text>
<text x="62.6" y="599.2" text-anchor="end">0</text>
<text x="62.6" y="518.2" text-anchor="end">50</text>
<text x="62.6" y="437.2" text-anchor="end">100</text>
<text x="370.1" y="418.0" text-anchor="middle" class="tt">Residuals SWARM data wrt. CHAOS-6-x8</text>
<text x="368.5" y="789.7" text-anchor="middle" style="font-size:16.4px">QD Latitude (degrees)</text>
<text transform="translate(23.6,594.9) rotate(-90)" text-anchor="middle" style="font-size:16.5px">Data residuals (nT)</text>
<rect x="639.3" y="434.2" width="34.5" height="61.2" class="lg"/>
<line x1="641.9" y1="444.6" x2="657.4" y2="444.6" stroke="#ff0000" stroke-width="2.4"/>
<text x="659.6" y="448.3" style="font-size:16.5px">N</text>
<line x1="641.9" y1="464.6" x2="657.4" y2="464.6" stroke="#00c800" stroke-width="2.4"/>
<text x="659.6" y="468.3" style="font-size:16.5px">E</text>
<line x1="641.9" y1="484.6" x2="657.4" y2="484.6" stroke="#0000ff" stroke-width="2.4"/>
<text x="659.6" y="488.3" style="font-size:16.5px">C</text>
</svg></body></html>
